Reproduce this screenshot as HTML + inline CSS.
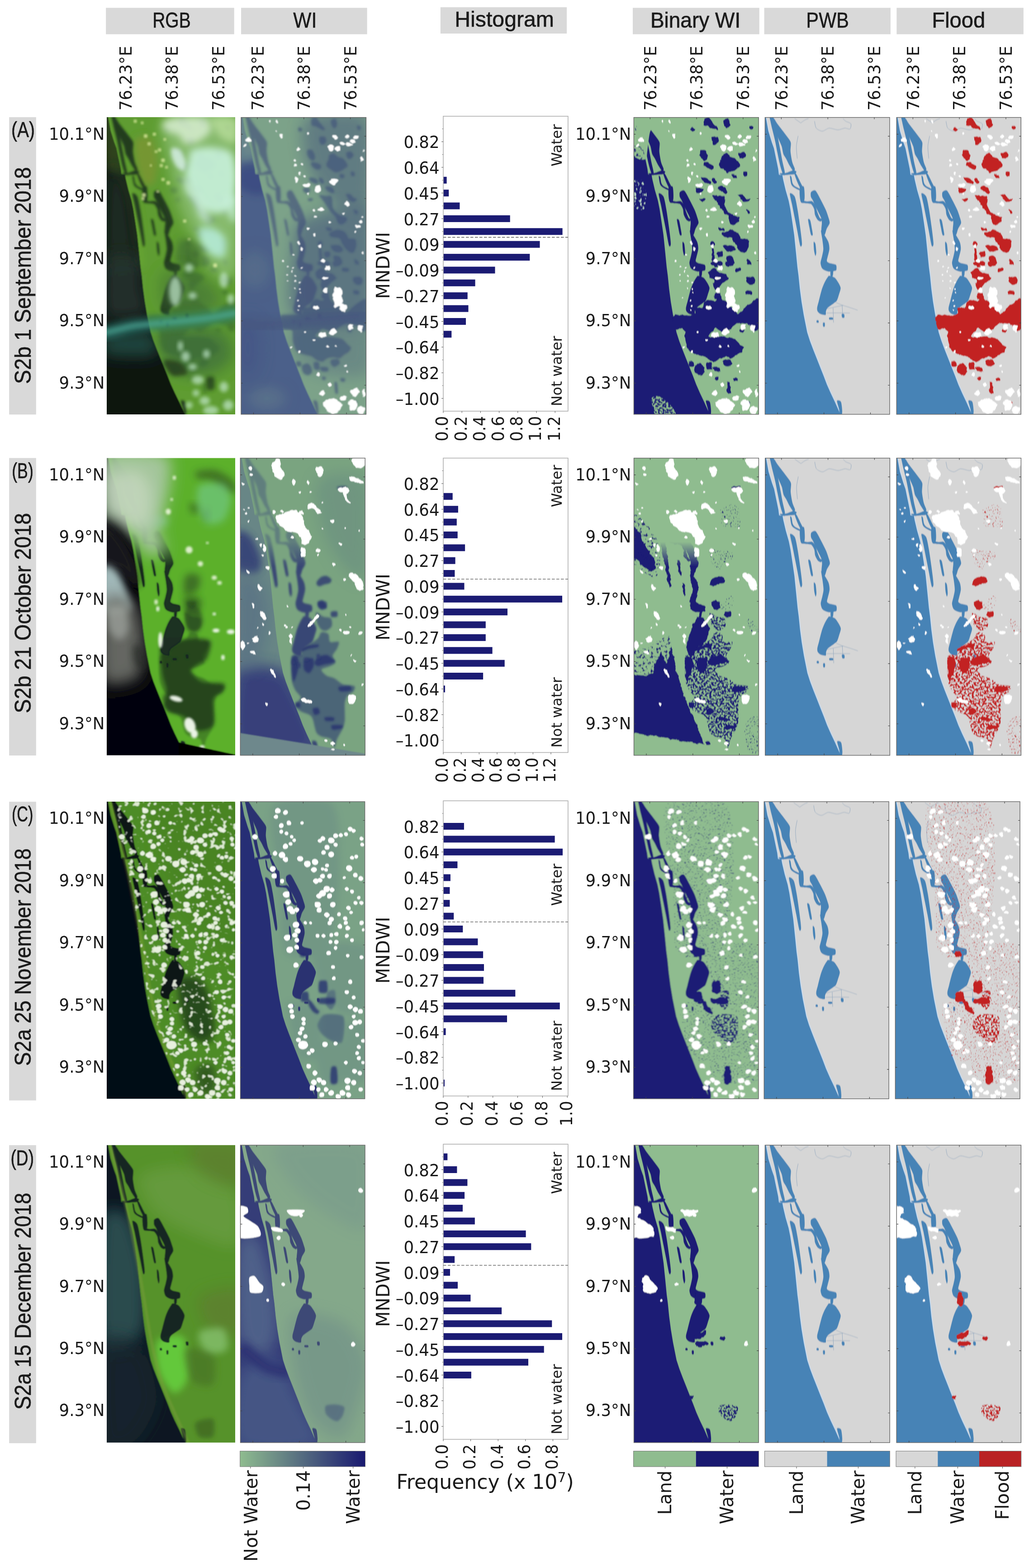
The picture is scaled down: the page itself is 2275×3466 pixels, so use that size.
<!DOCTYPE html>
<html lang="en"><head><meta charset="utf-8"><title>Flood mapping figure</title>
<style>
html,body{margin:0;padding:0;background:#ffffff;}
body{width:2275px;height:3466px;overflow:hidden;}
svg{display:block;}
text{white-space:pre;}
</style></head><body>
<svg width="2275" height="3466" viewBox="0 0 2275 3466">
<rect width="2275" height="3466" fill="#ffffff"/>
<defs>
<linearGradient id="wigrad" x1="0" y1="0" x2="1" y2="0"><stop offset="0" stop-color="#8fbc8f"/><stop offset="1" stop-color="#191970"/></linearGradient>
<path id="ocean" d="M-5 -5 2.8 -1.3 8.2 29.4 15.9 54.4 20.7 67.8 25.5 90.9 30.3 113.9 31.6 125.4 39.3 126.6 41.2 137 46.6 160 53.3 183 57.2 202.3 61.6 231.1 65.8 259.9 69.7 298.3 72.9 330.9 75.4 349.8 78.3 378.6 82.1 407.4 86.9 436.2 94.6 474.6 100.8 493.8 108.1 513 115.8 532.3 123.4 551.5 131.1 570.7 138.4 589.9 146.9 609.1 156.1 628.3 163.8 645.6 170.5 660 172.5 665 -5 665Z"/>
<g id="inwater"><path d="M10.5 -1.3C11.3 -2.6 16.5 -4.1 18.2 -1.3C19.9 1.5 22.2 13.7 23.6 19.8C25 26 27.2 37.9 28.6 44.8C29.9 51.7 32.6 64.5 33.9 71.7C35.3 78.8 37.6 91.9 38.9 98.5C40.3 105.2 43.9 118.3 43.9 121.6C44 124.9 40.7 125.6 39.3 123.5C37.9 121.5 35.1 112.4 33.6 106.2C32 100.1 29 85.1 27.4 77.4C25.8 69.7 23.2 55.5 21.6 48.6C20.1 41.7 17.2 30.9 15.9 25.6C14.6 20.2 12.8 11.9 12 8.3C11.3 4.7 9.7 0 10.5 -1.3Z"/><path d="M19.7 2.5C20.5 1.8 24.8 10.5 27.4 14C30 17.6 36 25.1 39.3 29.4C42.6 33.8 50 43.1 52.4 46.7C54.8 50.3 56.8 52.5 57.4 56.3C57.9 60.1 56.2 69.9 56.6 75.5C57 81.1 59.2 93.4 60.4 98.5C61.7 103.7 65.9 111.2 66.2 113.9C66.5 116.6 64.5 119.7 62.9 118.7C61.4 117.7 56.5 109.9 54.3 106.2C52.1 102.5 48.4 94.2 46.6 90.9C44.8 87.5 42.1 84.8 40.9 81.3C39.6 77.7 38.4 68.3 37 64C35.6 59.6 32 52.7 30.3 48.6C28.6 44.5 25.7 37.1 24.5 33.3C23.3 29.4 21.9 23.9 21.3 19.8C20.6 15.7 18.9 3.3 19.7 2.5Z"/><path d="M32.2 123.5C33.2 122.8 42.6 123.3 46.6 122.4C50.6 121.5 58.9 117.2 62 116.8C65.1 116.4 69.1 118.5 69.7 119.7C70.2 120.8 67.9 124.5 65.8 125.4C63.8 126.4 57.8 126.3 54.3 126.6C50.8 126.9 42.3 128.1 39.3 127.7C36.4 127.3 31.2 124.2 32.2 123.5Z"/><path d="M64.9 123.5C64.6 121.2 67.7 122.6 69.7 125.4C71.6 128.3 77 140 79.3 144.6C81.6 149.2 86.2 157.4 86.9 160C87.7 162.6 86 164.1 85 163.8C84 163.6 81.1 160.9 79.3 158.1C77.5 155.3 73.5 147.3 71.6 142.7C69.7 138.1 65.1 125.8 64.9 123.5Z"/><path d="M55.3 129.3C55.3 127 57.8 129.1 58.5 131.2C59.3 133.2 60 142 61 144.6C62 147.3 63.6 149.6 65.8 151.4C68 153.1 75.9 156.4 77.3 157.7C78.8 159 78 161.3 76.4 161C74.7 160.6 67.2 156.9 64.9 155.2C62.5 153.5 59.8 151.9 58.5 148.5C57.2 145 55.3 131.6 55.3 129.3Z"/><path d="M77.7 154.2C78.9 151.7 84.6 150.7 86 152.7C87.3 154.8 87.8 165.4 87.9 169.6C88 173.8 88.1 181.9 86.9 184C85.8 186.1 80.6 187 79.3 185.4C77.9 183.7 77.2 175.7 77 171.5C76.8 167.4 76.5 156.8 77.7 154.2Z"/><path d="M79.3 183C80.8 182.6 89.4 185.1 92.7 185.4C96 185.6 101.7 183.7 104.2 185C106.8 186.2 110.4 191.5 111.9 194.6C113.4 197.6 114.5 204.4 115.8 208C117 211.6 120 219.1 121.5 221.5C123.1 223.8 127 224.5 127.3 225.7C127.5 226.8 124.8 230 123.4 230.1C122 230.2 118.4 228.2 116.7 226.3C115.1 224.3 112.2 218.9 111.1 215.7C110.1 212.5 110.2 205.5 109 202.3C107.9 199.1 104.7 193.4 102.3 191.7C99.9 190 93.6 190.2 90.8 189.8C88 189.4 82.7 189.7 81.2 188.8C79.6 187.9 77.7 183.5 79.3 183Z"/><path d="M102.3 164.8C103.6 163 109.1 159.4 111.9 161.5C114.7 163.7 120.4 175.4 123.4 181.1C126.5 186.8 132.7 198.9 135 204.2C137.3 209.4 139.6 216.6 140.7 220.5C141.9 224.4 144.1 229.9 143.6 233.4C143.1 236.8 138.4 242.9 136.9 246.4C135.3 250 133.6 259.4 132.1 259.9C130.5 260.4 126.1 253.9 125.4 250.3C124.6 246.7 126.4 236.8 126.3 233C126.2 229.1 125.9 225.6 124.4 221.5C122.9 217.4 117.2 207.2 114.8 202.3C112.4 197.3 108.2 187.6 106.5 184C104.8 180.4 102.5 177.9 101.9 175.4C101.4 172.8 101 166.6 102.3 164.8Z"/><path d="M55.3 167.7C56 165.3 63.6 169.8 65.8 174.4C68 179 70.4 193.4 72 202.3C73.6 211.1 76.4 230.4 77.7 240.7C79.1 250.9 82.1 273.3 82.1 279.1C82.2 284.8 79.7 287.7 78.3 283.9C76.9 280 73.2 258.6 71.6 250.3C69.9 241.9 67.4 229.1 65.8 221.5C64.3 213.8 61.5 199.8 60.1 192.7C58.6 185.5 54.5 170.1 55.3 167.7Z"/><path d="M95.6 225.3C95.8 223 99.2 224.4 100.4 227.2C101.5 230 103.5 242.1 104.2 246.4C105 250.8 106.4 258.1 106.1 259.9C105.9 261.7 103.3 261.9 102.3 259.9C101.3 257.8 99.7 249.1 98.9 244.5C98 239.9 95.4 227.6 95.6 225.3Z"/><path d="M108.1 275.2C108.5 273.2 111.1 276 111.9 279.1C112.7 282.1 113.8 294.7 113.8 298.3C113.8 301.9 112.6 306.5 111.9 306C111.3 305.4 109.5 298.5 109 294.4C108.5 290.3 107.7 277.3 108.1 275.2Z"/><path d="M124.4 249.3C125 248 129.9 256.4 132.1 259.9C134.3 263.3 139.3 271.1 140.7 275.2C142.2 279.3 143.2 286.2 143 290.6C142.8 294.9 140 304.3 139.2 307.9C138.4 311.5 136.8 315.6 137.3 317.5C137.7 319.3 140 320.6 142.6 321.7C145.3 322.8 155.1 323.8 157.2 325.5C159.4 327.3 158.9 333 158.8 334.8C158.7 336.6 158.6 338.2 156.5 339C154.3 339.8 145.9 341.1 142.6 340.9C139.4 340.7 134.3 338.7 132.1 337.6C129.9 336.6 127.5 335 126.3 332.8C125.2 330.7 123.4 324.9 123.4 321.3C123.5 317.7 126.1 310.1 126.9 306C127.7 301.9 129.5 295.5 129.6 290.6C129.6 285.7 128 275 127.3 269.5C126.6 264 123.8 250.6 124.4 249.3Z"/><path d="M146.1 330.6C146.9 328.3 150.7 330 151.3 332.5C151.9 335.1 151.5 347.5 150.7 349.8C149.9 352.1 146.1 352.4 145.5 349.8C144.9 347.2 145.3 332.9 146.1 330.6Z"/><path d="M142.6 349.8C144.7 349.8 151.6 351.9 154.2 353.6C156.7 355.4 160 360.2 161.8 363.3C163.7 366.3 167.7 372.9 168 376.7C168.3 380.5 165.3 388.2 164.1 392.1C163 395.9 160.9 402.9 159.3 405.5C157.8 408.1 154.9 409.2 152.2 411.3C149.6 413.3 141.4 418.6 139.2 420.9C136.9 423.2 136 426.4 135.3 428.5C134.7 430.6 136 435.8 134.4 436.6C132.8 437.4 125.8 435.7 123.4 434.7C121.1 433.7 117.9 430.8 116.9 428.9C115.9 427.1 115.4 424 115.8 420.9C116.1 417.7 118.6 409.6 119.6 405.5C120.6 401.4 122.4 394 123.4 390.1C124.5 386.3 126 380.3 127.3 376.7C128.6 373.1 131.5 366.3 133 363.3C134.6 360.2 137.5 355.4 138.8 353.6C140.1 351.9 140.6 349.8 142.6 349.8Z"/><path d="M142.6 442.4C143.6 441.8 149.2 441.8 150.3 442.4C151.4 443 151.7 446.2 150.7 446.8C149.7 447.4 144.1 447.4 143 446.8C141.9 446.2 141.7 443 142.6 442.4Z"/><path d="M170.5 434.7C171 433.7 174.9 433.7 175.7 434.7C176.4 435.7 176.8 441.4 176.2 442.4C175.7 443.4 172.2 443.4 171.4 442.4C170.7 441.4 169.9 435.7 170.5 434.7Z"/><path d="M128.8 453.9C129.3 452.8 132.1 452.8 132.7 453.9C133.2 455 133.1 461.1 132.7 462.2C132.2 463.3 129.7 463.3 129.2 462.2C128.7 461.1 128.4 455 128.8 453.9Z"/><path d="M114.8 448.7C115.3 448.1 118 448.1 118.6 448.7C119.2 449.4 119.7 452.9 119.2 453.5C118.7 454.2 115.4 454.2 114.8 453.5C114.2 452.9 114.3 449.4 114.8 448.7Z"/><path d="M159.9 626.4C160.4 624.1 167 625.5 168.6 628.3C170.1 631.1 171.2 643.5 171.4 647.5C171.7 651.5 171.1 657 170.5 658.4C169.8 659.9 167.4 660.1 166.6 658.4C165.9 656.7 165.6 649.8 164.7 645.6C163.8 641.3 159.4 628.7 159.9 626.4Z"/></g>
<g id="canals" fill="none"><path d="M158 409.3C160.1 410.2 169 414 173.4 415.5C177.7 417 186.3 419.4 190.7 420.9C195 422.3 204 425.5 206 426.2"/><path d="M136.9 423.2C139.2 422.7 149.3 420.4 154.2 419.3C159 418.3 170.8 416 173.4 415.5"/><path d="M136.9 432.4C140.2 432.3 154.9 432 161.8 432C168.8 432 185.1 432.3 188.7 432.4"/><path d="M171.4 415.5 172.4 436.2"/><path d="M151.3 420.9 152.2 453.5"/><path d="M79.3 12.1C80.5 11.2 86.6 6.7 88.9 5.4C91.2 4.1 95.5 2.9 96.5 2.5"/><path d="M65.8 2.5 79.3 12.1"/><path d="M110 8.3C110.5 10.3 111.5 20.7 113.8 23.6C116.1 26.6 123.4 30.4 127.3 30.4C131.1 30.4 138 24 142.6 23.6C147.2 23.3 157.2 27.5 161.8 27.5C166.5 27.5 173.6 23.9 177.2 23.6C180.8 23.4 186.9 26.8 188.7 25.6C190.5 24.3 191.9 16.4 190.7 14C189.4 11.7 181.4 9.8 179.1 8.3C176.8 6.7 174.1 3.3 173.4 2.5"/><path d="M73.5 40.9C73 44 69.9 57.3 69.7 64C69.4 70.6 71.3 87.3 71.6 90.9"/></g>
<filter id="soft" filterUnits="userSpaceOnUse" x="-10" y="-10" width="310" height="690"><feGaussianBlur stdDeviation="0.8"/></filter>
<filter id="b2" x="-20%" y="-20%" width="140%" height="140%"><feGaussianBlur stdDeviation="2"/></filter>
<filter id="b4" x="-30%" y="-30%" width="160%" height="160%"><feGaussianBlur stdDeviation="4"/></filter>
<filter id="b8" x="-40%" y="-40%" width="180%" height="180%"><feGaussianBlur stdDeviation="8"/></filter>
<filter id="b16" x="-50%" y="-50%" width="200%" height="200%"><feGaussianBlur stdDeviation="16"/></filter>
<filter id="rough" x="-5%" y="-5%" width="110%" height="110%"><feTurbulence type="fractalNoise" baseFrequency="0.09" numOctaves="2" seed="7" result="n"/><feDisplacementMap in="SourceGraphic" in2="n" scale="7" xChannelSelector="R" yChannelSelector="G"/></filter>
<filter id="spk1" x="-2%" y="-2%" width="104%" height="104%"><feTurbulence type="fractalNoise" baseFrequency="0.22" numOctaves="2" seed="3" result="n"/><feColorMatrix in="n" type="matrix" values="0 0 0 0 0 0 0 0 0 0 0 0 0 0 0 0 0 0 8 -3.5" result="m"/><feComposite in="SourceGraphic" in2="m" operator="in"/></filter>
<filter id="spk2" x="-2%" y="-2%" width="104%" height="104%"><feTurbulence type="fractalNoise" baseFrequency="0.3" numOctaves="2" seed="5" result="n"/><feColorMatrix in="n" type="matrix" values="0 0 0 0 0 0 0 0 0 0 0 0 0 0 0 0 0 0 10 -6.3" result="m"/><feComposite in="SourceGraphic" in2="m" operator="in"/></filter>
<filter id="spk3" x="-2%" y="-2%" width="104%" height="104%"><feTurbulence type="fractalNoise" baseFrequency="0.16" numOctaves="2" seed="11" result="n"/><feColorMatrix in="n" type="matrix" values="0 0 0 0 0 0 0 0 0 0 0 0 0 0 0 0 0 0 6 -3.3" result="m"/><feComposite in="SourceGraphic" in2="m" operator="in"/></filter>
<filter id="spk4" x="-2%" y="-2%" width="104%" height="104%"><feTurbulence type="fractalNoise" baseFrequency="0.085" numOctaves="2" seed="21" result="n"/><feColorMatrix in="n" type="matrix" values="0 0 0 0 0 0 0 0 0 0 0 0 0 0 0 0 0 0 12 -7.3" result="m"/><feComposite in="SourceGraphic" in2="m" operator="in"/></filter>
<g id="flood0"><path d="M157 1.6C158.5 0.2 164.6 -0.7 166.6 0.2C168.7 1.1 170.6 5.9 172.4 8.3C174.2 10.6 178.3 15.6 180 17.9C181.8 20.2 185.6 24.2 185.8 25.6C186.1 27 183.8 28.7 182 28.4C180.2 28.2 174.7 24.8 172.4 23.6C170.1 22.5 166.7 20.6 164.7 19.8C162.6 19 158.3 19.2 157 17.9C155.7 16.6 155.1 12.4 155.1 10.2C155.1 8 155.5 2.9 157 1.6Z"/><path d="M199.3 6.4C200.4 4.6 207.1 1.8 208.9 2.5C210.6 3.3 212.4 9.6 212.7 12.1C213 14.7 211.8 20.2 210.8 21.7C209.8 23.3 206.4 24.4 205 23.6C203.6 22.9 201 18.3 200.2 16C199.4 13.7 198.1 8.2 199.3 6.4Z"/><path d="M128.2 21.7C129.2 21.3 133.1 22.6 134 23.6C134.9 24.7 135.6 28.4 134.9 29.4C134.3 30.4 130.3 31.7 129.2 31.3C128 30.9 126.4 27.8 126.3 26.5C126.1 25.2 127.2 22.1 128.2 21.7Z"/><path d="M256.9 17.9C257.6 16.9 263.5 18.7 264.6 19.8C265.6 21 265.3 25.5 264.6 26.5C263.8 27.6 259.8 28.6 258.8 27.5C257.8 26.3 256.1 18.9 256.9 17.9Z"/><path d="M174.3 42.9C176 41.6 183.9 41.8 185.8 42.9C187.7 43.9 188.7 48.5 188.7 50.5C188.7 52.6 187.2 56.9 185.8 58.2C184.4 59.5 179.8 60.9 178.1 60.1C176.5 59.4 173.8 54.8 173.3 52.5C172.8 50.2 172.6 44.1 174.3 42.9Z"/><path d="M147.4 71.7C148.8 70.4 155 70.4 157 71.7C159.1 72.9 161.9 78.7 162.8 81.3C163.7 83.8 164.2 88.9 163.7 90.9C163.2 92.8 160.6 95.7 158.9 95.7C157.3 95.7 152.9 92.8 151.2 90.9C149.6 88.9 147 83.8 146.4 81.3C145.9 78.7 146 72.9 147.4 71.7Z"/><path d="M157 98.5C158.8 98 165.8 99.4 168.5 100.5C171.2 101.5 176.3 104.4 177.2 106.2C178.1 108 176.7 112.8 175.2 113.9C173.8 115.1 168.8 115.4 166.6 114.9C164.4 114.4 160.5 111.5 158.9 110.1C157.4 108.7 155.3 105.8 155.1 104.3C154.8 102.8 155.2 99.1 157 98.5Z"/><path d="M195.4 83.2C196.9 81.4 202.5 78.8 205 79.3C207.6 79.9 211.8 85.5 214.6 87C217.4 88.6 223.6 89.1 226.1 90.9C228.7 92.7 232.5 98.2 233.8 100.5C235.1 102.8 236.5 106.4 235.7 108.1C235 109.9 230.4 112.4 228.1 113.9C225.8 115.4 221 118.6 218.5 119.7C215.9 120.7 211.4 122.1 208.9 121.6C206.3 121.1 201.8 117.6 199.3 115.8C196.7 114 190.9 110.2 189.7 108.1C188.4 106.1 189.1 102.5 189.7 100.5C190.2 98.4 192.7 95.1 193.5 92.8C194.3 90.5 193.9 85 195.4 83.2Z"/><path d="M233.8 77.4C235.2 76.4 241.4 74.7 243.4 75.5C245.5 76.3 249.2 81.1 249.2 83.2C249.2 85.2 245.1 89.8 243.4 90.9C241.8 91.9 238.1 91.9 236.7 90.9C235.3 89.8 233.2 85 232.9 83.2C232.5 81.4 232.4 78.4 233.8 77.4Z"/><path d="M243.4 119.7C244.3 118.6 250.1 120.3 251.1 121.6C252.1 122.9 252 128.3 251.1 129.3C250.2 130.3 245.4 130.6 244.4 129.3C243.4 128 242.5 120.7 243.4 119.7Z"/><path d="M218.5 125.4C219.5 124.4 226.8 125.4 228.1 126.4C229.3 127.4 229.1 132.1 228.1 133.1C227 134.1 221.7 135.1 220.4 134.1C219.1 133.1 217.4 126.5 218.5 125.4Z"/><path d="M151.2 133.1C152.7 132.3 160.2 133.1 162.8 134.1C165.3 135.1 169.7 139.1 170.4 140.8C171.2 142.5 170.1 146 168.5 146.6C167 147.1 161.1 145.5 158.9 144.6C156.7 143.7 153.2 141.4 152.2 139.8C151.2 138.3 149.8 133.9 151.2 133.1Z"/><path d="M173.3 133.1C174.2 132.3 178.6 133.5 180 135C181.5 136.6 184.1 143.1 183.9 144.6C183.6 146.2 179.5 147.1 178.1 146.6C176.7 146 174 142.6 173.3 140.8C172.7 139 172.4 133.9 173.3 133.1Z"/><path d="M137.8 156.2C139.5 155.1 149.3 155.1 151.2 156.2C153.2 157.2 153 162.3 152.2 163.8C151.4 165.4 147.3 167.7 145.5 167.7C143.7 167.7 139.8 165.4 138.8 163.8C137.7 162.3 136.1 157.2 137.8 156.2Z"/><path d="M187.7 152.3C189.5 151.8 198.6 152.7 201.2 154.2C203.7 155.8 206.7 162.1 206.9 163.8C207.2 165.6 204.9 167.7 203.1 167.7C201.3 167.7 195.5 165.1 193.5 163.8C191.4 162.6 188.5 159.6 187.7 158.1C187 156.5 185.9 152.8 187.7 152.3Z"/><path d="M173.3 171.5C174.6 170.8 184.3 173.2 187.7 173.4C191.2 173.7 197.3 172.2 199.3 173.4C201.2 174.7 201.6 179.7 202.1 183C202.6 186.4 202.2 195.1 203.1 198.4C204 201.7 206.8 205.7 208.9 208C210.9 210.3 215.1 213.9 218.5 215.7C221.8 217.5 232 219.4 233.8 221.5C235.6 223.5 233.4 229 231.9 231.1C230.4 233.1 224.6 236.6 222.3 236.8C220 237.1 216.4 235.3 214.6 233C212.8 230.7 210.9 222.6 208.9 219.5C206.8 216.5 201.6 212.8 199.3 209.9C196.9 207.1 193.6 201.5 191.6 198.4C189.5 195.3 185.7 189.5 183.9 186.9C182.1 184.3 179.5 181.3 178.1 179.2C176.7 177.2 172 172.3 173.3 171.5Z"/><path d="M231.9 169.6C232.8 168.8 239.2 168.6 241.5 169.6C243.8 170.6 247.1 175.8 249.2 177.3C251.2 178.8 256.9 179.8 256.9 181.1C256.9 182.4 251.5 186.6 249.2 186.9C246.9 187.1 241.5 184.6 239.6 183C237.7 181.5 235.8 177.2 234.8 175.4C233.8 173.6 231 170.4 231.9 169.6Z"/><path d="M147.4 180.2C148.2 179.3 155.5 177.9 157 178.2C158.5 178.6 159.7 182.2 158.9 183C158.2 183.9 152.8 185.4 151.2 185C149.7 184.6 146.6 181.1 147.4 180.2Z"/><path d="M249.2 204.2C249.7 203.3 255.6 205.1 256.9 206.1C258.1 207.1 259.3 211 258.8 211.9C258.3 212.8 254.3 213.8 253 212.8C251.7 211.8 248.7 205.1 249.2 204.2Z"/><path d="M195.4 256C197.2 254 208.3 248.9 212.7 248.3C217.1 247.8 225 250.4 228.1 252.2C231.1 254 234.5 259.7 235.7 261.8C237 263.8 235.4 266.5 237.7 267.6C240 268.6 250.7 267.2 253 269.5C255.3 271.8 255.5 281 254.9 284.8C254.4 288.7 251 296.5 249.2 298.3C247.4 300.1 243.8 299.3 241.5 298.3C239.2 297.3 234.2 293.2 231.9 290.6C229.6 288 226 282.1 224.2 279.1C222.4 276 220.5 269.3 218.5 267.6C216.4 265.8 211.4 266.1 208.9 265.6C206.3 265.1 201 265 199.3 263.7C197.5 262.4 193.6 258.1 195.4 256Z"/><path d="M199.3 282.9C201.6 281.9 214.9 281.6 218.5 282.9C222 284.2 226.1 290.5 226.1 292.5C226.1 294.6 221 297.8 218.5 298.3C215.9 298.8 209.2 297.4 206.9 296.4C204.6 295.3 202.2 292.4 201.2 290.6C200.2 288.8 196.9 283.9 199.3 282.9Z"/><path d="M187.7 242.6C188.8 241.8 197.5 243.5 199.3 244.5C201 245.5 202.2 249.5 201.2 250.3C200.2 251 193.4 251.3 191.6 250.3C189.8 249.2 186.7 243.4 187.7 242.6Z"/><path d="M170.4 275.2C171.2 273.7 176.8 272.3 178.1 273.3C179.4 274.3 180.8 281.4 180 282.9C179.3 284.5 173.6 285.9 172.4 284.8C171.1 283.8 169.7 276.8 170.4 275.2Z"/><path d="M172.4 290.6C172.8 287 176.1 287.5 177.2 290.6C178.2 293.7 178.9 308.5 180 313.6C181.2 318.8 185.8 326.7 185.8 329C185.8 331.3 181.6 332.5 180 330.9C178.5 329.4 175.3 322.9 174.3 317.5C173.3 312.1 172 294.2 172.4 290.6Z"/><path d="M183.9 298.3C184.9 296.5 193.6 295.3 195.4 296.4C197.2 297.4 198.4 304.2 197.3 306C196.3 307.8 189.5 310.8 187.7 309.8C185.9 308.8 182.9 300.1 183.9 298.3Z"/><path d="M205 306C206.6 304.7 215.9 305.8 218.5 307.9C221 309.9 224.7 318.5 224.2 321.3C223.7 324.1 216.9 329.5 214.6 329C212.3 328.5 208.2 320.6 206.9 317.5C205.7 314.4 203.5 307.2 205 306Z"/><path d="M251.1 313.6C251.9 312.9 257.5 315.9 258.8 317.5C260.1 319 261.5 324.4 260.7 325.2C259.9 325.9 254.3 324.8 253 323.2C251.7 321.7 250.3 314.4 251.1 313.6Z"/><path d="M187.7 317.5C189 316.5 196.3 319.5 197.3 321.3C198.4 323.1 196.7 329.9 195.4 330.9C194.1 332 188.8 330.8 187.7 329C186.7 327.2 186.5 318.5 187.7 317.5Z"/><path d="M87.9 438.1C91.1 435.1 106.4 436.7 112.8 436.2C119.2 435.7 132.8 436.4 135.9 434.3C139 432.3 133.8 422.8 135.9 420.9C137.9 418.9 148.7 421.2 151.2 419.9C153.8 418.6 153 413.7 155.1 411.3C157.1 408.8 163.3 402.4 166.6 401.7C169.9 400.9 176.7 406.5 180 405.5C183.4 404.5 189 394 191.6 394C194.1 394 196.9 402.9 199.3 405.5C201.6 408.1 206.3 411.1 208.9 413.2C211.4 415.2 215.6 418 218.5 420.9C221.3 423.7 226.7 434.1 230 434.3C233.3 434.6 239.8 425.9 243.4 422.8C247 419.7 252.3 414 256.9 411.3C261.5 408.6 275.2 396.7 278 402.6C280.8 408.5 279.8 448.4 278 455.4C276.2 462.5 267.4 454.9 264.6 455.4C261.7 455.9 259.7 459.3 256.9 459.3C254.1 459.3 247 455.9 243.4 455.4C239.8 454.9 233.3 454.4 230 455.4C226.7 456.5 221.3 461.1 218.5 463.1C215.6 465.2 211.4 469.3 208.9 470.8C206.3 472.3 201.6 474.6 199.3 474.6C196.9 474.6 194.1 471.8 191.6 470.8C189 469.8 182.6 466.4 180 467C177.5 467.5 174.4 472.6 172.4 474.6C170.3 476.7 164.7 480.8 164.7 482.3C164.7 483.9 169 485.9 172.4 486.2C175.7 486.4 184.8 484.2 189.7 484.2C194.5 484.2 204.2 485.4 208.9 486.2C213.5 486.9 220.6 488 224.2 490C227.8 492.1 233.2 499 235.7 501.5C238.3 504.1 243.2 506.9 243.4 509.2C243.7 511.5 239.7 516.8 237.7 518.8C235.6 520.9 230.6 522.8 228.1 524.6C225.5 526.4 221.5 531.5 218.5 532.3C215.4 533 208.6 530.3 205 530.3C201.4 530.3 194.9 531 191.6 532.3C188.2 533.5 183.4 539.4 180 539.9C176.7 540.4 169.7 537.6 166.6 536.1C163.5 534.6 160.3 529.9 157 528.4C153.7 526.9 145.2 525.6 141.6 524.6C138.1 523.5 132.9 522.3 130.1 520.7C127.3 519.2 122.6 516.6 120.5 513C118.5 509.5 115.8 499.5 114.8 493.8C113.7 488.2 115.4 474.4 112.8 470.8C110.3 467.2 98.7 468.5 95.5 467C92.3 465.4 89.9 463.1 88.8 459.3C87.8 455.4 84.7 441.2 87.9 438.1Z"/><path d="M170.4 336.4C172.5 334.8 177.5 331.8 180 332.5C182.6 333.3 186.6 340.3 189.7 342.1C192.7 343.9 200.3 344.2 203.1 346C205.9 347.8 211.3 353 210.8 355.6C210.3 358.1 202.1 362.6 199.3 365.2C196.4 367.7 192 372.5 189.7 374.8C187.3 377.1 183.8 383 182 382.5C180.2 381.9 176.7 374 176.2 370.9C175.7 367.9 179.2 361.5 178.1 359.4C177.1 357.4 170.3 357.6 168.5 355.6C166.7 353.5 164.4 346.6 164.7 344C164.9 341.5 168.4 337.9 170.4 336.4Z"/><path d="M249.2 353.6C251.2 352.2 261.9 351.9 264.6 352.7C267.2 353.5 269.1 357.2 269.4 359.4C269.6 361.6 268.1 367.6 266.5 369C264.8 370.4 259.2 370.7 256.9 370C254.6 369.2 250.2 365.4 249.2 363.3C248.2 361.1 247.1 355.1 249.2 353.6Z"/><path d="M249.2 382.5C250.6 381.6 259.2 382.3 260.7 383.4C262.2 384.6 262.1 390.2 260.7 391.1C259.3 392 251.7 391.3 250.1 390.1C248.6 389 247.8 383.4 249.2 382.5Z"/><path d="M224.2 332.5C225.9 331.6 235.9 332.5 237.7 333.5C239.5 334.5 239.3 339.3 237.7 340.2C236 341.1 227 341.2 225.2 340.2C223.4 339.2 222.6 333.4 224.2 332.5Z"/><path d="M170.4 319.1C172.8 318.1 187.3 318.1 189.7 319.1C192 320.1 190 325.7 187.7 326.8C185.4 327.8 174.7 327.8 172.4 326.8C170.1 325.7 168.1 320.1 170.4 319.1Z"/><path d="M203.1 319.1C204.4 317.8 213.3 317.8 214.6 319.1C215.9 320.4 214 327.4 212.7 328.7C211.4 330 206.3 330 205 328.7C203.7 327.4 201.8 320.4 203.1 319.1Z"/><path d="M180 388.2C181.8 386.7 189.5 385 191.6 386.3C193.6 387.6 196.2 395.8 195.4 397.8C194.6 399.9 188.1 401.7 185.8 401.7C183.5 401.7 178.9 399.6 178.1 397.8C177.4 396 178.3 389.8 180 388.2Z"/><path d="M122.4 539.9C123.6 538.7 130.6 538.7 132 539.9C133.4 541.2 134.1 548.3 133 549.5C131.8 550.8 124.8 550.8 123.4 549.5C122 548.3 121.3 541.2 122.4 539.9Z"/><path d="M135.9 547.6C137.5 545.8 144.8 543.3 147.4 543.8C150 544.3 153.8 548.9 155.1 551.5C156.4 554 157.8 560.5 157 563C156.2 565.4 151.6 569.2 149.3 569.7C147 570.2 141.6 568.5 139.7 566.8C137.8 565.2 135.4 559.8 134.9 557.2C134.4 554.7 134.2 549.4 135.9 547.6Z"/><path d="M176.2 551.5C178 550.3 189.4 551.1 191.6 552.4C193.7 553.7 194.3 559.9 192.5 561.1C190.7 562.2 180.3 562.3 178.1 561.1C176 559.8 174.4 552.6 176.2 551.5Z"/><path d="M160.8 541.9C162.1 539.9 170.7 539.8 172.4 541.9C174 543.9 174.6 555.3 173.3 557.2C172 559.1 164.4 558.3 162.8 556.3C161.1 554.2 159.6 543.8 160.8 541.9Z"/><path d="M199.3 536.1C201.3 534.6 212.1 533.2 214.6 534.2C217.2 535.2 219.5 541.5 218.5 543.8C217.4 546.1 209.5 551.2 206.9 551.5C204.4 551.7 200.3 547.7 199.3 545.7C198.2 543.6 197.2 537.6 199.3 536.1Z"/><path d="M220.4 576.4C221.5 575.7 228.8 576.4 230 577.4C231.1 578.4 230.2 583.3 229 584.1C227.9 584.9 222.5 584.2 221.3 583.1C220.2 582.1 219.2 577.2 220.4 576.4Z"/><path d="M206.9 586C207.4 583.1 211.7 583.9 212.7 587C213.7 590.1 215.1 606.1 214.6 609.1C214.1 612 209.9 612.1 208.9 609.1C207.8 606 206.4 589 206.9 586Z"/><path d="M260.7 455.4C262.8 453.9 274 451.5 276.1 453.5C278.1 455.6 277.4 468.2 276.1 470.8C274.8 473.4 268.5 473.5 266.5 472.7C264.4 472 261.5 467.3 260.7 465C259.9 462.7 258.7 457 260.7 455.4Z"/><path d="M235.7 467C236.9 466.3 244.3 467.9 245.3 468.9C246.4 469.9 244.6 474 243.4 474.6C242.3 475.3 237.7 474.7 236.7 473.7C235.7 472.7 234.6 467.6 235.7 467Z"/><path d="M180 572.6C181.1 571.9 187 573.5 187.7 574.5C188.5 575.5 186.8 579.6 185.8 580.3C184.8 580.9 180.8 580.3 180 579.3C179.3 578.3 179 573.2 180 572.6Z"/><path d="M251.1 626.4C251.9 625.8 256.2 627.3 256.9 628.3C257.5 629.3 256.7 633.5 255.9 634C255.1 634.6 251.7 633.1 251.1 632.1C250.5 631.1 250.3 626.9 251.1 626.4Z"/></g>
<g id="cloud0"><path d="M22.5 48.6C22.7 49.6 23 52 22.4 52.8C21.8 53.6 19.2 54.8 18 54.8C16.9 54.9 14.8 53.7 13.8 53.2C12.8 52.6 11.1 51.4 10.7 50.6C10.3 49.7 10.4 47.6 10.8 46.7C11.1 45.7 12.4 43.9 13.4 43.4C14.3 42.8 17 42.1 18.1 42.4C19.1 42.6 20.5 44.6 21.1 45.5C21.7 46.3 22.3 47.6 22.5 48.6Z"/><path d="M10.8 62.1C10.8 62.5 10.4 63.5 9.9 63.8C9.5 64 8.2 64 7.7 64C7.1 64 6.4 63.9 5.9 63.8C5.4 63.6 4.2 63.3 4 62.9C3.7 62.6 3.9 61.6 4.1 61.2C4.3 60.8 5.1 60.1 5.6 59.9C6.1 59.8 7.2 59.9 7.7 59.9C8.2 60 9.2 60.2 9.6 60.5C10.1 60.8 10.7 61.6 10.8 62.1Z"/><path d="M82.6 9.2C82.6 9.8 82.5 10.9 82.3 11.3C82 11.6 81.1 12 80.6 12.1C80.2 12.2 79.2 12.2 78.8 12C78.4 11.8 77.6 10.8 77.5 10.3C77.4 9.9 77.8 8.8 78.1 8.4C78.3 7.9 78.7 7.4 79.1 7C79.4 6.7 80.3 5.8 80.7 5.9C81.1 5.9 81.8 7 82.1 7.4C82.3 7.9 82.6 8.7 82.6 9.2Z"/><path d="M65.3 9.2C65.3 9.7 64.9 10.4 64.7 10.7C64.4 11.1 63.7 11.7 63.3 11.8C63 11.9 62.1 11.5 61.7 11.3C61.4 11 60.9 10.4 60.8 10C60.6 9.6 60.4 8.8 60.5 8.4C60.5 7.9 61 6.8 61.4 6.6C61.7 6.3 62.9 6.2 63.4 6.3C63.9 6.4 64.9 7 65.2 7.4C65.4 7.7 65.4 8.8 65.3 9.2Z"/><path d="M93 41.3C93 42.1 92.7 43.7 92.3 44.3C92 44.9 91 45.7 90.4 45.9C89.8 46.1 88.5 46 88 45.6C87.5 45.2 86.9 43.7 86.6 42.9C86.4 42.1 86.2 40.3 86.5 39.7C86.7 39 88 38.6 88.5 38.3C89 38 89.8 37.2 90.3 37.2C90.8 37.2 92.2 37.6 92.5 38.2C92.9 38.7 93 40.5 93 41.3Z"/><path d="M130.1 69.7C130.2 70.4 129.7 72 129.2 72.5C128.8 73 127.5 73.5 126.9 73.5C126.3 73.5 125.1 73.1 124.7 72.8C124.3 72.4 123.9 71.4 123.6 70.8C123.4 70.2 122.7 68.9 122.8 68.3C123 67.8 124 66.8 124.6 66.4C125.1 66.1 126.4 65.5 126.9 65.6C127.5 65.7 128.4 66.8 128.8 67.4C129.2 67.9 130 69.1 130.1 69.7Z"/><path d="M121.8 94.7C121.8 95.2 121.3 96.2 120.9 96.6C120.6 97.1 119.7 98.2 119.2 98.3C118.7 98.4 117.7 97.6 117.1 97.2C116.6 96.9 115.5 96.4 115.3 95.9C115.1 95.4 115.3 94.1 115.5 93.6C115.7 93.1 116.6 92.5 117.1 92.2C117.6 91.9 118.7 91.2 119.2 91.3C119.7 91.4 120.4 92.4 120.8 92.9C121.2 93.3 121.8 94.2 121.8 94.7Z"/><path d="M123.3 106.2C123.3 106.8 123.6 108.2 123.3 108.5C123 108.9 121.6 108.8 121 108.8C120.4 108.9 119.3 109.3 118.9 109.1C118.5 108.9 118.2 107.6 118.1 107.1C117.9 106.6 117.8 105.8 117.9 105.3C118 104.7 118.3 103.3 118.7 103.1C119.1 102.9 120.4 103.4 121 103.5C121.6 103.7 122.7 103.8 123 104.2C123.3 104.5 123.2 105.6 123.3 106.2Z"/><path d="M126.2 137.9C126.2 139.2 125.7 141.6 125.2 142.4C124.8 143.2 123.7 143.8 123 144.2C122.4 144.5 120.7 145.6 120.3 145.1C119.8 144.5 119.7 141.3 119.5 140C119.3 138.7 118.7 136.7 118.8 135.4C118.9 134.2 119.7 131.2 120.2 130.7C120.8 130.2 122.3 131.5 123 131.8C123.7 132.1 125 132.3 125.4 133.1C125.9 133.9 126.2 136.7 126.2 137.9Z"/><path d="M136.3 104.3C136.3 104.8 135.9 105.6 135.7 106C135.4 106.4 134.7 107 134.4 107C134 107.1 133.3 106.6 132.9 106.4C132.6 106.2 131.7 105.7 131.5 105.3C131.4 104.9 131.4 103.7 131.5 103.3C131.7 102.8 132.4 102 132.7 101.9C133.1 101.7 133.9 101.9 134.3 102C134.7 102.1 135.5 102.3 135.7 102.6C136 102.9 136.3 103.9 136.3 104.3Z"/><path d="M132 123.5C132 124.1 131.8 125.1 131.6 125.5C131.4 126 130.8 126.9 130.5 127C130.2 127.1 129.5 126.5 129.2 126.1C128.9 125.8 128.4 125.1 128.3 124.6C128.2 124.1 128.1 122.9 128.3 122.4C128.4 122 129 121.4 129.3 121.2C129.6 120.9 130.1 120.4 130.5 120.5C130.8 120.5 131.4 121 131.7 121.4C131.9 121.9 132 123 132 123.5Z"/><path d="M143.1 129.3C143.1 129.7 142.9 130.5 142.5 130.8C142.1 131.2 140.9 131.7 140.4 131.7C139.8 131.7 138.7 131.2 138.2 131C137.8 130.8 137.3 130.3 137 129.9C136.8 129.6 136.5 128.9 136.6 128.5C136.8 128.2 137.6 127.7 138.1 127.4C138.6 127.2 139.8 126.7 140.4 126.8C141 126.8 142.2 127.4 142.5 127.7C142.9 128 143.1 128.9 143.1 129.3Z"/><path d="M152.4 149.4C152.4 150.1 152.4 151.5 151.6 152.1C150.7 152.6 147.7 153.3 146.1 153.5C144.5 153.6 140.8 153.6 139.7 153.2C138.5 152.8 137.6 151.3 137.3 150.6C137 149.9 136.7 148.8 137.2 148.3C137.6 147.7 139.6 146.8 140.7 146.5C141.9 146.2 144.4 146 145.9 146C147.3 146.1 150.8 146.3 151.7 146.8C152.6 147.2 152.4 148.7 152.4 149.4Z"/><path d="M176.7 158.1C176.8 159.4 177.1 162.3 176.4 163.4C175.8 164.4 173.1 165.7 171.8 166.1C170.4 166.4 167.2 166.5 166.2 165.8C165.2 165 164.4 161.8 164.2 160.5C163.9 159.1 163.9 157 164.2 155.7C164.5 154.4 165.5 151.6 166.5 150.9C167.5 150.1 170.6 149.7 171.8 150.1C173 150.4 175 152.4 175.6 153.5C176.3 154.6 176.6 156.8 176.7 158.1Z"/><path d="M214.4 141.8C214.2 142.9 211.2 144.4 210.1 145.4C209.1 146.4 207.7 148.9 206.5 149.1C205.4 149.4 202.9 147.6 201.5 147C200.1 146.4 196.5 145.5 196.1 144.5C195.7 143.6 198.2 141.1 198.8 139.8C199.3 138.5 199.4 135.7 200.4 135C201.5 134.2 205 134.3 206.5 134.5C208 134.7 210.9 135.8 212 136.7C213 137.7 214.7 140.6 214.4 141.8Z"/><path d="M214.3 43.8C214.4 44.7 213.8 46.6 213.2 47.2C212.6 47.9 210.8 48.8 209.8 49C208.9 49.1 206.9 48.8 206 48.4C205.2 47.9 204 46.5 203.6 45.6C203.2 44.7 202.8 42.7 203.1 41.9C203.5 41.1 205.3 40 206.2 39.6C207.1 39.1 209.1 38.1 209.9 38.3C210.7 38.4 211.9 40.2 212.5 41C213.1 41.7 214.2 43 214.3 43.8Z"/><path d="M206.6 65.9C206.8 67.2 206.2 70.2 205.5 71.4C204.7 72.6 202 74.6 200.7 74.7C199.5 74.8 197.1 72.8 195.9 72C194.7 71.3 192.3 70 191.7 68.8C191.2 67.6 191.4 64.4 191.9 63.1C192.4 61.8 194.3 59.4 195.4 58.9C196.5 58.4 199.2 59 200.3 59.4C201.5 59.8 203.1 60.9 203.9 61.8C204.7 62.7 206.4 64.6 206.6 65.9Z"/><path d="M220.4 68.8C220.5 69.8 220.5 72 219.9 72.7C219.3 73.4 216.8 74 215.7 74.1C214.6 74.2 212.7 73.7 211.7 73.2C210.8 72.8 208.9 71.6 208.5 70.7C208.1 69.9 208.1 67.7 208.5 66.8C208.9 65.9 210.4 64.3 211.4 63.8C212.3 63.3 214.7 63 215.7 63.2C216.8 63.4 218.6 64.6 219.2 65.4C219.8 66.1 220.3 67.8 220.4 68.8Z"/><path d="M230.3 57.3C230.5 58 229.8 59.7 229.1 60.3C228.4 60.8 226.3 61.4 225.2 61.4C224.2 61.5 222.2 61.3 221.3 60.9C220.5 60.6 219.5 59.4 219 58.6C218.5 57.9 217.5 56.2 217.8 55.6C218.2 54.9 220.6 54.1 221.6 53.9C222.5 53.6 224.2 53.5 225.1 53.6C226 53.7 227.6 54.3 228.3 54.8C229 55.3 230.2 56.5 230.3 57.3Z"/><path d="M245.6 60.1C245.6 60.9 244.2 62.4 243.3 63C242.4 63.6 240.3 64.5 239 64.7C237.7 64.9 234.7 64.8 233.7 64.3C232.7 63.9 232.1 62.2 231.7 61.5C231.3 60.7 230.6 59.4 230.8 58.6C231.1 57.9 232.6 56.4 233.7 55.9C234.8 55.5 237.8 55.2 239 55.4C240.3 55.6 242.2 56.7 243.1 57.4C244 58 245.6 59.4 245.6 60.1Z"/><path d="M252.3 52.5C252.4 53.2 252.5 54.8 252 55.4C251.4 55.9 249.3 56.7 248.3 56.8C247.3 56.9 245.2 56.5 244.4 56.1C243.6 55.7 242.8 54.5 242.4 53.8C242 53.1 241.1 51.6 241.3 50.9C241.5 50.1 243.1 48.7 244.1 48.4C245 48 247.3 48.1 248.3 48.3C249.3 48.5 251.1 49.2 251.7 49.7C252.2 50.3 252.3 51.7 252.3 52.5Z"/><path d="M258.9 43.8C258.8 44.5 257.4 45.5 256.8 46C256.2 46.4 255.3 46.7 254.6 46.9C253.9 47.2 252 48 251.5 47.7C250.9 47.5 250.6 45.7 250.5 45C250.3 44.3 250.4 43.3 250.6 42.7C250.7 42.1 251.2 40.6 251.8 40.3C252.3 40 253.9 40.1 254.7 40.2C255.5 40.3 257.1 40.5 257.7 41C258.2 41.5 259 43.2 258.9 43.8Z"/><path d="M237.8 41.9C237.9 42.5 237.3 44 236.9 44.5C236.5 45 235.1 45.8 234.5 45.8C233.9 45.8 232.9 44.8 232.4 44.4C231.8 44.1 230.7 43.6 230.5 43.1C230.2 42.6 230.4 41.3 230.7 40.7C230.9 40.2 231.6 39.1 232.1 38.9C232.6 38.6 233.8 38.8 234.3 38.9C234.9 39.1 235.7 39.5 236.2 39.9C236.6 40.3 237.7 41.3 237.8 41.9Z"/><path d="M269.8 91.8C269.9 92.8 269.5 95.3 269.1 96C268.7 96.7 267.5 96.6 266.9 96.9C266.4 97.1 265.1 98.1 264.7 97.7C264.3 97.3 264.1 94.6 263.9 93.6C263.7 92.5 263.2 90.5 263.4 89.7C263.6 88.9 264.7 88.1 265.2 87.6C265.6 87 266.6 85.5 267.1 85.6C267.5 85.8 268.2 87.8 268.5 88.6C268.9 89.4 269.7 90.8 269.8 91.8Z"/><path d="M239 190.7C239.1 191.8 239.1 194.2 238.6 195C238 195.9 235.8 197.1 234.9 197.1C233.9 197.1 232.3 195.8 231.4 195.2C230.5 194.7 228.5 193.8 228.1 193C227.7 192.1 228.1 189.5 228.5 188.7C229 187.8 230.7 187.2 231.6 186.6C232.4 186 234.1 184 234.9 184.1C235.7 184.2 237 186.5 237.6 187.4C238.1 188.2 238.8 189.7 239 190.7Z"/><path d="M265.1 240.7C265 241.4 263.4 242.8 262.7 243.3C262 243.9 260.6 244.5 259.7 244.7C258.8 244.9 256.5 245.2 255.8 244.8C255.1 244.4 254.6 242.8 254.2 242C253.8 241.2 252.7 239.7 252.8 238.9C253 238.2 254.7 236.6 255.6 236.3C256.5 236 258.6 236.7 259.6 236.9C260.7 237 262.8 237 263.5 237.5C264.2 238 265.2 239.9 265.1 240.7Z"/><path d="M267.8 231.1C267.8 231.6 267.4 232.7 267.1 233.2C266.7 233.6 265.7 234.6 265.2 234.6C264.7 234.6 263.6 233.8 263.2 233.4C262.8 233.1 262.4 232.4 262.1 231.9C261.9 231.5 261.2 230.3 261.3 229.9C261.5 229.4 262.6 228.8 263.1 228.6C263.6 228.3 264.5 228.1 265.1 228.2C265.6 228.2 266.8 228.5 267.2 228.9C267.5 229.2 267.8 230.5 267.8 231.1Z"/><path d="M163.8 206.1C163.8 206.6 163.5 207.4 163.1 207.8C162.8 208.2 162 209.1 161.5 209.2C161 209.3 159.8 208.7 159.3 208.4C158.9 208.2 158.2 207.5 158 207C157.8 206.6 157.5 205.5 157.6 205.1C157.8 204.6 158.7 203.7 159.2 203.5C159.7 203.3 160.8 203.3 161.4 203.4C161.9 203.5 163.1 203.8 163.4 204.2C163.7 204.6 163.9 205.6 163.8 206.1Z"/><path d="M185.9 202.3C186 202.7 184.5 203.7 183.7 204.1C182.8 204.6 180.8 205.6 179.6 205.7C178.4 205.7 175.7 205 174.6 204.7C173.4 204.4 171.3 203.8 170.9 203.3C170.4 202.8 170.8 201.7 171.3 201.3C171.8 200.8 173.3 200 174.4 199.7C175.5 199.3 178.5 198.6 179.7 198.7C180.9 198.8 182.3 200.1 183.2 200.6C184 201 185.9 201.8 185.9 202.3Z"/><path d="M228.9 211.9C228.8 212.3 228.4 213.2 228 213.5C227.7 213.7 227 213.9 226.5 214.1C226.1 214.2 225.1 214.5 224.7 214.3C224.4 214.1 224 213.1 223.9 212.7C223.8 212.2 223.7 211.4 223.8 211C224 210.6 224.5 209.9 224.8 209.6C225.2 209.4 226.1 209 226.6 209.1C227.1 209.1 228.3 209.5 228.6 209.8C228.9 210.2 228.9 211.4 228.9 211.9Z"/><path d="M199.6 231.1C199.5 231.5 199.3 232.2 199.1 232.5C198.9 232.9 198.2 233.5 197.8 233.6C197.4 233.7 196.3 233.8 195.9 233.5C195.5 233.3 195.2 232.3 195.1 231.9C195 231.4 195 230.7 195.2 230.3C195.3 229.9 195.8 229.2 196.1 229C196.5 228.7 197.4 228.1 197.8 228.2C198.2 228.2 198.9 229.2 199.1 229.6C199.4 229.9 199.6 230.7 199.6 231.1Z"/><path d="M149.7 169.6C149.6 170 149.5 170.7 149.2 170.9C149 171.2 148.3 171.6 147.8 171.7C147.4 171.8 146.3 172.1 145.9 171.9C145.5 171.7 145 170.8 144.9 170.4C144.7 170 144.5 169.1 144.7 168.8C144.9 168.4 145.8 168.1 146.2 167.9C146.7 167.7 147.4 167.3 147.9 167.3C148.3 167.3 149.5 167.6 149.7 167.9C150 168.2 149.7 169.2 149.7 169.6Z"/><path d="M167 219.5C167 220 166.8 220.8 166.5 221.1C166.3 221.4 165.5 222 165.1 222.1C164.7 222.1 164 221.6 163.6 221.4C163.3 221.1 162.6 220.7 162.4 220.4C162.2 220 162.1 219.1 162.2 218.6C162.3 218.2 163 217.4 163.4 217.2C163.7 217.1 164.6 217.4 165 217.5C165.5 217.6 166.3 217.7 166.5 218C166.8 218.2 167 219.1 167 219.5Z"/><path d="M152 244.5C152.1 245 151.7 245.9 151.4 246.3C151.2 246.7 150.3 247.4 149.8 247.5C149.4 247.6 148.2 247.4 147.8 247.2C147.3 246.9 146.6 246 146.4 245.6C146.3 245.1 146.7 244.1 146.9 243.6C147.1 243.1 147.4 242 147.8 241.8C148.1 241.6 149.3 241.8 149.8 241.9C150.2 242.1 150.9 242.6 151.2 242.9C151.5 243.2 152 244.1 152 244.5Z"/><path d="M165.5 259.9C165.5 260.4 165.3 261.6 165 262C164.7 262.5 163.8 263.1 163.3 263.2C162.8 263.3 161.6 263.2 161.2 262.9C160.9 262.6 160.6 261.4 160.4 260.8C160.2 260.3 159.7 259.1 159.8 258.6C159.9 258.1 160.9 257.4 161.4 257.1C161.8 256.9 162.8 256.5 163.3 256.6C163.8 256.6 164.7 257.3 165 257.7C165.3 258.2 165.5 259.3 165.5 259.9Z"/><path d="M130.7 277.2C130.8 277.7 130.9 279 130.6 279.5C130.3 279.9 129.3 280.6 128.7 280.7C128.2 280.8 127.1 280.5 126.6 280.2C126.2 279.9 125.6 278.9 125.4 278.3C125.2 277.7 125.1 276.4 125.3 276C125.6 275.5 126.6 275.2 127.1 275C127.5 274.7 128.3 273.9 128.7 274C129.1 274 129.8 274.9 130.1 275.4C130.3 275.8 130.6 276.6 130.7 277.2Z"/><path d="M137.2 290.6C137.2 291.3 136.3 292.3 136 292.9C135.6 293.5 135 294.7 134.5 294.9C134 295.2 132.7 295.1 132.2 294.7C131.7 294.3 130.9 293 130.7 292.2C130.6 291.5 130.8 289.9 131.1 289.1C131.3 288.4 131.9 287.1 132.3 286.8C132.8 286.4 133.9 286.5 134.5 286.6C135 286.8 136 287.3 136.3 287.9C136.7 288.4 137.3 289.9 137.2 290.6Z"/><path d="M270.8 219.5C270.8 220 270.4 220.8 270.1 221.2C269.8 221.6 269.2 222.4 268.8 222.4C268.5 222.4 267.8 221.8 267.4 221.5C267.1 221.3 266.2 220.9 266.1 220.5C265.9 220.1 266.2 219.1 266.3 218.7C266.5 218.2 266.9 217.3 267.2 217.1C267.5 216.9 268.4 217.1 268.7 217.2C269.1 217.3 269.8 217.6 270.1 217.9C270.3 218.2 270.8 219.1 270.8 219.5Z"/><path d="M255.1 252.2C255.1 252.6 254.9 253.3 254.7 253.6C254.5 253.9 253.8 254.1 253.4 254.2C253 254.3 252.3 254.3 251.9 254.1C251.6 253.9 251 253.4 250.8 253C250.7 252.6 250.6 251.7 250.7 251.4C250.9 251 251.6 250.5 252 250.4C252.3 250.2 253.1 250 253.4 250C253.8 250.1 254.4 250.6 254.6 250.9C254.8 251.2 255.1 251.8 255.1 252.2Z"/><path d="M177.3 284.8C177.3 285.7 177.3 287.5 177 287.9C176.6 288.4 175.3 288.3 174.7 288.3C174.2 288.3 173.4 288.4 172.9 288.2C172.4 288 171.1 287.2 170.9 286.5C170.7 285.9 171 284 171.2 283.3C171.5 282.7 172.5 282 173 281.7C173.4 281.3 174.3 280.9 174.8 280.9C175.3 280.9 176.6 281.2 177 281.7C177.3 282.3 177.3 284 177.3 284.8Z"/><path d="M272.5 300.2C272.5 300.7 272.2 301.6 271.9 302C271.7 302.3 271.1 302.7 270.7 302.9C270.3 303 269.3 303.5 269 303.3C268.6 303 268.2 301.8 268.1 301.3C268 300.7 267.9 299.6 268 299.1C268.1 298.6 268.8 297.7 269.1 297.5C269.5 297.3 270.3 297.2 270.7 297.3C271.1 297.4 272 297.7 272.2 298.1C272.5 298.4 272.6 299.7 272.5 300.2Z"/><path d="M187.2 317.5C187.1 318.2 185.7 319.4 185.1 319.9C184.5 320.5 183.5 321.5 182.8 321.7C182 321.8 180.5 321.4 179.7 321.1C178.9 320.7 177.2 319.9 176.9 319.2C176.5 318.5 176.7 316.6 177 315.8C177.3 315 178.4 313.2 179.1 312.9C179.9 312.6 181.8 313.4 182.7 313.6C183.6 313.8 185.1 314.1 185.7 314.6C186.3 315.1 187.3 316.8 187.2 317.5Z"/><path d="M116.4 304C116.4 304.4 116.5 305.4 116.3 305.6C116.2 305.9 115.4 306 115 306C114.7 306.1 114.1 306.2 113.8 306C113.5 305.9 113 305.3 112.8 304.9C112.7 304.5 112.6 303.5 112.8 303.2C112.9 302.8 113.5 302.3 113.8 302.1C114.1 301.9 114.8 301.7 115.1 301.8C115.4 301.9 115.8 302.5 116 302.8C116.1 303.1 116.3 303.7 116.4 304Z"/><path d="M94.9 317.5C94.9 317.8 94.7 318.5 94.5 318.7C94.2 319 93.5 319.6 93.1 319.6C92.7 319.7 92 319.2 91.6 319C91.3 318.7 90.8 318.3 90.7 318.1C90.6 317.8 90.7 317.2 90.9 316.9C91 316.7 91.4 316.2 91.7 316C92 315.9 92.7 315.9 93 315.9C93.3 316 94 316.2 94.2 316.4C94.5 316.6 94.9 317.2 94.9 317.5Z"/><path d="M274 73.6C274 74 273.9 75 273.7 75.3C273.5 75.6 272.8 75.8 272.5 75.8C272.2 75.9 271.6 76 271.3 75.8C271.1 75.6 270.8 74.8 270.7 74.4C270.6 74 270.7 73.2 270.7 72.8C270.8 72.4 271.1 71.6 271.3 71.4C271.6 71.2 272.2 71.2 272.5 71.3C272.8 71.4 273.4 71.7 273.6 72C273.8 72.3 274 73.1 274 73.6Z"/><path d="M151 35.2C151 35.6 150.4 36.5 150.1 36.8C149.8 37.2 149.2 37.8 148.8 37.9C148.4 38 147.4 38.1 147.1 37.8C146.7 37.5 146.5 36.5 146.4 36C146.3 35.5 146.1 34.7 146.2 34.2C146.3 33.8 146.8 33.1 147.2 32.8C147.5 32.5 148.5 32 148.8 32.1C149.2 32.2 149.5 33.3 149.8 33.7C150.1 34.1 151 34.8 151 35.2Z"/><path d="M80.1 29.4C80.1 29.8 79.9 30.6 79.7 30.9C79.5 31.2 78.9 31.6 78.6 31.6C78.3 31.7 77.6 31.5 77.4 31.3C77.1 31.1 76.6 30.6 76.5 30.2C76.3 29.8 76.4 29 76.5 28.7C76.7 28.3 77.2 27.9 77.5 27.7C77.7 27.6 78.3 27.1 78.6 27.2C78.9 27.3 79.3 27.9 79.5 28.2C79.7 28.5 80.1 29.1 80.1 29.4Z"/><path d="M224.1 397.8C223.9 402.1 223.7 410 222.5 412.6C221.3 415.3 217.5 416.8 215.4 417.8C213.4 418.7 208.8 421.8 207.2 420.1C205.7 418.4 204.5 409 203.9 404.9C203.3 400.9 202.2 393.8 202.6 389.8C203 385.8 205.3 376.6 207 374.8C208.7 373 213.3 375.2 215.6 376C217.8 376.7 222.8 377.6 224 380.5C225.1 383.4 224.3 393.5 224.1 397.8Z"/><path d="M235.1 420.9C234.9 422.5 232.1 424.7 231.1 426C230.1 427.4 228.8 430.7 227.6 431.1C226.4 431.5 223.6 430 222.3 429.1C221 428.3 218.2 426.2 217.8 424.7C217.4 423.1 218.6 419.5 219.2 417.7C219.7 415.9 220.6 412 221.7 411.3C222.8 410.6 225.8 412.3 227.3 412.6C228.8 412.9 232 412.5 233.1 413.6C234.1 414.7 235.4 419.2 235.1 420.9Z"/><path d="M192 382.5C192 383.6 191.7 385.9 191.1 386.7C190.6 387.4 188.6 387.9 187.6 388C186.7 388.2 184.9 388.3 184.1 387.8C183.2 387.4 181.6 385.7 181.3 384.7C181.1 383.8 181.7 381.5 182 380.5C182.4 379.4 183.3 377.6 184.1 377C184.8 376.5 186.8 376.2 187.7 376.3C188.6 376.5 190.5 377.5 191.1 378.3C191.7 379.1 192 381.3 192 382.5Z"/><path d="M211.9 474.6C211.9 475.7 209.2 477.6 208.2 478.5C207.2 479.4 205.6 481.3 204.5 481.6C203.3 481.9 200.6 481.1 199.3 480.6C198 480 195.1 478.5 194.7 477.4C194.3 476.3 195.6 473.5 196.2 472.4C196.8 471.2 198.2 469.4 199.3 468.8C200.4 468.1 203.2 467.4 204.5 467.6C205.7 467.9 207.7 469.5 208.7 470.4C209.7 471.3 212 473.6 211.9 474.6Z"/><path d="M187.4 480.4C187.5 481.5 188.6 484 187.7 484.7C186.9 485.4 183 485.2 181.4 485.4C179.7 485.5 176.7 486.2 175.4 485.8C174 485.5 171.5 483.6 170.9 482.6C170.4 481.6 170.5 479.2 171.2 478.3C171.9 477.3 174.7 476.2 176 475.8C177.4 475.3 180 474.9 181.5 475C183 475.1 186.4 475.7 187.2 476.4C188 477.1 187.3 479.3 187.4 480.4Z"/><path d="M173.3 420.9C173.4 421.6 171.9 423.1 171.1 423.6C170.3 424.2 168.6 424.9 167.6 425C166.6 425.1 164.6 424.9 163.7 424.6C162.8 424.2 161.1 423.2 160.7 422.4C160.2 421.7 159.8 419.9 160.2 419.2C160.7 418.5 162.8 417.6 163.8 417.3C164.8 417 166.6 417 167.5 417.1C168.4 417.2 170 417.8 170.8 418.3C171.6 418.8 173.3 420.1 173.3 420.9Z"/><path d="M196.4 332.5C196.3 333.4 196.7 335.1 196.1 335.6C195.6 336.1 193.4 336.1 192.4 336.3C191.4 336.4 189.6 336.8 188.7 336.5C187.7 336.3 185.5 335.1 185.2 334.4C184.9 333.6 186.2 331.9 186.6 331.1C187 330.2 187.4 328.3 188.2 327.8C189 327.4 191.5 327.6 192.6 327.8C193.7 327.9 196.1 328.5 196.6 329.2C197.1 329.8 196.4 331.7 196.4 332.5Z"/><path d="M191.7 355.6C191.6 356 190.4 356.7 189.8 357.1C189.1 357.5 187.8 358.2 186.9 358.4C185.9 358.5 183.2 358.5 182.5 358.3C181.7 358 181.6 356.8 181.3 356.3C181 355.9 180.3 355.1 180.5 354.7C180.7 354.3 182.2 353.6 183.1 353.4C183.9 353.2 185.7 353.1 186.7 353.1C187.8 353.2 190.2 353.3 190.8 353.6C191.5 353.9 191.9 355.1 191.7 355.6Z"/><path d="M269 467C269.1 468.5 269.4 471.5 269 472.7C268.5 473.8 266.4 475.8 265.6 475.7C264.7 475.7 263.3 473.2 262.5 472.5C261.6 471.7 259.7 471 259.3 469.9C258.9 468.8 259.1 465.5 259.5 464.1C259.8 462.8 261.1 460.3 261.9 459.9C262.7 459.4 264.3 460.5 265.3 460.7C266.2 460.9 268.3 460.6 268.8 461.4C269.3 462.3 269 465.5 269 467Z"/><path d="M248.8 463.1C248.7 464 248.6 465.8 248 466.4C247.4 467 245.4 467.4 244.3 467.6C243.3 467.8 241.1 468.3 240.2 467.9C239.4 467.5 238.3 465.7 238.1 464.8C237.8 463.9 238.1 462.4 238.3 461.5C238.6 460.6 239.3 458.7 240.1 458.2C241 457.7 243.4 457.5 244.5 457.7C245.6 457.9 247.8 458.8 248.4 459.5C249 460.2 248.8 462.2 248.8 463.1Z"/><path d="M199.6 589.9C199.7 590.7 199.2 592.2 198.7 592.9C198.3 593.6 196.9 594.8 196.2 594.9C195.5 595 194 594.1 193.4 593.6C192.8 593.1 192 592.1 191.7 591.3C191.4 590.6 191 588.9 191.2 588.2C191.4 587.5 192.7 586.2 193.3 585.9C194 585.5 195.4 585.4 196.1 585.6C196.8 585.7 198.1 586.4 198.5 587C199 587.6 199.6 589.1 199.6 589.9Z"/><path d="M264.1 607.2C264.1 608.6 260.7 611.1 259.5 612.6C258.3 614.1 256.4 617.9 255 618.2C253.5 618.5 250.1 615.7 248.7 614.7C247.2 613.6 244.9 611.9 244.1 610.4C243.3 608.9 242.1 604.9 242.7 603.4C243.3 601.9 246.9 600 248.5 599.3C250.1 598.5 253.2 597.3 254.7 597.7C256.2 598 258.2 600.5 259.5 601.7C260.7 603 264.1 605.7 264.1 607.2Z"/><path d="M223.8 636C224 638.6 220.3 643.6 218.1 646.2C215.9 648.9 210.7 654.9 207.3 655.5C203.9 656.1 195.4 652.8 192.6 650.8C189.8 648.9 187.7 643.8 186.2 641C184.7 638.1 180.4 631.9 181.5 629.5C182.5 627.2 190.8 624.4 194.1 623.3C197.5 622.1 203.4 620.3 206.4 620.8C209.4 621.2 214.5 624.5 216.8 626.6C219.1 628.6 223.6 633.3 223.8 636Z"/><path d="M256.8 636C256.7 638.1 256 642.3 255 643.7C253.9 645.2 250.6 646.4 248.9 646.9C247.1 647.4 242.9 648.5 241.7 647.4C240.5 646.4 240.5 641.4 239.8 639.2C239.1 637.1 236.4 633.2 236.7 631.3C237 629.5 240.5 626.3 242.1 625.2C243.8 624.2 247.3 623 249.1 623.4C250.9 623.7 254.4 626.1 255.4 627.7C256.4 629.4 256.8 633.8 256.8 636Z"/><path d="M273.9 647.5C273.7 649.2 272.7 651.8 271.9 653.2C271.1 654.6 269.2 657.8 268 658.1C266.7 658.4 263.9 656.6 262.7 655.6C261.5 654.7 259.7 652.3 259.2 650.8C258.7 649.3 258.6 645.6 259.1 644.1C259.6 642.7 261.7 640.5 262.9 639.6C264 638.8 266.5 637.4 267.9 637.6C269.3 637.7 272.4 639.1 273.2 640.4C274 641.7 274.1 645.8 273.9 647.5Z"/><path d="M232.6 620.6C232.5 621.6 232.6 623.5 231.9 624.2C231.2 624.9 228.6 625.6 227.4 625.8C226.1 625.9 223.4 625.9 222.4 625.5C221.3 625 220.1 623.3 219.6 622.4C219 621.4 217.6 619.3 218 618.4C218.3 617.5 220.9 616 222.2 615.5C223.5 615 226.2 614.3 227.6 614.4C229 614.5 232.3 615.5 232.9 616.3C233.6 617.1 232.8 619.5 232.6 620.6Z"/><path d="M184.9 609.1C185 610.1 185.4 612.2 184.9 613.1C184.4 614 182.2 615.6 181.2 615.7C180.2 615.8 178.2 614.5 177.3 613.9C176.3 613.3 174.1 612.3 173.8 611.4C173.4 610.5 174.3 608.2 174.8 607.2C175.2 606.2 176.2 604.5 177 603.9C177.9 603.3 180.3 602.3 181.2 602.5C182.1 602.8 183.5 604.9 184 605.8C184.5 606.6 184.8 608.1 184.9 609.1Z"/><path d="M131.1 518.8C131.1 519.3 130.9 520.4 130.6 520.8C130.3 521.2 129.2 521.6 128.7 521.7C128.2 521.8 127 521.8 126.7 521.5C126.3 521.2 126.2 520.1 126 519.6C125.9 519.1 125.5 518.3 125.6 517.9C125.7 517.5 126.5 516.7 126.9 516.5C127.3 516.3 128.1 516.3 128.6 516.4C129.1 516.4 130.2 516.5 130.5 516.9C130.9 517.2 131.1 518.3 131.1 518.8Z"/><path d="M114.6 508.2C114.6 508.6 113.6 509.2 113.2 509.5C112.8 509.8 112 510.1 111.4 510.2C110.9 510.4 109.6 510.5 109.1 510.3C108.6 510.2 108.1 509.4 107.9 509C107.6 508.6 107 507.7 107.2 507.3C107.3 506.9 108.4 506.3 109 506C109.6 505.8 111 505.6 111.6 505.7C112.2 505.8 113.1 506.5 113.5 506.8C113.9 507.2 114.6 507.9 114.6 508.2Z"/><path d="M174.4 568.7C174.4 569.3 173.3 570.4 172.9 570.8C172.4 571.2 171.6 572 171 572.1C170.5 572.2 169.5 571.6 168.9 571.3C168.4 571.1 166.8 570.6 166.6 570.1C166.4 569.7 167.3 568.3 167.6 567.7C167.9 567.1 168.1 565.9 168.6 565.6C169.1 565.2 170.4 565.1 171.1 565.2C171.7 565.3 172.9 565.9 173.3 566.3C173.7 566.8 174.5 568.1 174.4 568.7Z"/><path d="M234.4 547.6C234.5 548.1 234.3 549.1 234.1 549.4C233.8 549.7 232.8 549.7 232.3 549.8C231.8 549.9 230.8 550.5 230.3 550.4C229.9 550.2 229.3 549.2 229.1 548.6C228.9 548.1 228.7 547 228.9 546.5C229.1 546.1 230.2 545.7 230.7 545.5C231.1 545.3 231.9 545.2 232.3 545.3C232.7 545.3 233.4 545.9 233.6 546.2C233.9 546.5 234.4 547.2 234.4 547.6Z"/><path d="M237.7 561.1C237.7 561.5 237.8 562.2 237.6 562.6C237.4 562.9 236.6 563.7 236.2 563.7C235.8 563.8 235 563.2 234.7 562.9C234.3 562.7 233.7 562.2 233.5 561.9C233.4 561.5 233.5 560.7 233.7 560.3C233.8 559.9 234.2 559.1 234.5 558.9C234.8 558.7 235.8 558.6 236.2 558.6C236.6 558.7 237.4 559.2 237.6 559.5C237.8 559.9 237.7 560.7 237.7 561.1Z"/><path d="M194 505.4C194.1 505.7 193.9 506.5 193.6 506.8C193.4 507.2 192.5 507.6 192 507.7C191.6 507.8 190.7 507.5 190.2 507.3C189.8 507.1 189.1 506.5 189 506.2C188.8 505.8 188.9 505 189.1 504.6C189.2 504.2 189.8 503.5 190.2 503.4C190.6 503.2 191.6 503.2 192 503.3C192.4 503.4 193.1 503.8 193.3 504.1C193.6 504.4 194 505 194 505.4Z"/><path d="M165.8 491.9C165.8 492.3 165.2 493.2 164.8 493.4C164.5 493.7 163.6 493.8 163.2 493.9C162.7 493.9 162 493.8 161.6 493.6C161.2 493.5 160.6 493 160.4 492.7C160.2 492.3 159.8 491.4 159.9 491C160 490.6 160.8 489.8 161.2 489.6C161.7 489.4 162.7 489.7 163.2 489.8C163.7 489.9 164.4 490.2 164.8 490.5C165.1 490.8 165.8 491.5 165.8 491.9Z"/><path d="M143.9 474.6C143.9 475 143.6 475.6 143.4 475.8C143.1 476.1 142.4 476.1 142 476.2C141.6 476.3 140.7 476.6 140.4 476.5C140 476.3 139.5 475.7 139.3 475.3C139.2 475 139.2 474.3 139.3 473.9C139.5 473.6 140.1 473.2 140.5 473C140.9 472.8 141.6 472.6 142.1 472.6C142.5 472.7 143.4 473 143.6 473.2C143.9 473.5 143.9 474.3 143.9 474.6Z"/><path d="M211.1 505.4C211.1 505.8 211.2 506.8 210.9 507.1C210.7 507.4 209.6 507.4 209.2 507.4C208.8 507.4 208.1 507.4 207.8 507.2C207.5 507 206.9 506.5 206.8 506.1C206.6 505.8 206.8 505 206.9 504.7C207 504.3 207.5 503.8 207.8 503.5C208.1 503.3 208.9 502.8 209.3 502.8C209.7 502.9 210.4 503.6 210.6 503.9C210.8 504.2 211 504.9 211.1 505.4Z"/><path d="M276.5 609.1C276.5 610.3 275.5 612.8 275 613.7C274.5 614.6 273.5 615.6 272.8 615.9C272.2 616.3 270.6 617.1 270.1 616.5C269.6 615.9 269.3 612.7 269.1 611.3C268.9 610 268.5 607.7 268.7 606.5C268.8 605.3 269.7 603 270.3 602.3C270.8 601.6 272.3 600.9 272.9 601.2C273.5 601.5 274.3 603.7 274.8 604.8C275.3 605.8 276.5 607.9 276.5 609.1Z"/><path d="M104.8 329.6C104.8 330 104.7 330.5 104.6 330.8C104.4 331 103.9 331.4 103.6 331.5C103.2 331.6 102.5 331.6 102.2 331.4C102 331.2 101.8 330.5 101.7 330.2C101.6 329.9 101.5 329.3 101.6 329C101.7 328.8 102.1 328.4 102.4 328.2C102.7 328.1 103.2 327.9 103.5 327.9C103.8 327.9 104.5 328.2 104.7 328.4C104.9 328.6 104.8 329.3 104.8 329.6Z"/><path d="M115.5 340.2C115.5 340.5 115.3 341.1 115.1 341.3C114.9 341.5 114.4 341.9 114.1 341.9C113.8 342 113.2 341.8 113 341.6C112.7 341.5 112.1 341.1 112 340.9C111.9 340.6 112.2 340 112.4 339.7C112.5 339.4 112.7 338.9 112.9 338.7C113.2 338.6 113.8 338.3 114.1 338.3C114.4 338.4 115 338.8 115.2 339.1C115.4 339.3 115.5 339.9 115.5 340.2Z"/><path d="M102.8 348.8C102.8 349.2 102.8 349.7 102.6 350C102.5 350.2 101.9 350.5 101.6 350.6C101.3 350.6 100.6 350.7 100.3 350.6C100 350.5 99.6 349.8 99.5 349.5C99.4 349.2 99.4 348.5 99.5 348.2C99.6 347.9 100.1 347.4 100.4 347.3C100.7 347.1 101.2 347.3 101.6 347.4C101.9 347.4 102.7 347.4 102.8 347.6C103 347.8 102.8 348.5 102.8 348.8Z"/><path d="M123.2 349.8C123.2 350.1 123.2 350.9 123 351.1C122.8 351.3 122 351.2 121.7 351.3C121.4 351.3 120.9 351.4 120.6 351.2C120.4 351.1 120.2 350.6 120.1 350.3C120 350 119.7 349.4 119.8 349.2C119.8 348.9 120.4 348.6 120.7 348.5C121 348.3 121.5 348.2 121.8 348.2C122.1 348.2 122.8 348.4 123 348.6C123.1 348.8 123.2 349.5 123.2 349.8Z"/><path d="M105.1 359.4C105.1 359.7 105 360.5 104.8 360.7C104.5 360.9 103.8 360.8 103.5 360.8C103.2 360.8 102.8 360.7 102.5 360.6C102.2 360.5 101.4 360.3 101.3 360.1C101.2 359.9 101.6 359.1 101.7 358.9C101.9 358.6 102.2 358.2 102.5 358.1C102.7 357.9 103.2 357.7 103.5 357.7C103.8 357.7 104.4 358.1 104.6 358.3C104.8 358.5 105.1 359.1 105.1 359.4Z"/><path d="M122.1 362.3C122.1 362.6 122.1 363.3 121.9 363.4C121.7 363.6 121.1 363.7 120.8 363.8C120.5 363.8 119.8 364.1 119.5 364C119.3 363.9 119.2 363.1 119.1 362.8C119 362.5 118.8 362 118.9 361.7C119 361.4 119.3 360.8 119.6 360.6C119.8 360.5 120.5 360.3 120.9 360.3C121.2 360.4 121.7 360.9 121.9 361.1C122 361.4 122.1 362 122.1 362.3Z"/><path d="M132 366.1C132 366.4 131.4 366.8 131.2 367.1C131 367.3 130.7 368 130.5 368C130.2 368.1 129.5 367.7 129.3 367.5C129.1 367.3 128.9 366.9 128.8 366.6C128.7 366.4 128.7 365.9 128.7 365.6C128.8 365.4 129 364.8 129.3 364.6C129.5 364.5 130.1 364.3 130.4 364.3C130.7 364.4 131.4 364.7 131.6 364.9C131.8 365.1 132.1 365.8 132 366.1Z"/><path d="M120.1 378.6C120.1 378.9 119.9 379.3 119.8 379.6C119.6 379.9 119.2 380.5 118.9 380.5C118.7 380.6 118 380.3 117.7 380.1C117.5 380 117.2 379.4 117.1 379.2C117 378.9 117 378.3 117.1 378.1C117.1 377.8 117.5 377.2 117.7 377.1C118 377 118.6 377 118.9 377C119.2 377.1 119.9 377.2 120 377.4C120.2 377.6 120.1 378.3 120.1 378.6Z"/><path d="M130.8 378.6C130.8 378.9 130.5 379.3 130.3 379.6C130.2 379.9 129.8 380.5 129.5 380.6C129.2 380.6 128.5 380.4 128.3 380.2C128 380 127.6 379.5 127.5 379.2C127.4 378.9 127.3 378.3 127.4 378C127.5 377.7 127.9 377.1 128.2 376.9C128.5 376.8 129.2 376.7 129.5 376.8C129.8 376.9 130.1 377.4 130.3 377.6C130.5 377.9 130.8 378.4 130.8 378.6Z"/><path d="M132.5 387.3C132.6 387.5 132.6 388.1 132.5 388.4C132.3 388.7 131.7 389.2 131.4 389.3C131.1 389.3 130.6 388.7 130.3 388.6C130 388.4 129.3 388.2 129.2 387.9C129.2 387.7 129.5 387 129.7 386.7C129.8 386.5 130 386 130.2 385.8C130.5 385.6 131.1 385.3 131.4 385.3C131.7 385.4 132.2 386 132.3 386.2C132.5 386.5 132.5 387 132.5 387.3Z"/><path d="M108.6 399.7C108.6 400 108.4 400.4 108.2 400.7C108 400.9 107.7 401.5 107.4 401.5C107.1 401.6 106.4 401.4 106.2 401.3C105.9 401.1 105.5 400.6 105.4 400.4C105.3 400.1 105.4 399.5 105.5 399.2C105.6 398.9 106 398.5 106.2 398.3C106.5 398.1 107.1 397.8 107.4 397.8C107.7 397.8 108.4 398.2 108.5 398.5C108.7 398.8 108.7 399.4 108.6 399.7Z"/><path d="M127.7 403.6C127.7 403.9 127.6 404.3 127.4 404.6C127.3 404.8 126.9 405.4 126.6 405.4C126.3 405.4 125.8 405 125.5 404.9C125.2 404.7 124.5 404.5 124.4 404.3C124.2 404 124.3 403.2 124.4 402.9C124.6 402.6 125.1 402.1 125.3 402C125.6 401.8 126.2 401.8 126.6 401.9C126.9 402 127.6 402.1 127.8 402.3C127.9 402.6 127.8 403.3 127.7 403.6Z"/><path d="M130.8 417C130.8 417.3 130.7 417.9 130.5 418.2C130.3 418.4 129.8 418.7 129.5 418.8C129.2 418.8 128.5 418.7 128.3 418.6C128 418.4 127.5 418 127.4 417.7C127.2 417.4 127.1 416.6 127.3 416.3C127.4 416 127.9 415.6 128.2 415.4C128.5 415.3 129.2 415.1 129.5 415.1C129.8 415.2 130.3 415.6 130.5 415.9C130.7 416.1 130.8 416.7 130.8 417Z"/><path d="M128.3 425.7C128.3 425.9 127.8 426.5 127.6 426.8C127.4 427 126.9 427.4 126.6 427.4C126.3 427.5 125.7 427.2 125.5 427.1C125.2 426.9 125 426.4 124.9 426.2C124.8 425.9 124.7 425.4 124.7 425.1C124.8 424.9 125.3 424.5 125.5 424.3C125.8 424.2 126.3 424.2 126.5 424.2C126.8 424.2 127.2 424.5 127.4 424.7C127.7 424.9 128.2 425.4 128.3 425.7Z"/><path d="M116.5 332.5C116.5 332.8 116.1 333.3 115.9 333.5C115.7 333.7 115.3 334 115 334.1C114.8 334.2 114.1 334.1 113.9 334C113.7 333.8 113.5 333.3 113.4 333C113.3 332.7 113.1 332.2 113.1 331.9C113.2 331.6 113.5 330.9 113.7 330.8C114 330.6 114.7 330.8 115 330.9C115.4 330.9 116 331.1 116.2 331.3C116.4 331.5 116.6 332.2 116.5 332.5Z"/><path d="M135.8 332.5C135.9 332.8 135.5 333.4 135.3 333.6C135.1 333.9 134.6 334.5 134.3 334.5C134 334.6 133.4 334.2 133.1 334C132.8 333.9 132.1 333.5 132.1 333.2C132 332.9 132.4 332.3 132.6 332C132.7 331.7 132.9 331.2 133.1 331C133.3 330.9 134 331 134.2 331C134.5 331.1 134.8 331.4 135 331.6C135.3 331.8 135.8 332.3 135.8 332.5Z"/></g>
<g id="speck0"></g>
<g id="ocloud0"></g>
<clipPath id="oceanclip"><path d="M-5 -5 2.8 -1.3 8.2 29.4 15.9 54.4 20.7 67.8 25.5 90.9 30.3 113.9 31.6 125.4 39.3 126.6 41.2 137 46.6 160 53.3 183 57.2 202.3 61.6 231.1 65.8 259.9 69.7 298.3 72.9 330.9 75.4 349.8 78.3 378.6 82.1 407.4 86.9 436.2 94.6 474.6 100.8 493.8 108.1 513 115.8 532.3 123.4 551.5 131.1 570.7 138.4 589.9 146.9 609.1 156.1 628.3 163.8 645.6 170.5 660 172.5 665 -5 665Z"/></clipPath><clipPath id="oceanclipR"><path d="M-5 -5 2.8 -1.3 8.2 29.4 15.9 54.4 20.7 67.8 25.5 90.9 30.3 113.9 31.6 125.4 39.3 126.6 41.2 137 46.6 160 53.3 183 57.2 202.3 61.6 231.1 65.8 259.9 69.7 298.3 72.9 330.9 75.4 349.8 78.3 378.6 82.1 407.4 86.9 436.2 94.6 474.6 100.8 493.8 108.1 513 115.8 532.3 123.4 551.5 131.1 570.7 138.4 589.9 146.9 609.1 156.1 628.3 163.8 645.6 170.5 660 172.5 665 -5 665Z" transform="scale(1.025 1)"/></clipPath>
<g id="flood1"><path d="M170.4 272C171.9 269.7 177.2 263.9 180 262.4C182.9 260.9 188.6 259.7 191.6 260.5C194.5 261.2 201.1 266.1 202.1 268.2C203.2 270.2 201.4 274.3 199.3 275.8C197.1 277.4 188.9 278.6 185.8 279.7C182.7 280.7 178.4 283.5 176.2 283.5C174 283.5 170.3 281.2 169.5 279.7C168.7 278.1 169 274.3 170.4 272Z"/><path d="M172.4 318.1C173.6 316.3 179.7 313.7 182 314.2C184.3 314.8 188.4 319.6 189.7 321.9C190.9 324.2 192.9 329.7 191.6 331.5C190.3 333.3 182.6 335.9 180 335.4C177.5 334.9 173.4 330 172.4 327.7C171.3 325.4 171.1 319.9 172.4 318.1Z"/><path d="M215.6 63.6C217.6 62.9 231.1 61.9 233.8 62.3C236.5 62.7 237.8 65.7 235.7 66.5C233.7 67.3 221.1 68.4 218.5 68C215.8 67.7 213.5 64.4 215.6 63.6Z"/><path d="M201.6 339.8C203.2 338.3 212.8 337.5 214.6 338.9C216.4 340.3 216.7 348.8 215 350.4C213.3 352 203.9 352.2 202.1 350.8C200.3 349.4 199.9 341.4 201.6 339.8Z"/><path d="M168.5 444.5C170.6 442.2 177 438.1 180 436.8C183.1 435.5 188.8 434.4 191.6 434.9C194.4 435.4 198.6 438.7 201.2 440.7C203.7 442.6 211 447.5 210.8 449.3C210.5 451.1 202.3 453.2 199.3 454.1C196.2 455 191.3 455.3 187.7 456C184.1 456.8 175.4 460.1 172.4 459.9C169.3 459.6 165.2 456.2 164.7 454.1C164.2 452.1 166.5 446.8 168.5 444.5Z"/><path d="M135.9 421.5C138.1 419.7 148.3 415.1 153.2 413.8C158 412.5 169.8 411.4 172.4 411.9C174.9 412.4 174.9 416.3 172.4 417.6C169.8 418.9 157.9 420.2 153.2 421.5C148.4 422.7 139.1 426.8 136.8 426.8C134.5 426.8 133.7 423.2 135.9 421.5Z"/><path d="M122.4 540.5C123.6 539.3 130.6 539.3 132 540.5C133.4 541.8 134.1 548.9 133 550.1C131.8 551.4 124.8 551.4 123.4 550.1C122 548.9 121.3 541.8 122.4 540.5Z"/><path d="M187.7 573.2C190 572.2 204.4 572.2 206.9 573.2C209.5 574.2 209.2 579.8 206.9 580.9C204.6 581.9 192.2 581.9 189.7 580.9C187.1 579.8 185.4 574.2 187.7 573.2Z"/><path d="M218.5 506C221.3 504.4 239.8 503 243.4 504C247 505.1 248.2 512.1 245.3 513.6C242.5 515.2 225.9 516.6 222.3 515.6C218.7 514.5 215.6 507.5 218.5 506Z"/><path d="M160.8 554C161.9 551.9 170.3 550.8 172.4 552.1C174.4 553.3 177.2 561.5 176.2 563.6C175.2 565.6 166.7 568.7 164.7 567.4C162.6 566.1 159.8 556 160.8 554Z"/><path d="M114.8 440.7C116.3 435.8 124.2 436.7 126.3 438.7C128.3 440.8 130.1 451.2 130.1 456C130.1 460.9 127.8 470.1 126.3 475.2C124.7 480.4 120.1 494.4 118.6 494.4C117.1 494.4 115.3 482.4 114.8 475.2C114.2 468.1 113.2 445.5 114.8 440.7Z"/><path d="M141.6 446.4C144.2 443.1 158 440.8 160.8 442.6C163.7 444.4 163.8 455.5 162.8 459.9C161.7 464.2 156 474.2 153.2 475.2C150.3 476.3 143.2 471.4 141.6 467.6C140.1 463.7 139.1 449.8 141.6 446.4Z"/><path d="M203.1 590.5C205.9 589.2 223.3 589.4 226.1 590.5C229 591.5 227 596.9 224.2 598.2C221.4 599.4 207.8 601.1 205 600.1C202.2 599 200.3 591.7 203.1 590.5Z"/></g>
<g id="cloud1"><path d="M78.3 129.9C79.3 126.3 90.2 124.2 95.5 122.2C100.9 120.1 113.2 114 118.6 114.5C124 115 132.8 121.9 135.9 126C139 130.1 139.3 140.1 141.6 145.2C143.9 150.4 150.9 160.6 153.2 164.4C155.5 168.3 159.2 171.2 158.9 174C158.7 176.9 153.8 183.3 151.2 185.6C148.7 187.9 142 192.6 139.7 191.3C137.4 190.1 136.3 179.6 134 176C131.7 172.4 126.5 166.5 122.4 164.4C118.3 162.4 107.8 162.7 103.2 160.6C98.6 158.6 91.2 153.2 87.9 149.1C84.5 145 77.2 133.5 78.3 129.9Z"/><path d="M70.6 10.8C71.9 8.5 77.9 7.9 80.2 8.9C82.5 9.9 85.6 14.9 87.9 18.5C90.2 22.1 97 31.9 97.5 35.8C98 39.6 94.3 46.5 91.7 47.3C89.1 48.1 81.1 44.3 78.3 41.5C75.4 38.7 71.6 30.3 70.6 26.2C69.6 22.1 69.3 13.1 70.6 10.8Z"/><path d="M168.5 18.5C170.1 17.2 178 18.1 180 20.4C182.1 22.7 184.7 33 183.9 35.8C183.1 38.6 176.3 42.3 174.3 41.5C172.2 40.8 169.3 33.1 168.5 30C167.8 26.9 167 19.8 168.5 18.5Z"/><path d="M249.2 -0.7C252.3 -3.3 274.2 -2.8 278 -0.7C281.8 1.3 279.3 11.6 278 14.6C276.7 17.7 271.5 21.8 268.4 22.3C265.3 22.8 257.5 21.6 254.9 18.5C252.4 15.4 246.1 1.8 249.2 -0.7Z"/><path d="M241.5 41.5C243.3 40.8 253 42.4 256.9 43.5C260.7 44.5 268.3 47.4 270.3 49.2C272.4 51 274 56.4 272.2 56.9C270.4 57.4 260.7 54.1 256.9 53.1C253 52 245.5 50.8 243.4 49.2C241.4 47.7 239.7 42.3 241.5 41.5Z"/><path d="M216.5 66.5C218.6 65.5 230.2 63.8 233.8 64.6C237.4 65.3 243.2 70.5 243.4 72.3C243.7 74.1 236.3 75.5 235.7 78C235.2 80.6 238.3 88.6 239.6 91.5C240.9 94.3 245.6 98.1 245.3 99.1C245.1 100.2 239.7 101.2 237.7 99.1C235.6 97.1 231.3 86.9 230 83.8C228.7 80.7 229.6 77.6 228.1 76.1C226.5 74.6 220 73.5 218.5 72.3C216.9 71 214.5 67.5 216.5 66.5Z"/><path d="M149.3 103C150.6 101.5 157.8 98.1 160.8 99.1C163.9 100.2 169.8 107.9 172.4 110.7C174.9 113.5 180 118.7 180 120.3C180 121.8 174.9 123.2 172.4 122.2C169.8 121.2 163.7 114.1 160.8 112.6C158 111.1 152.8 112 151.2 110.7C149.7 109.4 148 104.5 149.3 103Z"/><path d="M134 200.9C135 198.5 142 197.9 143.6 200C145.1 202 146.5 213.9 145.5 216.3C144.5 218.7 137.4 220.3 135.9 218.2C134.3 216.2 132.9 203.4 134 200.9Z"/><path d="M241.5 254.7C243.3 253.7 253 254.3 256.9 256.6C260.7 258.9 268.3 267.6 270.3 272C272.4 276.3 273.5 286.7 272.2 289.3C271 291.8 263.3 293 260.7 291.2C258.1 289.4 255.3 279.4 253 275.8C250.7 272.2 245 267.1 243.4 264.3C241.9 261.5 239.7 255.7 241.5 254.7Z"/><path d="M168.5 345C170.3 343.7 174.5 344.8 174.3 346.9C174 348.9 169.4 356.7 166.6 360.3C163.8 363.9 155.5 372.5 153.2 373.8C150.9 375.1 148.3 372.2 149.3 369.9C150.3 367.6 158.3 359.8 160.8 356.5C163.4 353.2 166.7 346.3 168.5 345Z"/><path d="M122.2 53.1C122.3 54 122.1 55.9 121.8 56.7C121.4 57.5 120.1 59.1 119.4 59.3C118.7 59.6 117 59 116.3 58.5C115.6 57.9 114.5 56.2 114.3 55.2C114 54.2 114.5 52.2 114.7 51.1C115 50.1 115.6 48 116.2 47.5C116.8 47 118.7 47 119.3 47.3C120 47.6 120.9 49.2 121.3 50C121.7 50.7 122.2 52.2 122.2 53.1Z"/><path d="M154 53.1C154 53.9 153.3 55.4 153 56.3C152.8 57.2 152.2 59.4 151.8 59.8C151.3 60.1 150.1 59.5 149.7 58.9C149.3 58.3 148.9 56.1 148.7 55C148.6 53.9 148.4 51.8 148.6 51C148.7 50.1 149.6 49 150.1 48.6C150.5 48.2 151.2 47.9 151.7 48C152.1 48.2 152.8 49 153.1 49.7C153.4 50.3 154 52.2 154 53.1Z"/><path d="M134.3 76.1C134.4 76.5 134.4 77.6 134.2 77.9C133.9 78.2 132.9 78.3 132.4 78.4C132 78.5 131 78.8 130.6 78.6C130.2 78.4 129.5 77.5 129.4 77.1C129.3 76.6 129.5 75.7 129.6 75.2C129.8 74.8 130.2 73.9 130.6 73.7C131 73.4 132.1 73.2 132.5 73.4C132.9 73.5 133.5 74.3 133.7 74.7C134 75.1 134.3 75.7 134.3 76.1Z"/><path d="M157.8 74.2C157.8 74.6 157.1 75.3 156.8 75.6C156.5 76 155.9 76.6 155.5 76.6C155.1 76.7 154.1 76.6 153.8 76.4C153.5 76.1 153.2 75.3 153.2 74.9C153.1 74.5 153.2 73.9 153.3 73.5C153.4 73.2 153.6 72.3 153.9 72.1C154.2 71.9 155 72.2 155.4 72.3C155.8 72.3 156.4 72.5 156.8 72.8C157.1 73 157.8 73.8 157.8 74.2Z"/><path d="M95.8 118.4C95.9 118.8 95.2 120 94.7 120.3C94.3 120.7 93 121.2 92.4 121.2C91.8 121.3 90.7 120.7 90.2 120.4C89.7 120.2 88.9 119.6 88.7 119.2C88.4 118.8 88 117.8 88.2 117.4C88.3 116.9 89.2 115.9 89.8 115.7C90.3 115.6 91.6 116.1 92.2 116.2C92.8 116.4 93.5 116.6 94 116.9C94.5 117.1 95.7 117.9 95.8 118.4Z"/><path d="M78.8 118.4C78.8 119.2 77.7 120.6 77.2 121.4C76.7 122.1 75.8 123.6 75.2 123.8C74.5 124.1 72.7 124 72.2 123.5C71.6 122.9 71.3 120.9 71.1 119.9C70.9 119 70.2 117.2 70.4 116.5C70.6 115.7 72 114.6 72.6 114.3C73.2 114 74.4 114 75 114.1C75.6 114.2 76.7 114.8 77.2 115.3C77.7 115.9 78.8 117.5 78.8 118.4Z"/><path d="M142.1 120.3C142.3 120.9 141.7 122.5 141 122.9C140.3 123.2 137.8 122.9 136.7 123C135.6 123.1 133.4 124 132.5 123.8C131.6 123.6 129.9 122.2 129.8 121.6C129.6 121 131 119.9 131.4 119.3C131.8 118.7 131.9 117.3 132.6 116.9C133.4 116.5 136.1 116.3 137 116.5C137.9 116.6 139.1 117.8 139.7 118.3C140.4 118.8 142 119.7 142.1 120.3Z"/><path d="M206.9 138.5C206.9 139.1 206.8 140.1 206.4 140.6C206 141 204.7 142 204 142.1C203.2 142.2 201.5 141.7 200.8 141.3C200.2 141 199.3 140.1 199.2 139.6C199 139.1 199.1 138 199.4 137.5C199.7 137.1 200.7 136.6 201.3 136.2C201.9 135.9 203.3 134.9 204 134.9C204.7 134.9 206.3 135.9 206.7 136.3C207 136.8 206.9 138 206.9 138.5Z"/><path d="M183.9 99.1C184 99.5 184.2 100.5 184 100.8C183.8 101.2 182.8 101.7 182.4 101.8C182 101.8 181.2 101.3 180.9 101.1C180.5 100.8 180.1 100.2 180 99.9C179.9 99.5 179.9 98.8 180.1 98.5C180.2 98.1 180.7 97.7 181 97.5C181.3 97.3 182 97.1 182.3 97.1C182.7 97.2 183.3 97.6 183.5 97.8C183.7 98.1 183.9 98.8 183.9 99.1Z"/><path d="M225.1 190.4C225.1 190.9 224.9 191.9 224.6 192.3C224.3 192.7 223.3 193.4 222.8 193.5C222.4 193.5 221.5 192.9 221 192.6C220.6 192.3 219.7 191.9 219.4 191.4C219.1 191 218.7 189.6 218.9 189.1C219.1 188.6 220.2 187.9 220.7 187.6C221.3 187.4 222.3 187.3 222.8 187.3C223.4 187.4 224.6 187.8 224.9 188.2C225.2 188.6 225.1 189.8 225.1 190.4Z"/><path d="M177.3 202.9C177.3 203.4 176 204.5 175.5 205C174.9 205.5 173.9 206.6 173.2 206.7C172.5 206.8 171.1 205.9 170.5 205.5C169.8 205.2 168.7 204.5 168.4 204C168.2 203.5 168.5 202.3 168.8 201.8C169 201.2 169.7 200 170.2 199.8C170.8 199.6 172.3 199.9 173 200C173.7 200.1 174.9 200.3 175.5 200.7C176.1 201.1 177.3 202.3 177.3 202.9Z"/><path d="M211.7 235.5C211.7 236.1 210.3 237.1 209.8 237.7C209.3 238.3 208.5 239.8 207.8 240C207.1 240.1 205.5 239.2 204.8 238.8C204.2 238.4 203.4 237.4 203.1 236.8C202.9 236.1 202.5 234.7 202.8 234.1C203 233.6 204.5 232.9 205.1 232.6C205.7 232.4 206.9 232.1 207.6 232.2C208.2 232.2 209.5 232.7 210.1 233.1C210.6 233.6 211.8 234.9 211.7 235.5Z"/><path d="M234.6 268.2C234.6 268.6 234.4 269.6 234.1 270C233.8 270.4 232.9 270.8 232.4 270.9C231.9 271 230.9 270.9 230.5 270.7C230 270.4 229.1 269.7 229 269.2C228.8 268.7 228.9 267.5 229.1 267.1C229.4 266.7 230.3 266.3 230.7 266.1C231.2 266 231.9 265.8 232.3 265.8C232.7 265.8 233.6 266.1 233.9 266.5C234.2 266.8 234.5 267.7 234.6 268.2Z"/><path d="M118.8 174C118.9 174.5 119.6 175.6 119.1 176C118.7 176.4 116.6 176.9 115.7 176.9C114.8 176.9 113.5 176.2 112.7 175.9C112 175.7 110.3 175.3 110 175C109.7 174.6 110.3 173.7 110.6 173.2C110.8 172.7 111.2 171.7 111.9 171.4C112.6 171.1 114.9 170.9 115.7 171C116.6 171.2 117.9 172.1 118.3 172.5C118.7 172.9 118.7 173.6 118.8 174Z"/><path d="M26.4 22.3C26.3 22.8 25.7 23.7 25.3 24.2C24.9 24.7 24 25.8 23.4 26C22.7 26.1 21.3 25.3 20.7 25C20 24.7 18.6 24.1 18.4 23.6C18.2 23.1 18.9 22 19.1 21.3C19.4 20.7 19.5 19.1 20.1 18.8C20.6 18.4 22.6 18.5 23.4 18.7C24.1 18.9 25.1 19.8 25.5 20.3C25.9 20.8 26.4 21.8 26.4 22.3Z"/><path d="M27.5 37.7C27.5 38.3 26.3 39.3 25.9 39.6C25.4 40 24.5 40.5 24 40.6C23.5 40.6 22.6 40.4 22.1 40.2C21.5 40 20.3 39.5 20 39C19.6 38.5 19.6 37 19.8 36.3C20 35.7 20.9 34.4 21.5 34.1C22 33.8 23.5 33.9 24.2 34C24.8 34.2 25.9 34.9 26.3 35.3C26.8 35.8 27.6 37.1 27.5 37.7Z"/><path d="M184.6 154.8C184.6 155.2 184.1 156.1 183.8 156.4C183.5 156.7 182.8 157.3 182.4 157.3C182 157.3 181.4 156.7 181 156.4C180.7 156.2 179.9 156 179.7 155.7C179.5 155.3 179.4 154.4 179.6 154C179.8 153.6 180.5 153 180.8 152.9C181.2 152.7 182 152.5 182.4 152.6C182.7 152.7 183.3 153.2 183.6 153.5C183.8 153.8 184.5 154.5 184.6 154.8Z"/><path d="M234.6 154.8C234.6 155.1 234.3 155.7 234.1 155.9C233.9 156.2 233.5 156.6 233.2 156.7C232.9 156.7 232.3 156.4 232 156.3C231.8 156.1 231.2 155.7 231.1 155.5C231 155.2 231.2 154.6 231.3 154.3C231.4 154 231.6 153.3 231.9 153.2C232.1 153 232.9 152.8 233.2 152.9C233.5 153 234.1 153.4 234.2 153.7C234.4 153.9 234.6 154.5 234.6 154.8Z"/><path d="M106.6 373.8C106.5 374.2 105.7 375 105.3 375.3C104.9 375.6 104.1 375.9 103.7 376C103.2 376.1 102.3 376.1 101.8 376C101.3 375.8 100.2 375.2 100 374.8C99.9 374.4 100.4 373.4 100.6 372.9C100.8 372.4 101 371.3 101.5 371.1C101.9 370.8 103.2 370.9 103.8 371C104.3 371.1 105.2 371.7 105.6 372C106 372.4 106.6 373.3 106.6 373.8Z"/><path d="M102.1 369.9C102.1 370.3 101.2 370.9 100.9 371.2C100.6 371.6 100.2 372.4 99.8 372.5C99.5 372.6 98.6 372.2 98.2 372C97.8 371.8 96.9 371.3 96.8 370.9C96.7 370.5 97 369.5 97.2 369.1C97.4 368.7 97.9 368.1 98.3 368C98.6 367.9 99.3 368 99.7 368C100.1 368.1 100.8 368.2 101.1 368.5C101.4 368.7 102.1 369.6 102.1 369.9Z"/><path d="M245.4 373.8C245.4 374.1 244.9 374.6 244.7 374.9C244.5 375.2 244.1 375.9 243.8 376C243.5 376.1 242.7 375.7 242.4 375.5C242.1 375.3 241.7 374.8 241.6 374.5C241.4 374.1 241.2 373.3 241.3 373C241.4 372.7 242.3 372.6 242.6 372.4C243 372.2 243.5 371.6 243.8 371.7C244.1 371.7 244.5 372.4 244.7 372.7C244.9 373 245.4 373.5 245.4 373.8Z"/><path d="M88.8 12.7C88.8 14.9 89.1 18.9 88.6 20.4C88.1 21.8 86 23.1 85 23.6C83.9 24.1 81.5 25.3 80.7 24.4C79.8 23.5 78.6 18.9 78.4 16.8C78.1 14.8 78.3 10.9 78.6 8.7C78.9 6.6 79.8 1.9 80.6 1C81.5 0.1 83.8 1.9 84.9 2.4C86.1 2.8 88.5 2.9 89.1 4.3C89.6 5.7 88.9 10.6 88.8 12.7Z"/><path d="M97.5 37.7C97.5 39.1 96.9 41.9 96.3 42.8C95.6 43.8 93.7 44.3 92.6 44.7C91.6 45 89.2 46 88.3 45.5C87.4 44.9 86.1 42 85.8 40.6C85.4 39.1 85.3 36 85.7 34.8C86.1 33.5 87.9 31.9 88.9 31.2C89.8 30.4 91.8 29 92.8 29.1C93.9 29.3 95.9 31.1 96.5 32.3C97.2 33.4 97.5 36.3 97.5 37.7Z"/><path d="M266.1 160.6C266.1 161 265.9 161.5 265.8 161.8C265.6 162.1 265.1 162.7 264.9 162.8C264.6 162.8 264.1 162.5 263.7 162.3C263.4 162.1 262.5 161.8 262.5 161.5C262.4 161.2 262.9 160.4 263.1 160C263.2 159.6 263.3 158.8 263.6 158.6C263.8 158.4 264.5 158.4 264.9 158.5C265.2 158.5 266.1 158.6 266.2 158.9C266.4 159.2 266.2 160.2 266.1 160.6Z"/><path d="M175.6 214.4C175.5 214.9 174.8 215.8 174.5 216.1C174.1 216.4 173.3 216.5 172.8 216.7C172.3 216.8 171.2 217.3 170.8 217.1C170.4 217 170.1 215.8 169.9 215.3C169.8 214.8 169.4 213.7 169.6 213.4C169.7 213 170.8 212.7 171.3 212.5C171.7 212.3 172.3 212.1 172.8 212.1C173.2 212.1 174.4 212 174.8 212.3C175.2 212.6 175.6 213.9 175.6 214.4Z"/><path d="M157.7 540.5C157.4 541.1 155.6 541.6 154.3 541.8C153 542 149.8 542.4 148 541.9C146.1 541.4 142.1 539.2 140.4 538.1C138.7 537.1 135.5 534.8 135.2 534C134.8 533.1 136.6 532.1 137.5 531.6C138.5 531.1 140.5 530.1 142.3 530.3C144.1 530.5 149.3 532.1 151.2 533C153.2 534 156.2 536.3 157.1 537.3C157.9 538.3 158.1 539.8 157.7 540.5Z"/><path d="M256.9 532.9C256.7 534.6 255.4 537.4 254.4 538.8C253.4 540.3 250.8 543.1 249.1 543.5C247.5 544 243.5 543.1 241.9 542.2C240.3 541.2 237.6 538.2 237.2 536.5C236.7 534.9 238 531.5 238.6 529.7C239.2 527.9 240.2 523.7 241.6 523C242.9 522.3 246.9 524.2 248.7 524.6C250.6 525 254.4 524.9 255.5 526C256.6 527.1 257 531.1 256.9 532.9Z"/><path d="M116.1 393.6C116 394.5 114.5 395.6 113.9 396.3C113.3 397 112.4 398.6 111.8 398.8C111.1 399 109.4 398.2 108.7 397.8C108 397.3 106.8 396.1 106.5 395.4C106.2 394.6 106.4 392.8 106.7 392C107 391.2 108 389.9 108.7 389.5C109.4 389 110.9 388.3 111.8 388.3C112.6 388.4 114.3 389.3 114.9 390C115.5 390.7 116.3 392.8 116.1 393.6Z"/><path d="M241.6 385.9C241.5 386.6 241 387.5 240.4 388C239.8 388.5 238.1 389.5 237 389.7C235.9 389.9 233.1 389.7 232 389.4C230.8 389.1 228.8 388 228.4 387.4C228 386.7 228.5 385.2 229 384.6C229.6 384.1 231.4 383.3 232.5 383C233.6 382.6 235.9 381.8 237.1 381.9C238.3 381.9 240.9 382.8 241.5 383.4C242.1 383.9 241.8 385.3 241.6 385.9Z"/><path d="M271.3 386.9C271.2 387.7 271.3 389.1 270.7 389.5C270.2 390 268.2 390.2 267.3 390.2C266.4 390.3 264.9 390.2 264.1 390C263.2 389.7 261.2 389 260.8 388.4C260.5 387.8 261 386.2 261.4 385.5C261.8 384.9 262.9 383.7 263.7 383.4C264.5 383.1 266.3 383.4 267.3 383.4C268.4 383.5 271 383.3 271.6 383.8C272.1 384.2 271.4 386.1 271.3 386.9Z"/><path d="M225.5 379.2C225.5 379.6 225.9 380.6 225.7 381C225.5 381.3 224.3 381.6 223.8 381.7C223.2 381.8 222.2 381.7 221.7 381.5C221.3 381.3 220.5 380.5 220.4 380.1C220.2 379.7 220.4 378.8 220.6 378.4C220.8 378 221.4 377.2 221.8 377.1C222.2 376.9 223.2 377.2 223.7 377.3C224.1 377.4 225 377.5 225.2 377.8C225.5 378 225.4 378.8 225.5 379.2Z"/><path d="M235.7 346.6C235.7 346.9 235.5 347.7 235.2 348C235 348.3 234.5 348.7 234.1 348.7C233.8 348.8 233.2 348.6 232.9 348.4C232.7 348.2 232.4 347.6 232.3 347.2C232.2 346.9 232.3 346.2 232.4 345.9C232.4 345.6 232.8 345.1 233 344.9C233.3 344.6 233.9 343.9 234.2 343.9C234.5 344 235 344.8 235.2 345.2C235.4 345.5 235.7 346.2 235.7 346.6Z"/><path d="M210.3 630.8C210.3 631.5 208.8 632.8 208.2 633.5C207.7 634.2 206.8 636.1 206 636.3C205.2 636.6 203.2 635.7 202.5 635.2C201.8 634.7 200.9 633.3 200.6 632.4C200.2 631.6 199.6 629.8 199.9 628.9C200.1 628.1 201.5 626.6 202.3 626.2C203.1 625.8 205.1 625.6 205.9 625.9C206.7 626.1 207.6 627.5 208.2 628.1C208.8 628.8 210.3 630.1 210.3 630.8Z"/><path d="M209.7 644.2C209.7 644.7 208.7 645.5 208.2 645.9C207.7 646.3 206.6 647.3 205.9 647.4C205.2 647.4 203.8 646.6 203.1 646.3C202.5 646 201.2 645.6 200.9 645.2C200.7 644.8 200.9 643.8 201.1 643.3C201.4 642.9 202.5 642.3 203.1 642.1C203.7 642 204.9 642 205.6 642C206.4 642.1 208 642 208.6 642.3C209.1 642.6 209.8 643.8 209.7 644.2Z"/><path d="M192.7 625C192.7 625.5 192.1 626.5 191.8 626.8C191.4 627.1 190.5 627.2 190.1 627.3C189.6 627.4 188.5 627.9 188.1 627.7C187.7 627.6 187.1 626.5 187 626C186.9 625.5 187 624.6 187.2 624.1C187.3 623.6 187.7 622.6 188.1 622.3C188.5 622 189.7 621.9 190.2 622.1C190.6 622.2 191.1 623.1 191.5 623.5C191.8 623.9 192.7 624.6 192.7 625Z"/><path d="M232 634.6C232 635 232.3 636.1 232.1 636.4C231.8 636.6 230.7 636.5 230.3 636.5C229.9 636.5 229.3 636.6 228.9 636.5C228.5 636.4 227.6 635.9 227.4 635.6C227.2 635.2 227.5 634.2 227.7 633.8C227.9 633.4 228.5 632.8 228.8 632.7C229.2 632.5 230 632.6 230.3 632.6C230.7 632.7 231.3 633.1 231.5 633.4C231.7 633.6 231.9 634.2 232 634.6Z"/><path d="M115.2 404.2C115.1 405.6 115 407.7 114.7 408.8C114.5 409.8 113.7 411.9 113.3 412.1C112.9 412.2 112.1 410.8 111.6 410.1C111.2 409.5 110.1 408.4 109.9 407.2C109.7 406.1 110.2 402.8 110.4 401.7C110.6 400.5 111.3 398.8 111.6 398.3C112 397.8 112.7 398.1 113.2 398.1C113.7 398.1 115 397.6 115.2 398.4C115.5 399.2 115.3 402.8 115.2 404.2Z"/><path d="M116.5 373.5C116.6 373.8 116.5 374.6 116.3 374.8C116.1 375 115.4 374.9 115 375C114.7 375.1 113.8 375.6 113.6 375.4C113.4 375.3 113.3 374.4 113.2 374C113.2 373.7 113.1 373.1 113.2 372.9C113.3 372.6 113.7 372.2 113.9 372C114.2 371.8 114.8 371.5 115.1 371.6C115.4 371.6 115.8 372.2 116 372.4C116.2 372.7 116.5 373.1 116.5 373.5Z"/><path d="M255.6 448.4C255.6 448.8 255.2 449.6 254.9 449.9C254.6 450.2 253.8 450.6 253.4 450.6C253 450.6 252.4 450.2 252.1 450C251.7 449.8 250.8 449.5 250.7 449.2C250.5 448.9 250.9 448 251 447.6C251.2 447.2 251.5 446.4 251.8 446.2C252.1 446.1 252.9 446.3 253.4 446.4C253.8 446.5 254.7 446.4 255 446.7C255.3 447 255.6 447.9 255.6 448.4Z"/><path d="M249.1 436.8C249.1 437.2 248.8 437.7 248.6 438C248.5 438.3 248 439 247.7 439.1C247.3 439.1 246.5 438.9 246.2 438.7C245.9 438.4 245.7 437.7 245.7 437.4C245.6 437.1 245.5 436.5 245.6 436.2C245.7 436 246.2 435.6 246.5 435.5C246.7 435.3 247.3 435.1 247.6 435.1C247.9 435.1 248.6 435.3 248.8 435.6C249 435.8 249.1 436.5 249.1 436.8Z"/><path d="M272.4 500.2C272.4 500.7 271.9 501.4 271.6 501.8C271.4 502.1 270.9 502.5 270.6 502.6C270.3 502.7 269.7 502.5 269.5 502.3C269.2 502.1 268.6 501.6 268.5 501.1C268.3 500.7 268.2 499.6 268.3 499.2C268.5 498.8 269.2 498.5 269.5 498.3C269.8 498.1 270.3 497.5 270.7 497.5C271 497.5 271.8 497.8 272.1 498.2C272.3 498.5 272.5 499.7 272.4 500.2Z"/><path d="M107.2 327.4C107.2 327.7 106.8 328.2 106.6 328.6C106.3 328.9 105.9 329.6 105.6 329.7C105.2 329.8 104.3 329.7 103.9 329.5C103.6 329.3 102.9 328.6 102.8 328.2C102.7 327.8 103 327 103.2 326.6C103.3 326.3 103.8 325.7 104.1 325.5C104.4 325.3 105.2 324.8 105.6 324.9C106 324.9 106.7 325.6 106.9 325.9C107.1 326.2 107.3 327 107.2 327.4Z"/></g>
<g id="speck1"><path d="M114.8 436.8C117.8 432.7 133.1 437 135.9 434.9C138.7 432.9 133.6 424.5 135.9 421.5C138.2 418.4 148.3 414.9 153.2 411.9C158 408.8 168.8 402 172.4 398.4C176 394.8 177 386.3 180 385C183.1 383.7 192.9 386 195.4 388.8C198 391.6 196.2 403.8 199.3 406.1C202.3 408.4 216.4 404.1 218.5 406.1C220.5 408.2 216.4 417.4 214.6 421.5C212.8 425.6 205.5 432.7 205 436.8C204.5 440.9 211.5 449.1 210.8 452.2C210 455.3 203.4 457.8 199.3 459.9C195.2 461.9 181.1 464.7 180 467.6C179 470.4 187.7 478.4 191.6 481C195.4 483.6 204 484.2 208.9 486.8C213.7 489.3 222.2 497.9 228.1 500.2C234 502.5 250 502 253 504C256.1 506.1 253.2 512.8 251.1 515.6C249.1 518.4 240.2 521.6 237.7 525.2C235.1 528.8 232.7 535 231.9 542.5C231.1 549.9 232.7 573.2 231.9 580.9C231.1 588.5 228.4 594.7 226.1 600.1C223.8 605.4 216.9 615.8 214.6 621.2C212.3 626.6 210.6 640.4 208.9 640.4C207.1 640.4 205 624.5 201.2 621.2C197.3 617.9 184.4 617.5 180 615.4C175.7 613.4 171.1 611 168.5 605.8C166 600.7 162.9 582.1 160.8 577C158.8 571.9 156.7 569.7 153.2 567.4C149.6 565.1 138.1 562.6 134 559.7C129.9 556.9 122.4 550.4 122.4 546.3C122.4 542.2 134 533.4 134 529C134 524.7 125 518.3 122.4 513.6C119.9 509 116 500.8 114.8 494.4C113.5 488 112.8 473.3 112.8 465.6C112.8 458 111.7 440.9 114.8 436.8Z"/><path d="M168.5 340.8C170.3 339 179.5 348.6 183.9 350.4C188.2 352.2 198.6 351.4 201.2 354.2C203.7 357.1 204.4 367.9 203.1 371.5C201.8 375.1 194.6 380.1 191.6 381.1C188.5 382.2 182.9 381.5 180 379.2C177.2 376.9 172 369 170.4 363.9C168.9 358.7 166.7 342.6 168.5 340.8Z"/><path d="M172.4 317.8C174.4 316 189.3 316 191.6 317.8C193.9 319.6 191.7 329.4 189.7 331.2C187.6 333 178.5 333 176.2 331.2C173.9 329.4 170.3 319.6 172.4 317.8Z"/></g>
<g id="ocloud1"><path d="M8.8 114.5C8.8 114.8 8.7 115.3 8.5 115.6C8.3 115.9 7.8 116.5 7.6 116.6C7.3 116.6 6.7 116.1 6.4 115.9C6.1 115.8 5.2 115.5 5.1 115.3C5 115 5.4 114.2 5.6 113.9C5.7 113.6 6.2 113.3 6.4 113.2C6.7 113 7.3 112.6 7.5 112.7C7.8 112.7 8.3 113.2 8.5 113.4C8.6 113.7 8.8 114.2 8.8 114.5Z"/><path d="M20.6 110.7C20.6 111 20.6 111.6 20.4 111.8C20.2 112 19.4 112.1 19 112.2C18.7 112.2 18 112.3 17.7 112.2C17.3 112.1 16.5 111.7 16.3 111.4C16.2 111.1 16.2 110.3 16.4 110C16.6 109.6 17.2 109.2 17.6 109C18 108.8 18.8 108.5 19.2 108.6C19.6 108.6 20.3 109.2 20.5 109.5C20.7 109.7 20.6 110.4 20.6 110.7Z"/><path d="M15.9 122.2C16 122.4 15.5 123 15.1 123.2C14.8 123.4 13.9 123.6 13.4 123.7C13 123.7 12.2 123.5 11.8 123.4C11.4 123.2 10.5 123 10.3 122.8C10 122.5 9.8 121.8 10 121.6C10.2 121.3 11.2 121 11.7 120.9C12.1 120.8 13.1 120.4 13.5 120.5C13.9 120.5 14.3 121.2 14.6 121.4C15 121.6 15.9 121.9 15.9 122.2Z"/><path d="M38.3 178.8C38.3 179.3 38.6 180.2 38.4 180.5C38.1 180.8 37 181.2 36.5 181.2C36 181.2 35.3 180.8 34.8 180.6C34.4 180.4 33.4 180.1 33.2 179.7C33 179.4 33.2 178.4 33.4 178C33.6 177.6 34.1 176.8 34.5 176.6C34.9 176.4 36 176.4 36.5 176.5C37 176.6 38 176.9 38.3 177.2C38.5 177.6 38.2 178.4 38.3 178.8Z"/><path d="M48.2 193.3C48.1 193.9 47.6 194.8 47.3 195.3C47.1 195.8 46.5 197.1 46.1 197.2C45.7 197.3 44.9 196.4 44.5 196.1C44.1 195.7 43.3 195.1 43.1 194.6C42.9 194 43.1 192.7 43.3 192C43.4 191.4 43.8 189.9 44.2 189.7C44.5 189.4 45.5 189.9 46 190C46.5 190.1 47.8 189.9 48.1 190.3C48.3 190.8 48.3 192.6 48.2 193.3Z"/><path d="M57.6 199C57.7 200.1 57.5 202.7 57.1 203.6C56.8 204.5 55.5 205.4 54.9 205.5C54.3 205.7 53.1 205.2 52.5 204.7C52 204.1 50.7 202.6 50.6 201.5C50.4 200.5 51.2 198.3 51.4 197C51.6 195.8 51.7 192.9 52.2 192.3C52.7 191.7 54.3 192.1 54.9 192.5C55.4 193 56.1 194.6 56.5 195.5C56.8 196.4 57.5 197.9 57.6 199Z"/><path d="M63.8 243.2C63.7 243.7 63.7 244.6 63.4 245C63.1 245.4 62.2 246.3 61.6 246.5C61 246.7 59.6 246.5 59 246.2C58.4 245.9 57.5 245 57.2 244.4C57 243.8 56.8 242.4 57.1 241.9C57.4 241.5 58.9 241.1 59.5 240.9C60.1 240.7 61 240.4 61.5 240.4C62.1 240.5 63.4 240.8 63.7 241.2C64 241.6 63.8 242.7 63.8 243.2Z"/><path d="M20.6 254.1C20.4 254.3 19.7 254.6 19.1 254.5C18.5 254.4 16.8 253.7 16.2 253.2C15.5 252.6 14.5 251.2 14.2 250.6C13.8 250 13.4 249.2 13.3 248.7C13.2 248.2 13.1 247.2 13.4 247.1C13.8 247 15.3 247.8 16 248.2C16.7 248.5 18.2 249.3 18.8 249.9C19.5 250.5 20.8 252 21.1 252.6C21.3 253.1 20.9 253.8 20.6 254.1Z"/><path d="M45.3 284.3C45.9 285.5 47.3 288.2 47.3 289.1C47.4 289.9 46 290.1 45.6 290.6C45.2 291.1 44.7 292.8 44.2 292.6C43.6 292.3 42 289.7 41.3 288.6C40.6 287.5 39.4 285.6 39 284.4C38.5 283.2 37.9 280.4 38.1 279.7C38.3 279 39.8 279.3 40.4 279.4C41.1 279.4 42.2 279.2 42.9 279.8C43.5 280.5 44.7 283 45.3 284.3Z"/><path d="M30.5 325.9C30.7 326.6 30.4 327.6 30.4 328.3C30.4 329 30.7 330.9 30.5 331.2C30.2 331.5 29 330.5 28.5 330.2C28 329.9 27 329.5 26.7 328.9C26.4 328.4 26.2 326.9 26.1 326.2C26 325.5 26 324.4 26.1 323.8C26.3 323.3 26.8 322.4 27.2 322.3C27.6 322.2 28.7 322.6 29.2 323C29.6 323.5 30.4 325.2 30.5 325.9Z"/><path d="M20.6 139.5C20.6 139.8 20.5 140.5 20.3 140.8C20.1 141.1 19.4 141.5 19.1 141.5C18.8 141.6 18.1 141.3 17.8 141.1C17.5 140.9 17.2 140.3 17.2 140C17.1 139.8 17.2 139.2 17.3 138.9C17.4 138.7 17.6 138.1 17.8 138C18.1 137.8 18.7 137.9 19 137.9C19.3 138 19.8 138.2 20 138.4C20.2 138.6 20.5 139.2 20.6 139.5Z"/><path d="M51.4 214.4C51.4 214.8 51.3 215.8 51.1 216C50.8 216.2 50.1 216.1 49.7 216.2C49.4 216.3 48.6 216.8 48.3 216.7C48.1 216.5 47.7 215.6 47.6 215.2C47.4 214.8 47.4 214 47.5 213.5C47.6 213.1 48.1 212.3 48.4 212.1C48.7 211.9 49.4 212.2 49.8 212.3C50.1 212.3 50.9 212.4 51.1 212.7C51.3 213 51.4 213.9 51.4 214.4Z"/><path d="M7.2 55.8C7.6 56.4 8.4 57.6 8.4 58.1C8.5 58.7 7.9 59.7 7.5 59.9C7.1 60.1 6.2 59.6 5.7 59.5C5.2 59.4 4.3 59.4 4 59.1C3.6 58.7 3.3 57.5 3.2 56.9C3.1 56.4 3.2 55.7 3.2 55.2C3.3 54.8 3.4 53.6 3.8 53.3C4.1 53.1 5.3 53.2 5.8 53.5C6.2 53.9 6.8 55.2 7.2 55.8Z"/><path d="M55.3 345.7C56.5 347.4 58.2 351.4 58.5 352.8C58.8 354.3 58 355.6 57.6 356.3C57.2 357 56.5 358.3 55.5 358.2C54.5 358 51.5 356.7 50.2 355.3C48.8 353.9 46.5 349.4 45.5 347.5C44.6 345.5 42.9 341.7 42.9 340.6C43 339.5 44.9 339.3 45.8 339.2C46.6 339.2 48.4 339.2 49.6 340C50.9 340.9 54.1 344 55.3 345.7Z"/><path d="M41.2 400.3C41.4 401.3 41.3 403.7 40.4 404.5C39.5 405.2 36.1 405.9 34.6 406C33.1 406.1 30.1 405.8 29 405.2C27.8 404.7 26.6 403 26 402.1C25.5 401.2 24.2 399.1 24.7 398.2C25.1 397.4 28 396.5 29.3 395.8C30.7 395.2 33.6 393.4 34.9 393.6C36.2 393.8 38.1 396.1 38.9 397C39.8 397.9 41 399.3 41.2 400.3Z"/><path d="M10.2 413.8C10.2 415.5 8.9 418.8 8.2 420.1C7.5 421.3 6.1 423.2 5.2 423.4C4.4 423.7 2.5 422.9 1.9 422C1.2 421.1 0.4 418.1 0.2 416.7C0 415.2 0.3 412.6 0.5 411.1C0.7 409.7 1.3 406.7 1.9 405.8C2.6 404.9 4.3 404.2 5.2 404.3C6.1 404.5 7.9 405.7 8.6 406.9C9.2 408.2 10.3 412 10.2 413.8Z"/><path d="M34.2 432.2C34.1 432.9 34.8 434.8 34 435C33.2 435.1 29.9 433.7 28.4 433.3C26.9 432.9 23.9 432.5 22.8 431.9C21.6 431.3 19.9 429.2 19.9 428.5C19.8 427.8 21.8 427.2 22.6 426.9C23.3 426.5 24.7 425.9 25.7 426C26.8 426 29.5 426.9 30.6 427.5C31.8 428 33.9 429.4 34.4 430C34.9 430.7 34.2 431.6 34.2 432.2Z"/><path d="M75.1 473.8C75.9 475.2 77.5 478.2 78.1 479.8C78.6 481.3 79.5 484.8 79.1 485.4C78.8 485.9 76.6 484.8 75.6 484C74.6 483.2 72.7 480.9 71.6 479.5C70.6 478.1 68.2 475 67.5 473.6C66.9 472.1 66.8 469.7 66.8 468.6C66.8 467.5 66.9 465.4 67.6 465.4C68.2 465.5 70.5 467.6 71.5 468.7C72.5 469.8 74.2 472.3 75.1 473.8Z"/><path d="M60.4 543C60.6 543.8 60.8 545.4 60.7 546C60.6 546.7 59.8 547.9 59.4 548C59 548.2 58 547.6 57.5 547.2C57.1 546.8 56.5 545.8 56.2 545.1C55.8 544.5 55.1 542.9 55 542.2C55 541.4 55.6 539.9 56 539.5C56.4 539.2 57.3 539.4 57.8 539.4C58.3 539.5 59.3 539.6 59.7 540.1C60 540.5 60.3 542.2 60.4 543Z"/><path d="M30.4 326.6C30.7 327.5 31.2 329.2 31.1 329.8C31.1 330.4 30.4 331 30.1 331.3C29.8 331.6 29.2 332.5 28.8 332.3C28.4 332 27.5 330.2 27 329.4C26.6 328.7 25.6 327.2 25.5 326.4C25.3 325.7 25.7 324.4 25.9 323.9C26.1 323.3 26.5 322.3 26.9 322.3C27.3 322.2 28.5 322.8 29 323.3C29.4 323.9 30.1 325.7 30.4 326.6Z"/><path d="M51.9 367.7C51.9 368 51.3 368.7 51.1 369.1C50.8 369.4 50.3 370 49.9 370.1C49.5 370.2 48.6 369.9 48.3 369.7C48 369.5 47.4 368.8 47.4 368.5C47.3 368.1 47.6 367.4 47.7 367.1C47.8 366.7 48.1 366 48.4 365.8C48.6 365.6 49.5 365.2 49.9 365.3C50.2 365.4 50.7 366.1 51 366.4C51.3 366.7 51.9 367.3 51.9 367.7Z"/><path d="M66.5 386.9C66.5 387.4 66.7 388.6 66.6 388.9C66.4 389.3 65.5 389.3 65.1 389.4C64.8 389.5 64 389.7 63.7 389.5C63.5 389.3 63.3 388.2 63.2 387.7C63.1 387.3 63 386.5 63.1 386C63.1 385.5 63.4 384.5 63.7 384.2C64 383.9 64.8 383.7 65.2 383.8C65.6 383.9 66.3 384.5 66.5 384.9C66.7 385.3 66.5 386.4 66.5 386.9Z"/><path d="M39.5 375.4C39.5 375.6 39.3 376.1 39.1 376.4C38.9 376.6 38.5 376.9 38.2 377C37.9 377.2 37.1 377.4 36.8 377.3C36.6 377.2 36.5 376.3 36.3 376C36.2 375.6 35.9 375 36 374.7C36 374.3 36.6 373.7 36.9 373.5C37.2 373.4 38 373.4 38.3 373.5C38.6 373.6 39 374 39.2 374.3C39.4 374.5 39.5 375.1 39.5 375.4Z"/><path d="M18.8 409.9C18.8 410.2 18.3 410.8 18.1 411C17.9 411.3 17.4 411.6 17.1 411.7C16.8 411.7 16.2 411.6 15.9 411.5C15.6 411.3 15.1 410.9 14.9 410.6C14.8 410.3 14.6 409.5 14.7 409.2C14.9 408.9 15.5 408.4 15.8 408.3C16.2 408.1 16.9 407.8 17.2 407.8C17.5 407.9 18 408.5 18.2 408.8C18.4 409.1 18.8 409.6 18.8 409.9Z"/></g>
<g id="speck1_2"><path d="M168.5 202.9C171.3 200 184.9 199.9 191.6 200.9C198.2 202 215.4 207.2 218.5 210.5C221.5 213.9 217.2 222.8 214.6 225.9C212.1 229 202.3 230.8 199.3 233.6C196.2 236.4 194.1 246 191.6 247C189 248 182.9 244.6 180 241.3C177.2 237.9 172 227.2 170.4 222.1C168.9 216.9 165.7 205.7 168.5 202.9Z"/><path d="M195.4 110.7C200 106.8 222.7 102.9 228.1 104.9C233.4 107 235 119.4 235.7 126C236.5 132.7 236.1 151.5 233.8 154.8C231.5 158.2 223.1 151.5 218.5 151C213.8 150.5 202.6 153.3 199.3 151C195.9 148.7 194 139.1 193.5 133.7C193 128.3 190.8 114.5 195.4 110.7Z"/><path d="M206.9 306.6C209.5 304.8 216.4 303.1 218.5 304.6C220.5 306.2 222.8 314.2 222.3 318.1C221.8 321.9 217.2 331.1 214.6 333.4C212.1 335.8 206.2 335.9 203.1 335.4C200 334.9 192.1 331.9 191.6 329.6C191.1 327.3 197.2 321.2 199.3 318.1C201.3 315 204.4 308.4 206.9 306.6Z"/><path d="M249.2 356.2C250.5 354.1 257.1 351.7 260.7 354.2C264.3 356.8 274 371 276.1 375.4C278.1 379.7 278.1 385.9 276.1 386.9C274 387.9 264 385.4 260.7 383.1C257.4 380.8 252.6 373.2 251.1 369.6C249.6 366 247.9 358.2 249.2 356.2Z"/><path d="M247.3 586.6C250.9 580 272.2 562.6 276.1 571.3C279.9 580 279.1 641.7 276.1 651.9C273 662.2 256.6 652.2 253 648.1C249.4 644 250 629.4 249.2 621.2C248.4 613 243.7 593.3 247.3 586.6Z"/></g><path id="bocB" d="M-3.3 478.1 27.4 481 42.8 475.2 46.6 456 52.4 444.5 62 427.2 65.8 440.7 71.6 456 77.3 440.7 81.2 413.8 87.3 436.8 92.7 456 96.5 475.2 104.2 504 113.8 532.9 127.3 561.7 138.8 590.5 150.3 615.4 156.5 633.1 -3.3 607.4Z"/><path id="bocB2" d="M-3.3 154.8C-1.3 148.2 8.7 160.1 12 164.4C15.4 168.8 18.8 181.9 21.6 187.5C24.5 193.1 30.1 202.1 33.2 206.7C36.2 211.3 42.6 217.4 44.7 222.1C46.7 226.7 49.3 237.4 48.5 241.3C47.8 245.1 42.3 250.9 38.9 250.9C35.6 250.9 27.7 244.6 23.6 241.3C19.5 237.9 11.8 229.5 8.2 225.9C4.6 222.3 -1.8 223.9 -3.3 214.4C-4.9 204.9 -5.4 161.5 -3.3 154.8Z"/><path id="nodataB" d="M-3.3 607.4 156.5 633.1 280.9 653.8 280.9 667.3 -3.3 667.3Z"/><clipPath id="oceanclipB"><path d="M-5 -5 2.8 -1.3 8.2 29.4 15.9 54.4 20.7 67.8 25.5 90.9 30.3 113.9 31.6 125.4 39.3 126.6 41.2 137 46.6 160 53.3 183 57.2 202.3 61.6 231.1 65.8 259.9 69.7 298.3 72.9 330.9 75.4 349.8 78.3 378.6 82.1 407.4 86.9 436.2 94.6 474.6 100.8 493.8 108.1 513 115.8 532.3 123.4 551.5 131.1 570.7 138.4 589.9 146.9 609.1 156.1 628.3 163.8 645.6 170.5 660 172.5 665 -5 665Z"/></clipPath><clipPath id="oceanclipBR"><path d="M-5 -5 2.8 -1.3 8.2 29.4 15.9 54.4 20.7 67.8 25.5 90.9 30.3 113.9 31.6 125.4 39.3 126.6 41.2 137 46.6 160 53.3 183 57.2 202.3 61.6 231.1 65.8 259.9 69.7 298.3 72.9 330.9 75.4 349.8 78.3 378.6 82.1 407.4 86.9 436.2 94.6 474.6 100.8 493.8 108.1 513 115.8 532.3 123.4 551.5 131.1 570.7 138.4 589.9 146.9 609.1 156.1 628.3 163.8 645.6 170.5 660 172.5 665 -5 665Z" transform="scale(1.025 1)"/></clipPath><clipPath id="southB"><rect x="-5" y="222" width="300" height="460"/></clipPath><linearGradient id="southBg" x1="0" y1="0" x2="0" y2="1"><stop offset="0.28" stop-color="#000"/><stop offset="0.36" stop-color="#fff"/></linearGradient><mask id="southBm" maskUnits="userSpaceOnUse" x="-5" y="-5" width="300" height="680"><rect x="-5" y="-5" width="300" height="680" fill="url(#southBg)"/></mask>
<g id="flood2"><path d="M175.4 398.2C176.6 394.8 182.7 395.3 185 395.3C187.3 395.3 191.6 394.8 192.7 398.2C193.7 401.7 195.3 418.2 193 421.3C190.7 424.3 177.7 424.3 175.4 421.3C173 418.2 174.1 401.7 175.4 398.2Z"/><path d="M135 422.2C137 419.6 148.3 418.8 150.4 421.3C152.5 423.7 152.8 437.9 150.8 440.5C148.8 443.1 137.5 443.3 135.4 440.9C133.3 438.4 133 424.8 135 422.2Z"/><path d="M175.4 434.7C179.7 433.1 203.4 433 208 434.3C212.6 435.6 210.7 442.6 209.9 444.3C209.2 446 206.8 446.9 202.3 447.2C197.7 447.4 179.3 447.9 175.8 446.2C172.2 444.6 171.1 436.3 175.4 434.7Z"/><path d="M151.4 436.6C152.6 436.6 157.6 441.5 160 444.3C162.4 447.1 167.5 455.2 169.6 457.8C171.7 460.3 175.5 462 175.8 463.5C176 465.1 173.4 469.1 171.5 469.3C169.7 469.4 164.2 466.5 161.9 464.5C159.6 462.4 155.8 456.6 154.2 453.9C152.7 451.2 150.8 446.6 150.4 444.3C150 442 150.1 436.6 151.4 436.6Z"/><path d="M202.3 588.3C203.9 583.7 212 583 213.8 587.4C215.6 591.7 217.4 616.4 215.7 621C214 625.6 203.1 626.3 201.3 622C199.5 617.6 200.6 593 202.3 588.3Z"/><path d="M133.1 332.9C134.5 331.5 143 330.7 144.6 332C146.3 333.2 147 341.1 145.6 342.5C144.2 343.9 135.7 343.8 134.1 342.5C132.4 341.2 131.7 334.3 133.1 332.9Z"/></g>
<g id="cloud2"><path d="M38.7 77.8C38.8 78.9 37.8 81.4 37 82.2C36.1 82.9 33.4 83.5 32.3 83.5C31.1 83.4 29.2 82.3 28.3 81.5C27.5 80.8 25.9 78.8 25.9 77.8C25.9 76.8 27.3 74.8 28.2 74C29 73.2 31.2 71.9 32.3 71.9C33.4 71.9 35.5 73.3 36.4 74.1C37.2 74.9 38.6 76.7 38.7 77.8Z"/><path d="M89.9 20.2C89.9 21.3 88.8 23.8 87.9 24.6C87 25.3 84.5 25.8 83.2 25.8C81.9 25.9 79.1 25.5 78.3 24.8C77.4 24 76.9 21.4 76.9 20.2C77 19.1 77.9 16.9 78.7 16.1C79.6 15.3 82 13.9 83.2 13.9C84.4 13.9 86.7 15.3 87.6 16.1C88.5 17 89.9 19.1 89.9 20.2Z"/><path d="M106 24C105.9 25 104.8 26.7 104 27.3C103.3 28 101.5 28.9 100.5 28.9C99.4 29 97.1 28.5 96.3 27.9C95.5 27.2 94.6 25 94.7 24C94.8 23.1 96.1 21.5 96.9 20.7C97.7 20 99.4 18.6 100.5 18.5C101.5 18.4 104 19.4 104.7 20.2C105.4 20.9 106.1 23.1 106 24Z"/><path d="M83.9 33.7C83.9 34.5 83.4 36.2 82.7 36.8C82.1 37.4 80.2 37.9 79.3 37.9C78.4 37.9 76.7 37.3 76 36.8C75.2 36.2 73.8 34.5 73.9 33.7C73.9 32.9 75.5 31.4 76.2 30.8C76.9 30.1 78.4 28.8 79.3 28.7C80.3 28.7 82.4 29.6 83 30.2C83.7 30.9 84 32.8 83.9 33.7Z"/><path d="M96.3 52.9C96.3 53.8 95.5 55.8 94.8 56.5C94.1 57.2 91.9 58.3 90.9 58.3C89.8 58.3 87.4 57.4 86.7 56.7C86.1 55.9 85.7 53.8 85.8 52.9C85.9 51.9 86.6 50.3 87.3 49.6C88 48.9 89.8 47.5 90.9 47.5C91.9 47.4 94.2 48.4 94.9 49.1C95.7 49.8 96.3 51.9 96.3 52.9Z"/><path d="M113.2 47.1C113.3 48 113 50.3 112.4 51C111.7 51.6 109.3 51.9 108.1 51.9C107 51.9 104.8 51.5 104.1 50.9C103.4 50.2 102.9 48.1 102.9 47.1C102.9 46.1 103.3 44 104 43.3C104.7 42.6 107.1 41.8 108.1 41.8C109.2 41.9 111 43.2 111.6 43.9C112.3 44.6 113.1 46.1 113.2 47.1Z"/><path d="M141.2 47.1C141.2 47.8 140.3 49.2 139.8 49.7C139.2 50.2 137.7 50.7 137 50.7C136.2 50.7 134.7 50.1 134.2 49.6C133.7 49.2 133.2 47.8 133.2 47.1C133.2 46.4 133.8 45.1 134.3 44.7C134.8 44.2 136.2 43.4 137 43.4C137.7 43.3 139.4 43.9 139.9 44.4C140.5 44.9 141.2 46.4 141.2 47.1Z"/><path d="M95.3 66.3C95.3 67.1 94.7 68.7 94.1 69.3C93.5 69.9 91.7 70.9 90.9 70.9C90 70.9 88.3 69.8 87.7 69.2C87.1 68.6 86.6 67.1 86.6 66.3C86.7 65.5 87.2 64.1 87.8 63.5C88.4 62.9 90 61.7 90.9 61.7C91.7 61.7 93.6 62.6 94.2 63.3C94.8 63.9 95.3 65.5 95.3 66.3Z"/><path d="M106.9 70.1C107 70.9 106.3 72.6 105.7 73.2C105.1 73.7 103.2 74.3 102.4 74.3C101.6 74.2 100.1 73.3 99.5 72.8C98.9 72.2 98 70.8 98 70.1C98 69.4 99 68.1 99.5 67.5C100.1 66.9 101.6 65.9 102.4 65.9C103.2 65.8 104.9 66.7 105.5 67.3C106.1 67.9 106.9 69.4 106.9 70.1Z"/><path d="M118.1 77.8C118.1 78.6 117.6 80.2 117 80.7C116.5 81.1 114.7 81.3 113.9 81.3C113.2 81.2 111.8 80.7 111.3 80.2C110.8 79.8 110.3 78.5 110.3 77.8C110.2 77.1 110.5 75.7 111 75.2C111.5 74.7 113.1 74.1 113.9 74.1C114.7 74.1 116.3 74.6 116.9 75.1C117.4 75.6 118.1 77.1 118.1 77.8Z"/><path d="M123.8 85.5C123.8 86.2 123.1 87.6 122.5 88.1C122 88.7 120.4 89.4 119.7 89.4C118.9 89.4 117.5 88.6 116.9 88.1C116.3 87.5 115.4 86.2 115.4 85.5C115.4 84.8 116.5 83.6 117.1 83.1C117.7 82.6 118.9 81.6 119.7 81.5C120.4 81.4 122.2 82.1 122.8 82.6C123.3 83.2 123.9 84.8 123.8 85.5Z"/><path d="M106.3 98.9C106.3 100 105.4 102.1 104.6 102.8C103.9 103.5 101.7 104.5 100.5 104.6C99.3 104.7 96.4 104.2 95.6 103.4C94.8 102.7 94.4 100.1 94.4 98.9C94.5 97.8 95.3 95.8 96.1 94.9C96.9 94.1 99.3 92.4 100.5 92.5C101.6 92.5 103.9 94.2 104.7 95.1C105.4 96 106.4 97.9 106.3 98.9Z"/><path d="M116 93.2C116 93.9 115.7 95.5 115.1 96.1C114.6 96.6 112.8 97.2 112 97.2C111.2 97.2 109.5 96.6 108.9 96.1C108.2 95.5 107 94 107 93.2C107 92.4 108.2 90.8 108.9 90.3C109.5 89.8 111.2 89.4 112 89.4C112.8 89.4 114.4 89.9 115 90.4C115.5 90.9 115.9 92.4 116 93.2Z"/><path d="M82.3 114.3C82.3 115.2 81.6 116.9 81 117.6C80.3 118.3 78.4 119.5 77.4 119.5C76.4 119.6 74.1 118.7 73.4 118C72.6 117.3 71.8 115.3 71.8 114.3C71.9 113.4 73 111.7 73.7 110.9C74.5 110.2 76.5 108.7 77.4 108.7C78.4 108.7 80.2 110.4 80.8 111.2C81.5 111.9 82.3 113.5 82.3 114.3Z"/><path d="M100 118.2C100.1 119.4 99.2 122.3 98.3 123.2C97.3 124.1 94.2 124.6 92.8 124.6C91.4 124.5 88.6 123.8 87.6 122.9C86.6 122.1 85 119.4 85 118.2C85 116.9 86.5 114.3 87.6 113.3C88.6 112.4 91.4 111.1 92.8 111.1C94.2 111.1 96.9 112.5 97.8 113.5C98.8 114.4 100 116.9 100 118.2Z"/><path d="M106 127.8C106 128.9 105.9 131.3 105.2 132.1C104.4 132.9 101.6 133.9 100.5 133.8C99.3 133.7 97.5 132.1 96.6 131.3C95.8 130.5 93.9 128.7 93.9 127.8C93.8 126.8 95.4 124.6 96.3 123.9C97.1 123.2 99.3 122.6 100.5 122.5C101.6 122.5 104.3 122.9 105 123.6C105.7 124.3 106 126.6 106 127.8Z"/><path d="M140.1 125.8C140.2 127 139 129.6 138.1 130.4C137.2 131.2 134.4 131.9 133.1 131.9C131.8 131.9 129.2 131.2 128.2 130.3C127.3 129.5 126 127 126 125.8C126 124.6 127.4 122.2 128.4 121.5C129.3 120.8 131.9 120.5 133.1 120.5C134.3 120.6 136.6 121 137.6 121.7C138.5 122.4 140 124.7 140.1 125.8Z"/><path d="M156.5 137.4C156.6 138.8 155.4 141.8 154.4 142.8C153.3 143.8 150 145.2 148.5 145.1C147 145 144.2 143.2 143.3 142.1C142.4 141.1 141.5 138.6 141.5 137.4C141.5 136.1 142.3 133.4 143.3 132.5C144.2 131.7 147 131.1 148.5 131C149.9 130.9 153.1 131.2 154.2 132.1C155.3 132.9 156.5 135.9 156.5 137.4Z"/><path d="M173.5 133.5C173.5 134.8 172.1 137.6 171.1 138.4C170.1 139.3 167.1 140.1 165.8 140C164.4 139.9 162 138.7 161.1 137.8C160.2 136.9 159.3 134.7 159.2 133.5C159.1 132.3 159.6 129.6 160.5 128.6C161.4 127.7 164.4 126.4 165.8 126.5C167.2 126.5 169.9 127.8 171 128.7C172 129.6 173.5 132.2 173.5 133.5Z"/><path d="M170.5 150.8C170.4 151.9 168.8 153.8 167.9 154.6C167 155.3 164.9 156.5 163.8 156.5C162.7 156.6 160.6 155.4 159.7 154.7C158.7 153.9 156.7 151.9 156.6 150.8C156.6 149.7 158.2 147.3 159.2 146.5C160.2 145.7 162.6 144.7 163.8 144.7C165.1 144.7 167.7 145.6 168.6 146.5C169.4 147.3 170.6 149.7 170.5 150.8Z"/><path d="M78.9 148.9C78.8 150 76.7 151.8 75.8 152.7C74.8 153.5 72.8 155.3 71.7 155.4C70.5 155.4 68 153.9 67.2 153C66.4 152.1 65.7 150 65.7 148.9C65.7 147.8 66.4 145.6 67.1 144.7C67.9 143.9 70.4 142.6 71.7 142.5C72.9 142.5 75.7 143.4 76.7 144.3C77.6 145.1 79 147.8 78.9 148.9Z"/><path d="M80.9 164.2C80.9 165.4 80.8 167.8 80.1 168.5C79.4 169.2 76.7 169.5 75.5 169.4C74.3 169.4 71.8 169.1 71 168.4C70.1 167.7 69.1 165.4 69.1 164.2C69.1 163.1 69.9 160.7 70.8 159.9C71.6 159.1 74.3 158.3 75.5 158.3C76.7 158.3 79.4 159.2 80.1 160C80.8 160.8 80.9 163.1 80.9 164.2Z"/><path d="M97.3 175.8C97.2 176.7 96.8 178.3 96.2 178.9C95.6 179.6 93.7 180.7 92.8 180.8C91.8 180.8 89.8 179.8 89.2 179.1C88.6 178.4 88.4 176.7 88.4 175.8C88.4 174.9 88.5 172.9 89.1 172.3C89.6 171.7 91.8 171.1 92.8 171.1C93.8 171.1 96 171.6 96.6 172.2C97.2 172.8 97.3 174.9 97.3 175.8Z"/><path d="M189.2 81.7C189.2 82.6 187.9 84.8 187.1 85.4C186.3 86 184.1 86.5 183 86.5C182 86.5 179.8 85.9 179.1 85.3C178.5 84.6 178 82.6 178 81.7C178.1 80.7 178.8 79.1 179.5 78.4C180.1 77.6 182 76.2 183 76.2C184.1 76.2 186.2 77.3 187 78C187.8 78.7 189.2 80.7 189.2 81.7Z"/><path d="M182 86.5C181.9 87.2 181 88.8 180.4 89.3C179.8 89.9 178.2 90.8 177.3 90.8C176.4 90.9 174.6 90.2 173.9 89.6C173.2 89 171.7 87.3 171.7 86.5C171.7 85.6 173.2 83.9 173.9 83.4C174.7 82.8 176.4 82.2 177.3 82.2C178.2 82.3 179.8 83 180.5 83.5C181.1 84.1 182 85.7 182 86.5Z"/><path d="M209.8 85.5C209.9 86.8 208.8 89.7 207.8 90.6C206.8 91.4 203.7 91.9 202.3 91.9C200.8 91.9 197.9 91.3 196.9 90.4C196 89.5 194.9 86.8 195 85.5C195 84.2 196.2 81.6 197.2 80.8C198.2 80 201 79.6 202.3 79.6C203.6 79.6 205.9 80.4 206.9 81.2C207.9 82 209.7 84.3 209.8 85.5Z"/><path d="M218 75.9C217.9 76.9 216.3 78.6 215.5 79.2C214.7 79.8 212.8 80.4 211.9 80.4C210.9 80.5 208.8 80 208.1 79.4C207.4 78.8 206.6 76.9 206.5 75.9C206.4 74.9 206.9 72.7 207.6 72C208.3 71.3 210.7 70.3 211.9 70.3C213 70.3 215.2 71.3 216 72.1C216.8 72.8 218.1 74.9 218 75.9Z"/><path d="M228.4 74C228.5 74.8 227.6 76.6 226.9 77.2C226.2 77.8 224.3 78.4 223.4 78.4C222.5 78.4 220.7 77.6 220.1 77C219.4 76.4 218.6 74.7 218.7 74C218.8 73.2 219.8 71.9 220.5 71.3C221.1 70.7 222.6 69.6 223.4 69.6C224.2 69.5 225.7 70.6 226.4 71.2C227.1 71.8 228.3 73.2 228.4 74Z"/><path d="M239.7 72.1C239.7 72.9 239 74.7 238.3 75.2C237.7 75.8 235.7 76.3 234.9 76.3C234.1 76.2 232.6 75.3 232 74.7C231.4 74.1 230.5 72.8 230.4 72.1C230.4 71.3 231 69.5 231.6 69C232.2 68.4 234 67.8 234.9 67.8C235.8 67.8 237.6 68.4 238.2 69C238.9 69.6 239.7 71.2 239.7 72.1Z"/><path d="M250.2 60.5C250.2 61.4 248.8 63.1 248.1 63.8C247.3 64.5 245.5 65.9 244.5 65.9C243.5 66 241.6 64.6 240.9 63.9C240.1 63.2 238.7 61.5 238.7 60.5C238.7 59.6 239.9 57.6 240.7 57C241.4 56.4 243.5 55.8 244.5 55.8C245.5 55.9 247.4 56.6 248.1 57.2C248.9 57.8 250.2 59.7 250.2 60.5Z"/><path d="M257.1 64.4C257.1 65.1 255.7 66.4 255.1 67C254.4 67.6 253 68.8 252.2 68.8C251.3 68.9 249.4 68.1 248.8 67.5C248.1 67 247.3 65.2 247.4 64.4C247.4 63.6 248.4 62 249 61.5C249.7 60.9 251.4 60.2 252.2 60.2C253 60.2 254.6 61 255.3 61.5C255.9 62.1 257.1 63.6 257.1 64.4Z"/><path d="M274.4 81.7C274.5 82.4 273.4 84.1 272.8 84.7C272.1 85.3 270.3 86.3 269.5 86.3C268.6 86.3 266.9 85.2 266.3 84.6C265.8 83.9 265.1 82.4 265.1 81.7C265.1 80.9 265.7 79.3 266.3 78.7C266.8 78.1 268.7 77.3 269.5 77.3C270.3 77.4 271.6 78.5 272.3 79C273 79.6 274.3 80.9 274.4 81.7Z"/><path d="M275.6 95.1C275.6 95.9 275.2 97.6 274.7 98.1C274.1 98.6 272.2 98.9 271.4 98.9C270.5 98.8 268.9 98.5 268.2 98C267.6 97.5 266.7 95.9 266.7 95.1C266.6 94.3 267.3 92.5 267.9 91.9C268.5 91.3 270.5 90.7 271.4 90.8C272.2 90.9 273.7 91.9 274.3 92.4C274.9 93 275.5 94.3 275.6 95.1Z"/><path d="M198.5 100.9C198.5 101.9 197.9 104.3 197.1 105C196.3 105.7 193.8 106.1 192.7 106.1C191.5 106 189.2 105.4 188.5 104.7C187.8 104 187.3 101.9 187.3 100.9C187.3 99.9 187.8 97.8 188.6 97.1C189.3 96.4 191.6 95.8 192.7 95.8C193.7 95.7 196 96.4 196.8 97.1C197.5 97.8 198.4 99.8 198.5 100.9Z"/><path d="M216.8 95.1C216.8 95.9 216.1 97.8 215.4 98.4C214.8 99 212.8 99.7 211.9 99.7C210.9 99.6 209.3 98.7 208.6 98.1C208 97.5 207.1 95.9 207 95.1C207 94.3 207.7 92.5 208.4 91.9C209 91.3 211 90.9 211.9 90.9C212.8 90.9 214.5 91.5 215.1 92.1C215.8 92.7 216.7 94.3 216.8 95.1Z"/><path d="M208.6 116.2C208.7 117.4 208 119.8 207.1 120.7C206.2 121.6 203.6 123 202.3 123C200.9 123 198.1 121.8 197.2 120.9C196.3 120 195.4 117.4 195.4 116.2C195.5 115.1 196.8 112.9 197.8 112.1C198.7 111.3 201.1 110.2 202.3 110.2C203.5 110.2 205.9 111.3 206.7 112.1C207.6 112.9 208.6 115.1 208.6 116.2Z"/><path d="M190.3 112.4C190.2 113.3 189.3 115.1 188.6 115.8C187.9 116.4 186 117 185 117.1C184 117.1 181.9 116.5 181.2 115.9C180.5 115.3 179.9 113.3 179.9 112.4C180 111.5 180.9 109.9 181.5 109.2C182.2 108.6 184 107.7 185 107.6C185.9 107.6 188 108.3 188.7 109C189.4 109.6 190.3 111.5 190.3 112.4Z"/><path d="M253.1 123.9C253.2 124.7 252.5 126.7 251.9 127.2C251.3 127.7 249.2 127.8 248.3 127.8C247.5 127.7 245.8 127.3 245.2 126.8C244.6 126.3 243.6 124.7 243.6 123.9C243.6 123.2 244.8 121.8 245.4 121.2C246.1 120.7 247.6 119.7 248.3 119.7C249.1 119.7 250.8 120.6 251.4 121.1C252 121.7 253 123.1 253.1 123.9Z"/><path d="M262.2 122C262.1 122.8 261.3 124.1 260.8 124.6C260.2 125.1 258.7 126 257.9 126C257.2 126.1 255.6 125.2 255 124.7C254.5 124.2 253.7 122.8 253.6 122C253.6 121.2 253.9 119.4 254.5 118.8C255 118.2 257 117.5 257.9 117.5C258.9 117.5 260.8 118.2 261.4 118.8C261.9 119.4 262.3 121.2 262.2 122Z"/><path d="M249.2 147C249.3 148.1 248.7 150.8 247.8 151.8C246.9 152.8 244 154.2 242.6 154.2C241.2 154.2 238.4 152.7 237.4 151.8C236.4 150.8 235 148.3 235 147C235 145.7 236.2 142.9 237.2 142C238.3 141.2 241.3 140.6 242.6 140.7C243.9 140.8 246.1 142 247 142.9C247.9 143.7 249.1 145.8 249.2 147Z"/><path d="M197.3 141.2C197.2 142 196.6 143.8 196 144.3C195.3 144.7 193.5 144.9 192.7 144.9C191.8 144.8 190.2 144.5 189.6 144C189 143.5 188.2 142 188.2 141.2C188.2 140.4 189 138.9 189.6 138.3C190.1 137.8 191.8 137.3 192.7 137.3C193.5 137.2 195.5 137.5 196.1 138C196.8 138.5 197.3 140.4 197.3 141.2Z"/><path d="M195.1 150.8C195.1 151.5 194.5 153.2 193.9 153.7C193.3 154.2 191.5 154.6 190.7 154.6C189.9 154.6 188.4 154 187.8 153.5C187.2 153 186.4 151.5 186.4 150.8C186.4 150.1 187 148.4 187.6 147.9C188.2 147.4 189.9 147 190.7 147.1C191.5 147.1 193 147.7 193.6 148.2C194.1 148.7 195 150.1 195.1 150.8Z"/><path d="M187 148.9C187 149.5 186.2 150.8 185.6 151.3C185.1 151.7 183.8 152.3 183 152.3C182.3 152.3 180.8 151.9 180.3 151.5C179.7 151 179.2 149.6 179.2 148.9C179.1 148.2 179.4 146.5 180 146C180.5 145.6 182.3 145.4 183 145.5C183.8 145.5 185 146.1 185.5 146.6C186.1 147 187 148.3 187 148.9Z"/><path d="M174.2 175.8C174.2 176.9 173.3 179.3 172.4 180.1C171.5 180.9 168.8 182 167.7 181.9C166.5 181.8 164.7 180.1 163.9 179.3C163 178.5 161.4 176.8 161.3 175.8C161.2 174.8 162.5 172.6 163.4 171.8C164.2 171 166.5 169.9 167.7 169.8C168.9 169.8 171.5 170.7 172.4 171.5C173.2 172.3 174.2 174.6 174.2 175.8Z"/><path d="M183 173.8C183 174.7 181.7 176.6 181 177.2C180.2 177.9 178.3 178.7 177.3 178.7C176.3 178.7 174.2 178.1 173.3 177.5C172.5 176.8 171.2 174.8 171.2 173.8C171.2 172.9 172.4 170.8 173.2 170.1C174 169.4 176.3 168.3 177.3 168.4C178.3 168.5 180 170 180.7 170.7C181.5 171.4 183 173 183 173.8Z"/><path d="M188.2 164.2C188.2 165.2 188 167.4 187.3 168.2C186.6 168.9 184.2 169.8 183 169.8C181.9 169.8 179.9 168.7 179 168C178.2 167.2 176.8 165.2 176.9 164.2C177 163.3 178.6 161.5 179.4 160.9C180.2 160.3 182.1 159.7 183 159.7C184 159.7 186.1 160.2 186.8 160.8C187.5 161.4 188.1 163.3 188.2 164.2Z"/><path d="M203.3 164.2C203.2 165.2 202.8 167 202.2 167.7C201.6 168.5 199.5 169.8 198.4 169.8C197.4 169.8 195 168.8 194.3 168C193.6 167.3 193 165.2 193.1 164.2C193.1 163.3 194.1 161.6 194.9 161C195.6 160.3 197.4 159.7 198.4 159.6C199.5 159.5 202.1 159.6 202.7 160.3C203.4 160.9 203.3 163.2 203.3 164.2Z"/><path d="M260.9 162.3C261 163.3 260.8 165.4 260.1 166.1C259.4 166.7 257.1 167.2 256 167.2C255 167.1 252.9 166.5 252.2 165.9C251.4 165.3 250.6 163.3 250.6 162.3C250.6 161.4 251.4 159.4 252.1 158.7C252.8 158 255 157.3 256 157.3C257 157.3 259.1 158.2 259.7 158.9C260.4 159.6 260.9 161.4 260.9 162.3Z"/><path d="M273.6 170C273.7 171 272.5 173.2 271.7 173.8C270.9 174.5 268.6 175.2 267.6 175.1C266.5 175 264.7 174 264 173.3C263.3 172.6 262.6 170.9 262.6 170C262.6 169.1 263.1 167.3 263.8 166.5C264.4 165.8 266.5 164.4 267.6 164.4C268.6 164.3 270.7 165.6 271.6 166.3C272.4 167.1 273.6 169 273.6 170Z"/><path d="M234.9 168.1C234.9 168.7 233.9 169.8 233.4 170.2C232.8 170.6 231.7 171 231.1 171.1C230.4 171.1 228.9 170.9 228.5 170.5C228 170.1 227.5 168.7 227.6 168.1C227.6 167.5 228.3 166.3 228.7 165.9C229.2 165.5 230.4 165 231.1 164.9C231.7 164.9 233.2 165.2 233.7 165.6C234.3 166 235 167.5 234.9 168.1Z"/><path d="M241.7 193.1C241.7 193.8 240.6 195.4 240 196C239.3 196.5 237.6 197.4 236.8 197.4C236 197.4 234.6 196.2 234 195.7C233.3 195.1 232 193.8 232 193.1C231.9 192.3 233.1 190.7 233.7 190.2C234.3 189.6 236 188.8 236.8 188.8C237.6 188.8 239.1 189.8 239.7 190.4C240.4 191 241.6 192.3 241.7 193.1Z"/><path d="M252.9 198.8C252.8 199.6 252.3 201.3 251.7 201.9C251.1 202.5 249.2 203.3 248.3 203.3C247.5 203.2 246.1 202 245.5 201.4C245 200.8 244.2 199.6 244.1 198.8C244 198 244.2 196.1 244.8 195.5C245.4 195 247.4 194.7 248.3 194.8C249.3 194.8 251.1 195.2 251.7 195.7C252.3 196.2 252.9 198 252.9 198.8Z"/><path d="M199.3 193.1C199.2 194.3 198.3 196.5 197.4 197.4C196.5 198.4 194 199.9 192.7 200C191.3 200.1 188.1 199.2 187 198.2C186 197.3 184.8 194.4 184.8 193.1C184.8 191.7 186.1 188.8 187.1 187.9C188.1 187.1 191.2 186.5 192.7 186.6C194.1 186.6 196.9 187.4 197.8 188.3C198.7 189.2 199.3 191.8 199.3 193.1Z"/><path d="M190.5 202.7C190.4 204 189.3 206.6 188.3 207.5C187.3 208.4 184.4 209.5 183 209.5C181.7 209.5 179 208.3 177.9 207.4C176.8 206.5 174.8 203.9 174.8 202.7C174.8 201.4 176.6 198.7 177.7 197.7C178.8 196.8 181.6 195.5 183 195.5C184.5 195.4 187.6 196.5 188.6 197.5C189.6 198.5 190.5 201.3 190.5 202.7Z"/><path d="M181.9 208.4C181.9 209.5 180.5 211.5 179.6 212.3C178.7 213.1 176.5 214.2 175.4 214.2C174.2 214.2 172 213.1 171.1 212.4C170.2 211.6 168.3 209.5 168.3 208.4C168.3 207.4 170.2 205.3 171.2 204.5C172.1 203.8 174.2 202.8 175.4 202.8C176.5 202.7 178.9 203.6 179.7 204.4C180.6 205.2 181.9 207.4 181.9 208.4Z"/><path d="M204 208.4C203.9 209.4 203 211.3 202.3 212C201.6 212.8 199.6 213.9 198.4 214C197.3 214.1 194.5 213.5 193.7 212.7C193 212 192.9 209.5 192.9 208.4C193 207.3 193.5 205.3 194.3 204.6C195 203.8 197.3 202.9 198.4 202.8C199.6 202.8 202.2 203.5 202.9 204.3C203.6 205 204 207.4 204 208.4Z"/><path d="M209.9 195C209.9 195.8 208.5 197.6 207.8 198.3C207 199 205.2 200.1 204.2 200.2C203.2 200.3 200.8 199.4 200.1 198.7C199.4 198 198.7 196 198.7 195C198.8 194 199.5 192.1 200.3 191.4C201 190.7 203.2 189.6 204.2 189.6C205.2 189.7 206.9 191.1 207.6 191.8C208.4 192.5 209.9 194.1 209.9 195Z"/><path d="M211.8 227.6C211.8 228.7 211 230.6 210.2 231.5C209.5 232.3 207.3 233.6 206.1 233.7C204.9 233.8 202.1 232.9 201.2 232.1C200.3 231.3 199.4 228.8 199.4 227.6C199.5 226.4 200.6 224.1 201.5 223.4C202.4 222.6 204.9 222 206.1 222C207.3 222 209.9 222.6 210.7 223.4C211.5 224.1 211.9 226.5 211.8 227.6Z"/><path d="M179.3 227.6C179.4 228.9 177.9 231.7 176.9 232.6C175.8 233.4 172.9 234.2 171.5 234.1C170.1 234.1 167.4 233.1 166.6 232.2C165.7 231.3 165.4 228.9 165.3 227.6C165.3 226.3 165.2 223.4 166.1 222.6C166.9 221.8 170.1 221.6 171.5 221.7C173 221.7 175.7 222 176.8 222.8C177.8 223.6 179.3 226.3 179.3 227.6Z"/><path d="M180.7 239.1C180.7 240.2 180.7 242.6 180 243.4C179.3 244.2 176.6 245.1 175.4 245.1C174.1 245.1 171.4 244.3 170.6 243.5C169.9 242.7 169.5 240.2 169.6 239.1C169.7 238.1 170.7 236.3 171.5 235.6C172.3 234.8 174.3 233.6 175.4 233.6C176.4 233.5 178.9 234.5 179.6 235.3C180.3 236 180.6 238.1 180.7 239.1Z"/><path d="M199 250.7C199 251.6 197.3 253.4 196.4 254.1C195.6 254.9 193.7 256.5 192.7 256.5C191.7 256.5 189.8 254.9 188.9 254.1C188 253.3 186.2 251.7 186 250.7C185.9 249.6 187.2 247.2 188 246.4C188.9 245.6 191.5 244.7 192.7 244.8C193.8 244.8 195.8 246.2 196.6 247C197.5 247.8 199 249.7 199 250.7Z"/><path d="M208.4 260.3C208.3 261.3 207 263.1 206.2 263.9C205.4 264.6 203.3 265.9 202.3 265.9C201.2 265.9 199.1 264.6 198.3 263.9C197.6 263.1 196.7 261.3 196.7 260.3C196.6 259.3 197.4 257.2 198.2 256.5C198.9 255.8 201.1 254.7 202.3 254.7C203.4 254.6 205.9 255.4 206.7 256.2C207.5 256.9 208.4 259.2 208.4 260.3Z"/><path d="M203.7 268C203.7 268.9 202.8 270.7 202.1 271.4C201.4 272 199.4 272.9 198.4 272.9C197.4 272.9 195.2 272.1 194.6 271.5C194 270.8 193.9 268.8 194 268C194 267.1 194.6 265.6 195.2 265C195.8 264.4 197.5 263.5 198.4 263.5C199.3 263.4 201.4 263.9 202.1 264.5C202.8 265.1 203.7 267 203.7 268Z"/><path d="M245.7 235.3C245.7 236.2 245.2 238.3 244.5 238.9C243.8 239.4 241.6 239.8 240.7 239.7C239.7 239.6 238.3 238.8 237.6 238.2C236.8 237.6 235.2 236.2 235.1 235.3C235 234.4 236 232.4 236.8 231.7C237.5 231 239.7 230.2 240.7 230.2C241.6 230.3 243.4 231.5 244.1 232.1C244.8 232.8 245.6 234.4 245.7 235.3Z"/><path d="M250.8 244.9C250.8 245.5 249.6 246.9 249 247.3C248.5 247.8 247.1 248.4 246.4 248.4C245.7 248.5 244.3 247.9 243.7 247.4C243.2 246.9 242.2 245.6 242.2 244.9C242.2 244.2 243.2 242.9 243.8 242.4C244.3 242 245.7 241.5 246.4 241.5C247.1 241.5 248.4 242.1 249 242.6C249.6 243 250.8 244.3 250.8 244.9Z"/><path d="M261 223.8C261 224.6 260.1 226.4 259.4 226.9C258.8 227.5 256.9 227.9 256 227.9C255.2 227.9 253.6 227.1 253 226.6C252.4 226 251.7 224.6 251.7 223.8C251.6 223 252.1 221.3 252.7 220.7C253.3 220.2 255.2 219.7 256 219.7C256.9 219.7 258.4 220.4 259.1 221C259.7 221.5 260.9 223 261 223.8Z"/><path d="M274.3 223.8C274.3 224.6 273.3 226.1 272.6 226.7C272 227.3 270.3 228.4 269.5 228.3C268.6 228.3 267.1 227.2 266.4 226.6C265.8 226 264.5 224.6 264.5 223.8C264.4 223 265.3 221.1 266 220.6C266.6 220 268.6 219.7 269.5 219.7C270.3 219.7 271.9 220.4 272.6 220.9C273.2 221.5 274.3 223 274.3 223.8Z"/><path d="M267.4 212.3C267.3 213 267 214.3 266.5 214.8C266 215.4 264.5 216.2 263.7 216.3C262.9 216.3 261.2 215.6 260.7 215.1C260.1 214.5 259.4 213 259.5 212.3C259.5 211.6 260.5 210.3 261 209.8C261.6 209.3 262.9 208.7 263.7 208.7C264.5 208.6 266.3 209 266.7 209.5C267.2 209.9 267.4 211.5 267.4 212.3Z"/><path d="M223.6 248.7C223.6 249.5 223.3 251.1 222.7 251.7C222.2 252.3 220.4 253.2 219.5 253.2C218.6 253.3 216.6 252.6 216 252C215.4 251.4 215.2 249.5 215.3 248.7C215.4 247.9 216 246.6 216.6 246C217.2 245.4 218.7 244.4 219.5 244.4C220.3 244.3 222.1 245.3 222.7 245.9C223.2 246.4 223.6 248 223.6 248.7Z"/><path d="M238.1 258.3C238.1 259.3 237.6 261.4 236.9 261.9C236.2 262.5 233.9 262.6 233 262.5C232 262.4 230.5 261.8 229.8 261.3C229.2 260.7 228.3 259.2 228.3 258.3C228.2 257.5 228.7 255.6 229.3 255C229.9 254.3 232 253.7 233 253.7C234 253.7 236 254.3 236.7 255C237.3 255.6 238.1 257.4 238.1 258.3Z"/><path d="M239.4 268C239.3 268.8 238.6 270.3 238 270.8C237.4 271.4 235.8 272 234.9 272.1C234 272.2 231.6 272.1 231 271.6C230.3 271 230.1 268.9 230.2 268C230.2 267 230.7 265.2 231.3 264.7C232 264.1 234 263.6 234.9 263.6C235.8 263.7 237.7 264.2 238.3 264.8C238.9 265.4 239.4 267.1 239.4 268Z"/><path d="M226.5 275.6C226.6 276.6 226.4 278.8 225.7 279.5C225 280.2 222.5 280.9 221.5 280.8C220.4 280.8 218.4 279.8 217.6 279.1C216.9 278.5 215.7 276.5 215.8 275.6C215.8 274.7 217.2 273.2 218 272.4C218.7 271.7 220.5 270.1 221.5 270.1C222.4 270.1 224.4 271.6 225 272.3C225.7 273.1 226.4 274.7 226.5 275.6Z"/><path d="M244.8 279.5C244.9 280.4 243.3 282.3 242.5 283C241.7 283.6 239.8 284.2 238.7 284.2C237.7 284.3 235.4 283.8 234.8 283.2C234.1 282.5 233.6 280.4 233.6 279.5C233.6 278.5 234.2 276.6 234.9 275.9C235.6 275.2 237.8 274.1 238.7 274.1C239.7 274.1 241.5 275.5 242.3 276.2C243.1 276.9 244.8 278.6 244.8 279.5Z"/><path d="M274.7 268C274.7 268.9 273.8 270.7 273.1 271.3C272.4 272 270.5 272.9 269.5 272.9C268.5 273 266.2 272.2 265.6 271.6C265 270.9 265 268.9 265 268C265 267 265.3 265.3 265.9 264.7C266.5 264 268.5 263.4 269.5 263.3C270.5 263.3 272.7 263.7 273.4 264.3C274.1 265 274.7 267 274.7 268Z"/><path d="M218.5 292.9C218.5 293.8 218 295.7 217.3 296.2C216.7 296.8 214.7 297.1 213.8 297.1C212.9 297.1 211.2 296.5 210.5 296C209.7 295.4 208.3 293.7 208.2 292.9C208.2 292.1 209.6 290.4 210.3 289.8C211.1 289.2 212.8 288.4 213.8 288.4C214.7 288.4 217 288.8 217.6 289.4C218.2 290 218.6 292 218.5 292.9Z"/><path d="M206.5 294.8C206.5 295.7 206.3 297.5 205.7 298.1C205.2 298.7 203.2 299.3 202.3 299.3C201.3 299.3 199.3 298.7 198.8 298.1C198.2 297.5 198.1 295.7 198.2 294.8C198.2 294 198.5 292.5 199.1 291.9C199.6 291.3 201.4 290.6 202.3 290.5C203.1 290.5 205.1 291.1 205.7 291.7C206.3 292.2 206.5 294 206.5 294.8Z"/><path d="M189.7 296.8C189.8 297.5 188.9 299.2 188.2 299.8C187.6 300.3 185.8 301 185 300.9C184.2 300.8 182.8 299.9 182.2 299.3C181.5 298.8 180.1 297.5 180 296.8C180 296 181.2 294.5 181.9 293.9C182.5 293.3 184.2 292.2 185 292.2C185.8 292.2 187.3 293.4 187.9 294C188.6 294.6 189.7 296 189.7 296.8Z"/><path d="M175.9 296.8C175.9 297.6 175.4 299.3 174.9 299.8C174.3 300.4 172.4 300.8 171.5 300.7C170.7 300.7 169 300.2 168.4 299.6C167.9 299.1 167.5 297.6 167.5 296.8C167.4 295.9 167.5 294.1 168.1 293.6C168.6 293 170.6 292.6 171.5 292.6C172.5 292.6 174.4 293 175 293.5C175.6 294.1 175.9 295.9 175.9 296.8Z"/><path d="M241.6 296.8C241.5 297.6 240.4 298.9 239.7 299.5C239.1 300 237.7 300.9 236.8 301C236 301 234 300.4 233.4 299.9C232.9 299.3 232.4 297.6 232.5 296.8C232.5 296 233.2 294.5 233.7 293.9C234.3 293.3 235.9 292.3 236.8 292.2C237.7 292.2 239.7 292.9 240.4 293.5C241 294.1 241.7 296 241.6 296.8Z"/><path d="M252.6 306.4C252.6 307.2 252 308.7 251.4 309.2C250.9 309.8 249.1 310.5 248.3 310.5C247.5 310.5 246 309.6 245.4 309C244.9 308.5 244.1 307.1 244 306.4C244 305.6 244.7 304 245.3 303.5C245.9 303 247.5 302.7 248.3 302.6C249.2 302.6 251.2 302.7 251.7 303.2C252.3 303.7 252.7 305.6 252.6 306.4Z"/><path d="M218.8 310.2C218.8 311 217.8 312.6 217.1 313.3C216.5 314 214.7 315.1 213.8 315.2C212.8 315.2 210.5 314.5 209.8 313.8C209.2 313.2 208.6 311.1 208.6 310.2C208.6 309.3 209.4 307.4 210.1 306.8C210.8 306.2 212.8 305.6 213.8 305.7C214.7 305.7 216.5 306.5 217.1 307.1C217.8 307.7 218.8 309.4 218.8 310.2Z"/><path d="M205.1 310.2C205 311 203.9 312.4 203.3 312.9C202.6 313.4 201.1 314.1 200.3 314.2C199.5 314.2 197.8 313.6 197.2 313.1C196.7 312.5 196.4 311 196.4 310.2C196.4 309.4 196.7 307.9 197.2 307.3C197.7 306.8 199.5 306.1 200.3 306.1C201.2 306.1 202.9 306.7 203.5 307.2C204.2 307.8 205.1 309.4 205.1 310.2Z"/><path d="M109.3 204.6C109.4 206 109.2 209 108.3 210C107.4 211 103.9 212.1 102.4 212.1C100.8 212 97.8 210.8 96.7 209.9C95.6 208.9 94 205.9 94.1 204.6C94.2 203.3 96.4 200.9 97.5 200.1C98.6 199.2 101 198.5 102.4 198.4C103.8 198.3 107.1 198.5 108.1 199.3C109 200.2 109.3 203.1 109.3 204.6Z"/><path d="M112.8 221.9C112.7 223 111.3 224.9 110.4 225.7C109.5 226.5 107.4 228.1 106.2 228.1C105.1 228.2 102.5 227 101.6 226.2C100.7 225.3 99.5 223 99.6 221.9C99.6 220.8 101.1 218.8 102 217.9C102.9 217.1 105 215.7 106.2 215.7C107.4 215.6 110.2 216.6 111.1 217.4C111.9 218.2 112.9 220.8 112.8 221.9Z"/><path d="M117.7 237.2C117.7 238.5 116.1 241 115.1 241.8C114 242.6 111.4 243.4 110.1 243.4C108.7 243.4 105.9 242.7 105 241.9C104.1 241 103.2 238.4 103.3 237.2C103.3 236 104.4 233.7 105.3 232.8C106.2 231.9 108.7 230.8 110.1 230.7C111.4 230.6 114.5 231.3 115.5 232.2C116.5 233.1 117.8 235.9 117.7 237.2Z"/><path d="M121.6 243C121.6 244.2 121.4 246.7 120.7 247.4C119.9 248.2 117.1 248.5 115.8 248.5C114.6 248.5 111.9 248.1 111.1 247.3C110.3 246.6 109.6 244.2 109.5 243C109.5 241.8 110.1 239.3 111 238.5C111.8 237.7 114.5 237.1 115.8 237.1C117.1 237.1 120 237.6 120.8 238.4C121.6 239.2 121.7 241.8 121.6 243Z"/><path d="M131.2 239.1C131.2 240 129.7 241.6 129 242.4C128.2 243.2 126.4 244.8 125.4 244.8C124.5 244.8 122.4 243.4 121.7 242.6C120.9 241.9 119.7 240.1 119.7 239.1C119.7 238.2 120.8 236.3 121.6 235.6C122.3 234.9 124.4 233.9 125.4 233.9C126.5 233.9 128.4 235 129.2 235.6C130 236.3 131.3 238.2 131.2 239.1Z"/><path d="M131.2 271.8C131.2 273.1 129.8 275.8 128.8 276.7C127.8 277.6 125 278.6 123.5 278.6C122.1 278.6 119 277.8 118 276.9C117.1 276 116.2 273.1 116.3 271.8C116.3 270.5 117.6 268.1 118.6 267.2C119.5 266.4 122.2 265.5 123.5 265.4C124.9 265.4 127.6 266.2 128.7 267C129.7 267.9 131.1 270.5 131.2 271.8Z"/><path d="M134.2 285.2C134.3 286.4 133.3 289.1 132.4 289.9C131.5 290.7 128.6 291.2 127.4 291.1C126.1 291 124 290 123.1 289.2C122.1 288.4 120.2 286.3 120.2 285.2C120.2 284.2 122 281.9 123 281.2C123.9 280.5 126.2 279.8 127.4 279.8C128.5 279.8 130.9 280.4 131.8 281.2C132.7 281.9 134.1 284.1 134.2 285.2Z"/><path d="M127 294.8C127.1 295.8 126.7 298.2 126 298.9C125.3 299.6 122.8 300.1 121.6 300.1C120.4 300.1 118 299.7 117.1 299C116.2 298.3 114.9 295.9 115 294.8C115 293.8 116.7 291.9 117.6 291.2C118.5 290.4 120.6 289.3 121.6 289.3C122.6 289.3 124.7 290.6 125.4 291.3C126.1 292 127 293.8 127 294.8Z"/><path d="M110.9 300.6C110.8 301.9 109.9 304 109 305C108.1 305.9 105.6 307.4 104.3 307.5C103 307.6 100.2 306.3 99.1 305.4C98.1 304.5 96.4 301.9 96.4 300.6C96.4 299.3 98.2 296.7 99.2 295.9C100.3 295 102.9 294.4 104.3 294.3C105.8 294.2 109.2 294.4 110.1 295.2C111 296.1 111.1 299.3 110.9 300.6Z"/><path d="M131 306.4C131 307.3 130.1 309.3 129.3 310C128.6 310.6 126.4 311.4 125.4 311.4C124.4 311.3 122.6 310.3 121.9 309.6C121.2 309 120.4 307.2 120.4 306.4C120.4 305.5 121.2 303.8 121.8 303C122.5 302.3 124.4 300.9 125.4 300.8C126.4 300.8 128.7 302 129.4 302.7C130.1 303.4 131 305.4 131 306.4Z"/><path d="M130.4 321.7C130.5 322.7 130.4 325.1 129.7 325.7C129.1 326.3 126.5 326.5 125.4 326.4C124.4 326.3 122.6 325.6 121.9 325C121.1 324.4 119.7 322.7 119.7 321.7C119.6 320.8 120.6 318.7 121.4 318C122.2 317.3 124.4 316.3 125.4 316.3C126.4 316.4 128.2 317.8 128.9 318.6C129.5 319.3 130.2 320.8 130.4 321.7Z"/><path d="M117.8 327.5C117.8 328.7 115.9 331 114.9 331.9C113.8 332.8 111.3 334.2 110.1 334.2C108.8 334.1 106.7 332.5 105.6 331.6C104.6 330.7 102.4 328.7 102.3 327.5C102.2 326.3 103.7 323.5 104.8 322.6C105.8 321.7 108.7 320.7 110.1 320.7C111.4 320.8 113.9 322.1 114.9 323C115.9 323.9 117.8 326.3 117.8 327.5Z"/><path d="M148.3 268C148.3 268.6 148.1 270.2 147.6 270.7C147.1 271.1 145.4 271.4 144.6 271.4C143.9 271.3 142.7 270.7 142.1 270.3C141.6 269.8 140.5 268.6 140.4 268C140.4 267.3 141.2 265.8 141.7 265.3C142.3 264.8 143.9 264.1 144.6 264.1C145.4 264.2 146.6 265.1 147.1 265.7C147.6 266.2 148.2 267.3 148.3 268Z"/><path d="M277.2 283.3C277.2 283.9 276.2 285.1 275.7 285.5C275.2 286 274 286.6 273.3 286.7C272.6 286.7 271.1 286.2 270.7 285.7C270.3 285.3 270.2 283.9 270.2 283.3C270.3 282.7 270.6 281.6 271 281.2C271.4 280.8 272.7 280.1 273.3 280.1C273.9 280.1 275.2 280.7 275.7 281.1C276.3 281.5 277.2 282.7 277.2 283.3Z"/><path d="M159.6 268C159.6 268.6 159.3 270 158.9 270.5C158.4 270.9 156.8 271.4 156.2 271.4C155.5 271.3 154.3 270.5 153.9 270.1C153.5 269.6 152.9 268.5 152.9 268C152.9 267.4 153.4 266.2 153.8 265.8C154.3 265.4 155.6 264.9 156.2 264.9C156.8 264.9 157.9 265.5 158.4 265.9C158.8 266.3 159.5 267.3 159.6 268Z"/><path d="M117 327.2C116.9 328.5 115.9 330.7 115 331.7C114.1 332.7 111.5 334.3 110.1 334.4C108.7 334.5 105.4 333.4 104.3 332.4C103.3 331.5 102.3 328.5 102.4 327.2C102.5 325.8 104 323.3 105 322.5C106 321.7 108.6 321.1 110.1 321.1C111.5 321 114.9 321.1 115.8 321.9C116.7 322.7 117.1 325.9 117 327.2Z"/><path d="M129.9 361.7C129.9 362.8 128.6 365 127.8 365.6C126.9 366.3 124.7 366.7 123.5 366.7C122.4 366.8 120 366.4 119.2 365.7C118.5 365 117.9 362.8 117.9 361.7C117.9 360.7 118.5 358.6 119.2 357.8C120 357 122.4 355.5 123.5 355.5C124.7 355.5 126.9 357 127.8 357.8C128.6 358.6 129.9 360.7 129.9 361.7Z"/><path d="M201.8 334.8C201.8 335.8 201 337.8 200.3 338.3C199.6 338.9 197.5 339 196.5 339.1C195.5 339.1 193.3 339 192.6 338.4C191.9 337.8 191.1 335.8 191.1 334.8C191.1 333.9 192 332 192.7 331.3C193.4 330.7 195.5 330 196.5 330C197.5 330 199.7 330.6 200.4 331.2C201.1 331.9 201.8 333.9 201.8 334.8Z"/><path d="M215.9 323.3C215.8 324.1 215.3 325.4 214.8 326C214.2 326.6 212.6 327.9 211.9 327.9C211.1 327.9 209.4 326.7 208.9 326.1C208.3 325.5 207.8 324 207.8 323.3C207.8 322.6 208.4 321.2 209 320.7C209.5 320.1 211.1 319.2 211.9 319.1C212.7 319.1 214.4 319.9 215 320.5C215.5 321 215.9 322.6 215.9 323.3Z"/><path d="M243.1 340.6C243 341.3 242.1 342.6 241.5 343.1C240.9 343.7 239.5 344.5 238.7 344.5C238 344.5 236.6 343.6 236.1 343.1C235.5 342.6 234.9 341.3 234.9 340.6C234.8 339.9 235.1 338.2 235.7 337.8C236.2 337.3 237.9 337.1 238.7 337.1C239.6 337.1 241.3 337.3 241.8 337.7C242.4 338.2 243.1 339.9 243.1 340.6Z"/><path d="M274.3 344.4C274.2 345.2 272.9 346.5 272.3 347C271.6 347.6 270.3 348.4 269.5 348.4C268.7 348.4 266.9 347.9 266.3 347.3C265.8 346.8 265.2 345.3 265.2 344.4C265.1 343.6 265.4 341.8 265.9 341.2C266.5 340.6 268.5 340.1 269.5 340.1C270.4 340.1 272.2 340.7 272.9 341.3C273.5 341.9 274.3 343.7 274.3 344.4Z"/><path d="M210.7 365.6C210.8 366.4 210.2 368.3 209.6 368.8C208.9 369.3 207 369.5 206.1 369.5C205.2 369.5 203.4 369.1 202.8 368.6C202.2 368.1 201.6 366.4 201.6 365.6C201.6 364.8 202.3 363.1 202.9 362.6C203.5 362.1 205.2 361.8 206.1 361.8C207 361.8 208.7 362.1 209.3 362.6C209.9 363.1 210.7 364.7 210.7 365.6Z"/><path d="M212 390.5C212 391.3 211.8 393 211.3 393.6C210.8 394.1 208.9 394.5 208 394.5C207.1 394.5 205.2 394.2 204.6 393.6C204.1 393.1 203.5 391.3 203.6 390.5C203.6 389.8 204.6 388.6 205.2 388C205.8 387.4 207.2 386.1 208 386C208.8 386 210.7 387 211.2 387.6C211.7 388.2 212 389.7 212 390.5Z"/><path d="M249 398.2C249.1 399.1 248.9 401.1 248.3 401.7C247.7 402.4 245.5 403.2 244.5 403.2C243.5 403.2 241.5 402.3 240.9 401.6C240.2 400.9 239.7 399.1 239.8 398.2C239.8 397.4 240.5 395.8 241.1 395.1C241.7 394.4 243.6 393.2 244.5 393.1C245.4 393.1 247.5 394.2 248.1 394.9C248.7 395.6 249 397.3 249 398.2Z"/><path d="M241.9 421.3C241.8 422.1 240.8 423.8 240.2 424.3C239.5 424.9 237.7 425.6 236.8 425.6C235.9 425.6 234.2 424.8 233.6 424.3C232.9 423.7 231.9 422.1 231.8 421.3C231.8 420.4 232.4 418.3 233 417.8C233.7 417.2 235.8 417.2 236.8 417.2C237.8 417.2 239.9 417.3 240.6 417.8C241.2 418.4 241.9 420.4 241.9 421.3Z"/><path d="M256.6 432.8C256.6 433.6 256 435.2 255.4 435.8C254.8 436.3 253 437.1 252.2 437.1C251.3 437.1 249.7 436.3 249.1 435.7C248.5 435.1 247.6 433.5 247.7 432.8C247.7 432 248.5 430.5 249.1 430C249.7 429.4 251.4 428.5 252.2 428.5C253 428.5 254.7 429.3 255.3 429.9C255.9 430.5 256.5 432 256.6 432.8Z"/><path d="M118.1 452C118.1 453 116.9 455.1 116.1 455.8C115.3 456.5 113.1 457.4 112 457.4C110.9 457.4 108.9 456.4 108 455.6C107.2 454.9 105.5 453 105.5 452C105.5 451 107.2 449 108 448.3C108.9 447.6 110.9 446.8 112 446.8C113.1 446.7 115.5 447.3 116.4 448C117.2 448.6 118.2 450.9 118.1 452Z"/><path d="M119.1 463.5C119.2 464.4 118.5 466.5 117.8 467.1C117.1 467.7 114.9 468.1 113.9 468.1C112.9 468.1 110.8 467.6 110.1 467C109.4 466.4 109 464.4 109 463.5C109 462.6 109.6 460.8 110.2 460.1C110.9 459.4 112.9 458.2 113.9 458.2C114.9 458.2 116.9 459.4 117.6 460.1C118.3 460.8 119.1 462.6 119.1 463.5Z"/><path d="M121.2 475C121.2 476 120.2 477.8 119.5 478.4C118.8 479.1 116.8 480.1 115.8 480.1C114.8 480.1 112.7 479.2 112 478.5C111.4 477.9 111 476 110.9 475C110.8 474 110.9 471.8 111.6 471.1C112.2 470.4 114.8 470 115.8 470C116.9 470.1 118.9 470.9 119.6 471.6C120.3 472.2 121.2 474.1 121.2 475Z"/><path d="M250.4 453.9C250.3 454.8 248.8 456.5 248 457.1C247.2 457.8 245.5 458.7 244.5 458.8C243.5 458.8 241.6 458 240.8 457.3C240 456.7 238.7 454.9 238.6 453.9C238.5 452.9 239.5 450.7 240.3 450C241 449.2 243.4 448.2 244.5 448.2C245.6 448.3 247.7 449.5 248.4 450.3C249.2 451 250.4 453 250.4 453.9Z"/><path d="M262 459.7C262 460.7 260.7 462.5 259.9 463.3C259.1 464 257.1 465.6 256 465.6C255 465.6 253 464 252.2 463.2C251.4 462.4 249.9 460.6 249.9 459.7C249.8 458.7 251.1 456.7 251.9 455.9C252.8 455.1 254.9 453.8 256 453.7C257.2 453.7 259.7 454.8 260.5 455.6C261.3 456.4 262.1 458.6 262 459.7Z"/><path d="M272.6 463.5C272.6 464.5 272.3 466.7 271.7 467.3C271 467.9 268.7 468.3 267.6 468.3C266.4 468.3 264.1 468.1 263.3 467.4C262.5 466.8 261.5 464.5 261.5 463.5C261.6 462.5 262.9 460.6 263.7 459.9C264.5 459.2 266.5 458.3 267.6 458.3C268.6 458.3 270.8 459.2 271.5 459.9C272.2 460.6 272.6 462.5 272.6 463.5Z"/><path d="M256.4 475C256.3 475.8 255.7 477.1 255.1 477.7C254.5 478.3 253 479.4 252.2 479.5C251.4 479.5 249.8 478.4 249.2 477.8C248.6 477.2 247.7 475.8 247.7 475C247.7 474.3 248.6 472.8 249.2 472.3C249.8 471.8 251.3 471.4 252.2 471.4C253.1 471.3 255.2 471.3 255.7 471.8C256.3 472.3 256.5 474.2 256.4 475Z"/><path d="M145.5 480.8C145.5 481.7 145.1 483.5 144.4 484.2C143.8 484.8 141.7 485.9 140.8 485.8C139.8 485.8 138.1 484.7 137.3 484C136.6 483.3 135.3 481.7 135.2 480.8C135.2 479.9 136.4 478 137.1 477.4C137.8 476.8 139.9 476 140.8 476C141.7 476.1 143.5 477.1 144.1 477.7C144.8 478.3 145.5 479.9 145.5 480.8Z"/><path d="M145.1 490.4C145 491.2 144.7 492.9 144.1 493.5C143.6 494.1 141.7 494.7 140.8 494.7C139.9 494.7 138.3 493.9 137.6 493.3C137 492.8 136 491.2 136 490.4C136 489.6 136.9 488 137.5 487.4C138.2 486.8 139.9 486.1 140.8 486.1C141.7 486.1 143.7 486.6 144.3 487.2C144.9 487.8 145.1 489.6 145.1 490.4Z"/><path d="M142.8 501.9C142.7 502.9 141.3 504.5 140.5 505.2C139.7 505.9 138 507.2 137 507.3C135.9 507.4 133.5 506.5 132.7 505.8C132 505.1 131.4 502.9 131.5 501.9C131.6 501 132.7 499.3 133.5 498.7C134.2 498.1 136 497.5 137 497.4C138 497.4 140.2 497.6 140.9 498.2C141.7 498.8 142.8 501 142.8 501.9Z"/><path d="M137.7 511.5C137.6 512.4 137.2 514.1 136.6 514.7C136 515.4 134 516.4 133.1 516.4C132.2 516.4 130.5 515.3 129.7 514.7C129 514 127.6 512.4 127.6 511.5C127.6 510.7 128.9 508.9 129.7 508.3C130.4 507.7 132.1 507 133.1 507C134.1 506.9 136.4 507.3 137 507.9C137.6 508.5 137.8 510.6 137.7 511.5Z"/><path d="M149.8 519.2C149.7 520.1 148.6 521.6 147.9 522.2C147.2 522.8 145.5 523.6 144.6 523.6C143.7 523.6 141.7 523.1 141.1 522.5C140.5 521.9 139.9 520.1 139.9 519.2C139.9 518.4 140.7 516.8 141.3 516.1C141.9 515.5 143.7 514.4 144.6 514.3C145.6 514.3 147.6 515.2 148.3 515.9C149 516.5 149.8 518.4 149.8 519.2Z"/><path d="M134.8 526.9C134.8 527.8 133.6 529.6 132.9 530.2C132.1 530.8 130.2 531.6 129.3 531.6C128.3 531.6 126.4 530.9 125.6 530.3C124.8 529.6 123.5 527.8 123.4 526.9C123.4 526 124.5 523.9 125.3 523.2C126.1 522.6 128.2 521.9 129.3 521.9C130.3 521.9 132.6 522.5 133.3 523.2C134.1 523.8 134.9 525.9 134.8 526.9Z"/><path d="M150.9 538.4C150.7 540.3 147.9 544 146.3 545.2C144.7 546.4 140.8 547.5 138.9 547.4C137 547.4 133.2 546.1 131.8 544.9C130.4 543.7 128.5 540.2 128.5 538.4C128.4 536.6 129.9 532.7 131.3 531.4C132.6 530.1 136.8 528.8 138.9 528.7C141 528.6 145.6 529.4 147.2 530.7C148.8 532 151 536.5 150.9 538.4Z"/><path d="M194.7 536.5C194.6 537.5 193.7 539.5 192.9 540.3C192.1 541.1 190 542.5 188.8 542.6C187.6 542.7 184.7 541.9 183.8 541.1C182.9 540.3 182.2 537.7 182.2 536.5C182.2 535.3 182.9 532.6 183.8 531.9C184.7 531.1 187.6 530.8 188.8 530.9C190.1 531 192.3 531.8 193.1 532.5C193.9 533.3 194.7 535.5 194.7 536.5Z"/><path d="M165.2 549.9C165.2 550.8 164.4 552.7 163.8 553.4C163.1 554.1 161 555.4 160 555.4C159 555.4 157.2 553.9 156.5 553.2C155.8 552.4 154.7 550.9 154.6 549.9C154.6 549 155.1 546.7 155.8 546.1C156.5 545.5 159 545.3 160 545.4C161 545.5 162.8 546.1 163.5 546.7C164.1 547.4 165.1 549.1 165.2 549.9Z"/><path d="M157.2 555.7C157.3 556.5 156.5 558.4 155.8 559C155.2 559.5 153.2 559.9 152.3 559.9C151.4 559.8 149.7 559.3 149 558.8C148.3 558.2 147.3 556.5 147.4 555.7C147.4 554.9 148.7 553.6 149.4 553C150.1 552.4 151.6 551.4 152.3 551.4C153.1 551.5 154.5 552.5 155.2 553.1C155.8 553.6 157.1 554.9 157.2 555.7Z"/><path d="M216.8 534.6C216.8 535.3 215.6 536.9 215 537.5C214.3 538 212.7 538.8 211.9 538.8C211 538.9 209 538.4 208.3 537.8C207.7 537.3 207.2 535.4 207.2 534.6C207.2 533.7 207.9 532 208.5 531.5C209.2 531 211 530.5 211.9 530.6C212.7 530.6 214.2 531.2 214.9 531.8C215.6 532.3 216.8 533.8 216.8 534.6Z"/><path d="M262.8 488.5C262.9 489.5 261.3 491.8 260.4 492.5C259.5 493.3 257.3 494.1 256 494.2C254.8 494.2 252.2 493.7 251.2 492.9C250.3 492.1 249 489.6 249 488.5C249 487.3 250.4 484.9 251.3 484.2C252.3 483.4 254.9 482.6 256 482.7C257.2 482.8 259.2 483.9 260.2 484.7C261.1 485.4 262.8 487.4 262.8 488.5Z"/><path d="M270.9 486.6C270.9 487.5 270.3 489.5 269.6 490.2C268.9 491 266.7 492.2 265.6 492.2C264.6 492.2 262.4 490.9 261.7 490.2C261 489.4 260.1 487.5 260.2 486.6C260.2 485.6 261.3 483.9 262.1 483.3C262.8 482.6 264.7 481.8 265.6 481.8C266.6 481.7 268.6 482.6 269.3 483.2C270 483.8 270.8 485.6 270.9 486.6Z"/><path d="M251.7 498.1C251.7 499 250.8 500.8 250.1 501.5C249.4 502.2 247.4 503.1 246.4 503.1C245.4 503.2 243.3 502.4 242.5 501.7C241.8 501 240.7 499 240.8 498.1C240.9 497.2 242.6 495.8 243.3 495.2C244.1 494.6 245.5 493.6 246.4 493.5C247.3 493.5 249.4 494.1 250.1 494.7C250.8 495.3 251.7 497.2 251.7 498.1Z"/><path d="M264.5 515.4C264.6 516.2 263.9 518 263.3 518.6C262.7 519.1 260.8 519.7 259.9 519.7C259 519.6 257.2 519 256.6 518.4C256 517.8 255.7 516.2 255.6 515.4C255.6 514.5 255.8 512.6 256.4 512.1C256.9 511.6 259 511.6 259.9 511.6C260.8 511.7 262.4 512 263 512.5C263.6 513 264.5 514.6 264.5 515.4Z"/><path d="M277.7 528.8C277.7 529.6 277.2 531.3 276.6 531.8C276 532.3 274.2 532.6 273.3 532.6C272.4 532.6 270.8 532.3 270.1 531.8C269.4 531.3 268.4 529.6 268.4 528.8C268.3 528 269.3 526.2 269.9 525.7C270.6 525.2 272.4 525 273.3 525C274.2 525 276.1 525.2 276.7 525.7C277.3 526.2 277.7 528 277.7 528.8Z"/><path d="M268.4 542.3C268.5 543 267.7 544.8 267.1 545.4C266.5 546 264.6 546.8 263.7 546.8C262.8 546.8 261.1 545.9 260.4 545.3C259.7 544.7 258.8 543.1 258.8 542.3C258.8 541.5 259.8 539.9 260.5 539.3C261.1 538.7 262.9 537.7 263.7 537.8C264.5 537.8 265.9 539 266.6 539.6C267.2 540.2 268.3 541.5 268.4 542.3Z"/><path d="M264.3 555.7C264.3 556.4 263.4 557.8 262.8 558.4C262.2 558.9 260.7 559.8 259.9 559.9C259 560 256.9 559.5 256.3 559C255.8 558.4 255.6 556.5 255.7 555.7C255.8 554.9 256.3 553.5 256.8 552.9C257.4 552.3 259.1 551.5 259.9 551.5C260.6 551.5 262.1 552.5 262.7 553.1C263.3 553.7 264.3 555 264.3 555.7Z"/><path d="M239.1 576.8C239.1 577.5 238.3 578.8 237.8 579.5C237.2 580.1 235.7 581.4 234.9 581.4C234.1 581.4 232.7 580.1 232 579.5C231.4 578.9 230 577.5 230 576.8C230 576.1 231.4 574.7 232.1 574.2C232.7 573.6 234.1 572.7 234.9 572.7C235.7 572.7 237.2 573.6 237.8 574.1C238.4 574.7 239.1 576.1 239.1 576.8Z"/><path d="M268.1 567.2C268 568.1 267.6 569.7 267 570.2C266.4 570.8 264.6 571.5 263.7 571.5C262.8 571.5 261.1 570.8 260.4 570.2C259.8 569.7 258.9 568 258.9 567.2C258.9 566.4 259.7 564.8 260.4 564.1C261 563.5 262.8 562.6 263.7 562.5C264.7 562.5 266.9 563.1 267.5 563.7C268.1 564.3 268.2 566.4 268.1 567.2Z"/><path d="M260.1 596C260 596.9 258.4 598.6 257.6 599.3C256.8 600 255 601.4 254.1 601.4C253.2 601.4 251.3 600 250.6 599.3C249.8 598.6 248.5 597 248.4 596C248.3 595.1 249.1 592.8 249.8 592.1C250.6 591.4 253 590.8 254.1 590.9C255.2 590.9 257.1 591.8 257.9 592.5C258.7 593.2 260.1 595.1 260.1 596Z"/><path d="M270.7 599.9C270.8 600.8 270.4 602.9 269.7 603.6C269 604.3 266.7 605 265.6 604.9C264.6 604.9 262.7 603.9 262 603.2C261.4 602.5 260.6 600.7 260.6 599.9C260.6 599 261.5 597.3 262.1 596.7C262.8 596 264.7 594.9 265.6 594.9C266.6 594.9 268.5 595.9 269.2 596.6C269.9 597.2 270.7 598.9 270.7 599.9Z"/><path d="M171.9 599.9C171.8 600.8 170.4 602.6 169.5 603.4C168.7 604.2 166.8 605.8 165.8 605.9C164.7 605.9 162.5 604.3 161.8 603.5C161.1 602.7 160.4 600.8 160.4 599.9C160.4 598.9 161.2 597.1 161.9 596.3C162.6 595.5 164.7 594 165.8 594C166.8 594 168.9 595.4 169.7 596.2C170.6 597 171.9 598.9 171.9 599.9Z"/><path d="M157.4 584.5C157.5 585.4 156.9 587.4 156.2 588.1C155.5 588.9 153.4 590.1 152.3 590.1C151.2 590.1 148.7 589.2 148 588.5C147.3 587.7 146.9 585.6 146.9 584.5C146.9 583.4 147.3 581.1 148 580.5C148.7 579.9 151.3 579.9 152.3 580C153.4 580 155.2 580.7 155.8 581.3C156.5 581.9 157.4 583.6 157.4 584.5Z"/><path d="M170.2 621C170.2 622.1 169.1 624.2 168.2 625C167.4 625.9 165 627.7 163.8 627.6C162.7 627.6 160.6 625.7 159.7 624.8C158.7 624 156.9 622.1 156.8 621C156.7 619.9 157.9 617.3 158.9 616.4C159.8 615.5 162.6 614.2 163.8 614.3C165.1 614.4 167.5 615.9 168.4 616.8C169.2 617.7 170.2 619.9 170.2 621Z"/><path d="M181.6 615.2C181.6 616.2 180.2 618.1 179.4 618.9C178.5 619.8 176.4 621.4 175.4 621.4C174.3 621.4 172.4 619.5 171.6 618.7C170.8 617.9 169.6 616.3 169.5 615.2C169.4 614.2 169.9 611.6 170.7 610.9C171.5 610.3 174.2 610 175.4 610C176.5 610.1 178.6 610.8 179.4 611.5C180.3 612.2 181.7 614.2 181.6 615.2Z"/><path d="M191.2 621C191.2 622.1 190.4 624.5 189.6 625.3C188.8 626 186.1 626.8 185 626.8C183.8 626.7 181.6 625.6 180.8 624.8C180.1 624.1 179.3 622 179.3 621C179.2 619.9 179.8 617.7 180.6 616.9C181.3 616.2 183.8 615.3 185 615.3C186.1 615.4 188.4 616.4 189.2 617.1C190 617.9 191.1 619.9 191.2 621Z"/><path d="M166.1 632.5C166.1 633.7 165.6 636.2 164.8 636.9C164 637.7 161.3 638.3 160 638.3C158.7 638.4 155.7 637.9 155 637.2C154.2 636.4 154.2 633.7 154.2 632.5C154.3 631.3 154.6 629 155.4 628.2C156.1 627.5 158.8 626.7 160 626.7C161.2 626.7 163.7 627.6 164.5 628.4C165.3 629.1 166 631.4 166.1 632.5Z"/><path d="M245.6 617.2C245.5 618.4 244.2 620.4 243.3 621.3C242.4 622.3 240 624 238.7 624.1C237.5 624.1 234.7 622.7 233.7 621.8C232.7 620.9 231.4 618.4 231.4 617.2C231.3 615.9 232.4 613.1 233.4 612.2C234.3 611.3 237.3 610.4 238.7 610.4C240.2 610.5 243 611.5 243.9 612.4C244.8 613.3 245.7 616 245.6 617.2Z"/><path d="M257.9 621C257.9 622.1 257.3 624.2 256.6 625C255.8 625.8 253.3 626.9 252.2 626.9C251.1 626.9 249 625.5 248.2 624.7C247.4 623.9 246.2 622 246.2 621C246.2 620 247.2 617.9 248 617.1C248.8 616.4 251 615.2 252.2 615.2C253.3 615.2 255.8 616.2 256.6 616.9C257.4 617.7 257.9 619.9 257.9 621Z"/><path d="M244.1 632.5C244.1 633.7 244.2 636.1 243.4 636.9C242.7 637.6 239.9 637.9 238.7 637.8C237.6 637.7 235.4 637 234.6 636.3C233.9 635.6 233 633.5 233 632.5C233 631.5 233.9 629.5 234.7 628.8C235.4 628 237.6 627.2 238.7 627.1C239.9 627 242.7 627.5 243.4 628.2C244.2 628.9 244.1 631.4 244.1 632.5Z"/><path d="M234.1 644C234.2 645.1 232.9 647.7 232 648.5C231.1 649.2 228.5 650 227.2 650C226 650 223.3 649.2 222.5 648.4C221.6 647.6 220.9 645.3 220.8 644C220.8 642.8 221.2 640.2 222.1 639.3C222.9 638.4 226 637.3 227.2 637.4C228.4 637.5 230.4 639.4 231.3 640.3C232.2 641.2 234 643 234.1 644Z"/><path d="M208.5 644C208.4 645.1 207.3 647.2 206.4 647.9C205.6 648.7 203.4 649.6 202.3 649.7C201.1 649.7 198.5 649.1 197.6 648.4C196.6 647.6 195.1 645.1 195.1 644C195.2 643 197.2 641 198.1 640.2C199.1 639.4 201.1 637.8 202.3 637.8C203.4 637.7 206.2 638.8 207 639.7C207.8 640.5 208.5 642.9 208.5 644Z"/><path d="M224 651.7C224 652.7 222.7 654.8 221.9 655.7C221 656.5 218.7 657.9 217.6 657.9C216.5 657.9 214.3 656.3 213.6 655.5C212.8 654.6 211.8 652.8 211.7 651.7C211.7 650.7 212.3 648.3 213.1 647.6C213.9 646.9 216.5 646.3 217.6 646.4C218.7 646.5 220.7 647.4 221.6 648.1C222.4 648.8 223.9 650.7 224 651.7Z"/><path d="M246.7 647.9C246.8 648.9 245.9 651.2 245.1 652C244.3 652.8 241.8 654.1 240.7 654.1C239.5 654 237.3 652.5 236.6 651.6C235.9 650.8 235.3 648.9 235.3 647.9C235.2 646.8 235.5 644.5 236.2 643.8C236.9 643.1 239.6 642.6 240.7 642.7C241.8 642.7 243.7 643.6 244.5 644.3C245.3 645 246.6 646.9 246.7 647.9Z"/><path d="M196.6 636.4C196.6 637.2 195 638.8 194.2 639.6C193.4 640.3 191.7 641.8 190.7 641.9C189.7 641.9 187.4 640.8 186.7 640.1C186 639.4 185.7 637.3 185.7 636.4C185.7 635.4 186.1 633.4 186.8 632.7C187.5 632 189.7 631 190.7 631.1C191.7 631.1 193.4 632.5 194.2 633.2C195 633.9 196.6 635.5 196.6 636.4Z"/><path d="M186.7 647.9C186.6 649 186.1 651.1 185.4 651.8C184.6 652.5 182.3 652.9 181.1 652.9C179.9 653 177.2 652.8 176.5 652.2C175.8 651.5 175.6 648.9 175.7 647.9C175.8 646.8 176.6 645 177.3 644.3C178 643.6 180 642.8 181.1 642.7C182.2 642.6 184.9 643.1 185.6 643.8C186.3 644.5 186.7 646.8 186.7 647.9Z"/><path d="M273 636.4C272.9 637.3 271.7 639 271 639.5C270.3 640.1 268.5 640.8 267.6 640.8C266.6 640.7 264.8 640 264.2 639.5C263.5 638.9 262.8 637.2 262.7 636.4C262.7 635.5 263.1 633.5 263.8 632.9C264.4 632.3 266.5 631.9 267.6 631.9C268.6 631.9 270.7 632.2 271.4 632.8C272.2 633.4 273 635.5 273 636.4Z"/><path d="M178.4 636.4C178.3 637.2 177.4 638.8 176.8 639.4C176.1 640.1 174.3 641.4 173.4 641.4C172.5 641.4 170.6 640.2 170 639.5C169.4 638.9 168.9 637.2 168.9 636.4C168.9 635.5 169.5 633.9 170.1 633.3C170.7 632.7 172.5 631.7 173.4 631.7C174.4 631.6 176.6 632.2 177.3 632.8C177.9 633.5 178.5 635.5 178.4 636.4Z"/><path d="M277.2 576.8C277.2 577.5 276.4 578.8 275.9 579.2C275.4 579.7 274.1 580.2 273.3 580.2C272.6 580.3 270.8 580.1 270.3 579.6C269.7 579.2 269 577.6 269 576.8C269 576.1 269.6 574.4 270.2 574C270.8 573.5 272.5 573.4 273.3 573.4C274.1 573.5 275.5 573.9 276 574.4C276.5 574.8 277.2 576.2 277.2 576.8Z"/></g>
<g id="speck2"><path d="M183 473.1C187.1 469.8 196.1 469 202.3 469.3C208.4 469.5 225.3 470.2 229.1 475C233 479.9 231.6 498.1 231.1 505.8C230.5 513.4 229.1 529.6 225.3 532.7C221.5 535.7 208.1 531.4 202.3 528.8C196.4 526.3 185.2 518.1 181.1 513.4C177 508.8 171.3 499.6 171.5 494.2C171.8 488.9 179 476.4 183 473.1Z"/><path d="M194.6 421.3C197.1 417.2 207.6 414.4 209.9 417.4C212.2 420.5 212.9 438.7 211.9 444.3C210.8 449.9 205.1 459.2 202.3 459.7C199.4 460.2 191.8 453.3 190.7 448.2C189.7 443 192 425.4 194.6 421.3Z"/></g>
<g id="ocloud2"></g>
<clipPath id="oceanclipC"><path d="M-5 -5 2.8 -1.3 8.2 29.4 15.9 54.4 20.7 67.8 25.5 90.9 30.3 113.9 31.6 125.4 39.3 126.6 41.2 137 46.6 160 53.3 183 57.2 202.3 61.6 231.1 65.8 259.9 69.7 298.3 72.9 330.9 75.4 349.8 78.3 378.6 82.1 407.4 86.9 436.2 94.6 474.6 100.8 493.8 108.1 513 115.8 532.3 123.4 551.5 131.1 570.7 138.4 589.9 146.9 609.1 156.1 628.3 163.8 645.6 170.5 660 172.5 665 -5 665Z"/></clipPath><clipPath id="oceanclipCR"><path d="M-5 -5 2.8 -1.3 8.2 29.4 15.9 54.4 20.7 67.8 25.5 90.9 30.3 113.9 31.6 125.4 39.3 126.6 41.2 137 46.6 160 53.3 183 57.2 202.3 61.6 231.1 65.8 259.9 69.7 298.3 72.9 330.9 75.4 349.8 78.3 378.6 82.1 407.4 86.9 436.2 94.6 474.6 100.8 493.8 108.1 513 115.8 532.3 123.4 551.5 131.1 570.7 138.4 589.9 146.9 609.1 156.1 628.3 163.8 645.6 170.5 660 172.5 665 -5 665Z" transform="scale(1.025 1)"/></clipPath><g id="speck2_2"><path d="M169.6 532.7C177.5 525 222.6 525 231.1 532.7C239.5 540.3 233.2 578.5 233 590.3C232.7 602 235.8 616.9 229.1 621C222.5 625.1 190.7 625.1 183 621C175.4 616.9 173.3 602 171.5 590.3C169.7 578.5 161.7 540.3 169.6 532.7Z"/><path d="M106.2 444.3C114.9 439.2 165.1 446.6 175.4 455.8C185.6 465.1 184.6 498.1 183 513.4C181.5 528.8 171.5 564.7 163.8 571.1C156.2 577.5 132.6 571.7 125.4 561.5C118.3 551.2 112.6 509.9 110.1 494.2C107.5 478.6 97.5 449.4 106.2 444.3Z"/><path d="M163.8 321.4C177.7 311.2 263.7 303.5 279.1 321.4C294.4 339.3 286.8 436.4 279.1 455.8C271.4 475.3 235.3 475 221.5 467.4C207.6 459.7 183 417.7 175.4 398.2C167.7 378.8 150 331.6 163.8 321.4Z"/><path d="M231.1 494.2C237 478.4 272.7 475 279.1 490.4C285.5 505.8 285 593.6 279.1 609.5C273.2 625.3 241.3 624.8 234.9 609.5C228.5 594.1 225.2 510.1 231.1 494.2Z"/><path d="M71.7 10.6C87 -13.5 182.3 -12.4 202.3 2.9C222.2 18.3 220.2 91.5 221.5 125.8C222.7 160.1 217 232.6 211.9 260.3C206.7 287.9 198.2 323.5 183 333.2C167.9 343 111.4 353.2 98.5 333.2C85.7 313.3 90.6 226.5 87 183.4C83.4 140.4 56.3 34.7 71.7 10.6Z"/></g>
<g id="flood3"><path d="M136 329.8C137.3 326.8 142.8 324.3 144.5 326.9C146.3 329.6 149.4 345.5 149.1 349.6C148.8 353.8 144.1 358.1 142.3 358.1C140.5 358.1 136.3 353.4 135.5 349.6C134.6 345.8 134.8 332.8 136 329.8Z"/><path d="M134.3 420.4C135.6 418.5 140.9 416.3 144.5 414.8C148.2 413.3 159.6 408.3 161.5 409.1C163.5 409.9 161.5 417.9 159.3 420.4C157 422.9 147.7 426.7 144.5 427.8C141.4 428.9 136.8 429.9 135.5 428.9C134.1 427.9 133.1 422.3 134.3 420.4Z"/><path d="M138.9 434.6C141.7 433.5 158.5 433.5 161.5 434.6C164.6 435.7 164.4 442 161.5 443.1C158.7 444.2 143 444.2 140 443.1C137 442 136 435.7 138.9 434.6Z"/><path d="M192.1 423.3C193.3 422.1 200 422.1 201.2 423.3C202.4 424.4 202.3 430.6 201.2 431.8C200.1 432.9 193.9 432.9 192.7 431.8C191.5 430.6 191 424.4 192.1 423.3Z"/><path d="M124.7 553.6C125.6 552.7 131.1 552.7 132.1 553.6C133.1 554.5 133 559.5 132.1 560.4C131.2 561.3 126.3 561.3 125.3 560.4C124.3 559.5 123.8 554.5 124.7 553.6Z"/></g>
<g id="cloud3"><path d="M-5.6 138.8C-3 130.2 11.2 135.9 14.2 137.1C17.2 138.4 18 145.8 17 148.5C16 151.1 6.1 154.3 6.8 157C7.6 159.6 18.3 165.1 22.7 168.3C27.1 171.5 37 176.4 39.7 180.8C42.4 185.1 49.1 198.3 43.1 201.2C37 204 0.9 210.6 -5.6 202.3C-12.1 194 -8.3 147.5 -5.6 138.8Z"/><path d="M104.3 143.4C108.4 141.9 137.3 142.3 141.7 143.4C146.1 144.4 139.4 149.5 137.1 151.3C134.9 153.1 128.2 156.6 124.7 157C121.1 157.3 113.2 156 110.5 154.1C107.8 152.3 100.1 144.8 104.3 143.4Z"/><path d="M68 182.5C68.8 181.3 76 180.8 79.4 181.3C82.8 181.9 91.8 185 93.5 186.4C95.3 187.9 95 191.6 92.4 192.1C89.7 192.6 76.9 191.1 73.7 189.8C70.4 188.5 67.3 183.6 68 182.5Z"/><path d="M19.9 292.9C21.4 290.2 28.2 288 31.2 289.5C34.2 291.1 39.9 301.2 42.5 304.3C45.2 307.4 50.5 309.9 51 312.8C51.6 315.6 50.3 324.1 46.5 325.8C42.7 327.5 26.2 327.9 22.7 325.8C19.1 323.7 20.2 314.3 19.9 309.9C19.5 305.6 18.4 295.7 19.9 292.9Z"/><path d="M139.3 155.3C139.2 156 138.1 157.3 137.5 157.9C136.9 158.5 135.6 159.4 134.9 159.5C134.1 159.5 132.5 158.7 132 158.2C131.4 157.6 130.7 156.1 130.7 155.3C130.7 154.5 131.4 152.8 131.9 152.3C132.5 151.8 134.1 151.7 134.9 151.7C135.6 151.8 137.1 152 137.6 152.5C138.2 153 139.3 154.6 139.3 155.3Z"/><path d="M89.5 205.1C89.4 206 88.7 207.6 88.1 208.2C87.5 208.8 85.8 209.7 85 209.8C84.2 209.8 82.5 208.9 81.9 208.2C81.3 207.6 80.2 205.9 80.2 205.1C80.2 204.3 81.4 202.7 82 202.1C82.6 201.5 84.1 200.4 85 200.4C85.9 200.3 88 200.9 88.6 201.6C89.2 202.2 89.5 204.2 89.5 205.1Z"/><path d="M99.6 307.7C99.7 308.4 98.7 310.1 98.1 310.6C97.5 311.1 95.9 311.6 95.2 311.6C94.5 311.5 93.3 310.7 92.7 310.2C92.1 309.7 90.9 308.4 90.8 307.7C90.8 307 91.7 305.3 92.3 304.8C92.9 304.2 94.5 303.6 95.2 303.7C96 303.7 97.2 304.5 97.8 305.1C98.4 305.6 99.6 306.9 99.6 307.7Z"/><path d="M63.7 342.8C63.7 343.4 63.6 344.9 63.1 345.3C62.7 345.7 61.3 346.1 60.7 346C60 346 58.9 345.5 58.4 345C58 344.6 57.5 343.4 57.5 342.8C57.5 342.2 57.9 340.9 58.3 340.5C58.7 340.1 60 339.7 60.7 339.7C61.3 339.8 62.5 340.1 62.9 340.5C63.3 341 63.6 342.2 63.7 342.8Z"/><path d="M272.8 100.3C272.9 101.3 272.1 103.6 271.4 104.3C270.7 104.9 268.4 105.2 267.5 105.1C266.5 105.1 264.7 104.5 263.9 103.8C263.2 103.2 261.9 101.3 261.9 100.3C261.8 99.3 262.7 97 263.4 96.3C264.2 95.5 266.5 94.7 267.5 94.8C268.4 94.9 270 96.4 270.7 97.1C271.4 97.8 272.7 99.4 272.8 100.3Z"/><path d="M255.8 440.3C255.8 441.1 254.6 443 253.9 443.7C253.2 444.4 251.4 445.4 250.5 445.4C249.5 445.4 247.4 444.7 246.7 444C246.1 443.3 245.7 441.2 245.8 440.3C245.9 439.3 246.5 437.7 247.2 437C247.8 436.2 249.6 434.6 250.5 434.6C251.3 434.6 253 436.3 253.7 437.1C254.4 437.8 255.7 439.4 255.8 440.3Z"/></g>
<g id="speck3"><path d="M189.9 576.2C192.9 573.6 207.1 573 212.5 573.4C218 573.8 228.8 575.7 230.7 579.1C232.6 582.5 228.7 594.7 226.7 598.9C224.7 603.1 218.8 609.5 215.4 610.2C212 611 204.6 606.8 201.2 604.6C197.8 602.3 191.4 597 189.9 593.2C188.4 589.5 186.8 578.9 189.9 576.2Z"/></g>
<g id="ocloud3"></g>
<clipPath id="oceanclipD"><path d="M-5 -5 2.8 -1.3 8.2 29.4 15.9 54.4 20.7 67.8 25.5 90.9 30.3 113.9 31.6 125.4 39.3 126.6 41.2 137 46.6 160 53.3 183 57.2 202.3 61.6 231.1 65.8 259.9 69.7 298.3 72.9 330.9 75.4 349.8 78.3 378.6 82.1 407.4 86.9 436.2 94.6 474.6 100.8 493.8 108.1 513 115.8 532.3 123.4 551.5 131.1 570.7 138.4 589.9 146.9 609.1 156.1 628.3 163.8 645.6 170.5 660 172.5 665 -5 665Z"/></clipPath><clipPath id="oceanclipDR"><path d="M-5 -5 2.8 -1.3 8.2 29.4 15.9 54.4 20.7 67.8 25.5 90.9 30.3 113.9 31.6 125.4 39.3 126.6 41.2 137 46.6 160 53.3 183 57.2 202.3 61.6 231.1 65.8 259.9 69.7 298.3 72.9 330.9 75.4 349.8 78.3 378.6 82.1 407.4 86.9 436.2 94.6 474.6 100.8 493.8 108.1 513 115.8 532.3 123.4 551.5 131.1 570.7 138.4 589.9 146.9 609.1 156.1 628.3 163.8 645.6 170.5 660 172.5 665 -5 665Z" transform="scale(1.025 1)"/></clipPath>
</defs>
<rect x="234.2" y="17.3" width="283.5" height="58.4" fill="#d9d9d9"/>
<text x="337.2" y="60.7" font-family="'Liberation Sans','DejaVu Sans',sans-serif" font-size="49.0" textLength="84.5" lengthAdjust="spacingAndGlyphs" fill="#1a1a1a" stroke="#1a1a1a" stroke-width="0.6">RGB</text>
<rect x="533.1" y="17.3" width="278.5" height="58.4" fill="#d9d9d9"/>
<text x="648.3" y="60.7" font-family="'Liberation Sans','DejaVu Sans',sans-serif" font-size="49.0" textLength="51.9" lengthAdjust="spacingAndGlyphs" fill="#1a1a1a" stroke="#1a1a1a" stroke-width="0.6">WI</text>
<rect x="973.8" y="16.0" width="279.3" height="58.2" fill="#d9d9d9"/>
<text x="1005.3" y="59.4" font-family="'Liberation Sans','DejaVu Sans',sans-serif" font-size="49.0" textLength="219.7" lengthAdjust="spacingAndGlyphs" fill="#1a1a1a" stroke="#1a1a1a" stroke-width="0.6">Histogram</text>
<rect x="1399.0" y="17.3" width="279.8" height="58.4" fill="#d9d9d9"/>
<text x="1437.9" y="60.7" font-family="'Liberation Sans','DejaVu Sans',sans-serif" font-size="49.0" textLength="199.3" lengthAdjust="spacingAndGlyphs" fill="#1a1a1a" stroke="#1a1a1a" stroke-width="0.6">Binary WI</text>
<rect x="1689.6" y="17.3" width="279.3" height="58.4" fill="#d9d9d9"/>
<text x="1782.6" y="60.7" font-family="'Liberation Sans','DejaVu Sans',sans-serif" font-size="49.0" textLength="94.1" lengthAdjust="spacingAndGlyphs" fill="#1a1a1a" stroke="#1a1a1a" stroke-width="0.6">PWB</text>
<rect x="1982.3" y="17.3" width="280.5" height="58.4" fill="#d9d9d9"/>
<text x="2060.3" y="60.7" font-family="'Liberation Sans','DejaVu Sans',sans-serif" font-size="49.0" textLength="118.0" lengthAdjust="spacingAndGlyphs" fill="#1a1a1a" stroke="#1a1a1a" stroke-width="0.6">Flood</text>
<text transform="translate(290.9 244.3) rotate(-90) scale(0.972 1)" font-family="'DejaVu Sans','Liberation Sans',sans-serif" font-size="36.8" text-anchor="start" fill="#1a1a1a" >76.23°E</text>
<text transform="translate(393.2 244.3) rotate(-90) scale(0.972 1)" font-family="'DejaVu Sans','Liberation Sans',sans-serif" font-size="36.8" text-anchor="start" fill="#1a1a1a" >76.38°E</text>
<text transform="translate(495.5 244.3) rotate(-90) scale(0.972 1)" font-family="'DejaVu Sans','Liberation Sans',sans-serif" font-size="36.8" text-anchor="start" fill="#1a1a1a" >76.53°E</text>
<text transform="translate(582.9 244.3) rotate(-90) scale(0.972 1)" font-family="'DejaVu Sans','Liberation Sans',sans-serif" font-size="36.8" text-anchor="start" fill="#1a1a1a" >76.23°E</text>
<text transform="translate(685.2 244.3) rotate(-90) scale(0.972 1)" font-family="'DejaVu Sans','Liberation Sans',sans-serif" font-size="36.8" text-anchor="start" fill="#1a1a1a" >76.38°E</text>
<text transform="translate(787.5 244.3) rotate(-90) scale(0.972 1)" font-family="'DejaVu Sans','Liberation Sans',sans-serif" font-size="36.8" text-anchor="start" fill="#1a1a1a" >76.53°E</text>
<text transform="translate(1450.9 244.3) rotate(-90) scale(0.972 1)" font-family="'DejaVu Sans','Liberation Sans',sans-serif" font-size="36.8" text-anchor="start" fill="#1a1a1a" >76.23°E</text>
<text transform="translate(1553.2 244.3) rotate(-90) scale(0.972 1)" font-family="'DejaVu Sans','Liberation Sans',sans-serif" font-size="36.8" text-anchor="start" fill="#1a1a1a" >76.38°E</text>
<text transform="translate(1655.5 244.3) rotate(-90) scale(0.972 1)" font-family="'DejaVu Sans','Liberation Sans',sans-serif" font-size="36.8" text-anchor="start" fill="#1a1a1a" >76.53°E</text>
<text transform="translate(1740.9 244.3) rotate(-90) scale(0.972 1)" font-family="'DejaVu Sans','Liberation Sans',sans-serif" font-size="36.8" text-anchor="start" fill="#1a1a1a" >76.23°E</text>
<text transform="translate(1843.2 244.3) rotate(-90) scale(0.972 1)" font-family="'DejaVu Sans','Liberation Sans',sans-serif" font-size="36.8" text-anchor="start" fill="#1a1a1a" >76.38°E</text>
<text transform="translate(1945.5 244.3) rotate(-90) scale(0.972 1)" font-family="'DejaVu Sans','Liberation Sans',sans-serif" font-size="36.8" text-anchor="start" fill="#1a1a1a" >76.53°E</text>
<text transform="translate(2031.9 244.3) rotate(-90) scale(0.972 1)" font-family="'DejaVu Sans','Liberation Sans',sans-serif" font-size="36.8" text-anchor="start" fill="#1a1a1a" >76.23°E</text>
<text transform="translate(2134.2 244.3) rotate(-90) scale(0.972 1)" font-family="'DejaVu Sans','Liberation Sans',sans-serif" font-size="36.8" text-anchor="start" fill="#1a1a1a" >76.38°E</text>
<text transform="translate(2236.5 244.3) rotate(-90) scale(0.972 1)" font-family="'DejaVu Sans','Liberation Sans',sans-serif" font-size="36.8" text-anchor="start" fill="#1a1a1a" >76.53°E</text>
<text transform="translate(231.4 309.0) scale(0.965 1)" font-family="'DejaVu Sans','Liberation Sans',sans-serif" font-size="36.8" text-anchor="end" fill="#1a1a1a" >10.1°N</text>
<text transform="translate(231.4 446.4) scale(0.965 1)" font-family="'DejaVu Sans','Liberation Sans',sans-serif" font-size="36.8" text-anchor="end" fill="#1a1a1a" >9.9°N</text>
<text transform="translate(231.4 583.8) scale(0.965 1)" font-family="'DejaVu Sans','Liberation Sans',sans-serif" font-size="36.8" text-anchor="end" fill="#1a1a1a" >9.7°N</text>
<text transform="translate(231.4 721.2) scale(0.965 1)" font-family="'DejaVu Sans','Liberation Sans',sans-serif" font-size="36.8" text-anchor="end" fill="#1a1a1a" >9.5°N</text>
<text transform="translate(231.4 858.6) scale(0.965 1)" font-family="'DejaVu Sans','Liberation Sans',sans-serif" font-size="36.8" text-anchor="end" fill="#1a1a1a" >9.3°N</text>
<text transform="translate(1395.4 309.0) scale(0.965 1)" font-family="'DejaVu Sans','Liberation Sans',sans-serif" font-size="36.8" text-anchor="end" fill="#1a1a1a" >10.1°N</text>
<text transform="translate(1395.4 446.4) scale(0.965 1)" font-family="'DejaVu Sans','Liberation Sans',sans-serif" font-size="36.8" text-anchor="end" fill="#1a1a1a" >9.9°N</text>
<text transform="translate(1395.4 583.8) scale(0.965 1)" font-family="'DejaVu Sans','Liberation Sans',sans-serif" font-size="36.8" text-anchor="end" fill="#1a1a1a" >9.7°N</text>
<text transform="translate(1395.4 721.2) scale(0.965 1)" font-family="'DejaVu Sans','Liberation Sans',sans-serif" font-size="36.8" text-anchor="end" fill="#1a1a1a" >9.5°N</text>
<text transform="translate(1395.4 858.6) scale(0.965 1)" font-family="'DejaVu Sans','Liberation Sans',sans-serif" font-size="36.8" text-anchor="end" fill="#1a1a1a" >9.3°N</text>
<text transform="translate(231.4 1062.0) scale(0.965 1)" font-family="'DejaVu Sans','Liberation Sans',sans-serif" font-size="36.8" text-anchor="end" fill="#1a1a1a" >10.1°N</text>
<text transform="translate(231.4 1199.4) scale(0.965 1)" font-family="'DejaVu Sans','Liberation Sans',sans-serif" font-size="36.8" text-anchor="end" fill="#1a1a1a" >9.9°N</text>
<text transform="translate(231.4 1336.8) scale(0.965 1)" font-family="'DejaVu Sans','Liberation Sans',sans-serif" font-size="36.8" text-anchor="end" fill="#1a1a1a" >9.7°N</text>
<text transform="translate(231.4 1474.2) scale(0.965 1)" font-family="'DejaVu Sans','Liberation Sans',sans-serif" font-size="36.8" text-anchor="end" fill="#1a1a1a" >9.5°N</text>
<text transform="translate(231.4 1611.6) scale(0.965 1)" font-family="'DejaVu Sans','Liberation Sans',sans-serif" font-size="36.8" text-anchor="end" fill="#1a1a1a" >9.3°N</text>
<text transform="translate(1395.4 1062.0) scale(0.965 1)" font-family="'DejaVu Sans','Liberation Sans',sans-serif" font-size="36.8" text-anchor="end" fill="#1a1a1a" >10.1°N</text>
<text transform="translate(1395.4 1199.4) scale(0.965 1)" font-family="'DejaVu Sans','Liberation Sans',sans-serif" font-size="36.8" text-anchor="end" fill="#1a1a1a" >9.9°N</text>
<text transform="translate(1395.4 1336.8) scale(0.965 1)" font-family="'DejaVu Sans','Liberation Sans',sans-serif" font-size="36.8" text-anchor="end" fill="#1a1a1a" >9.7°N</text>
<text transform="translate(1395.4 1474.2) scale(0.965 1)" font-family="'DejaVu Sans','Liberation Sans',sans-serif" font-size="36.8" text-anchor="end" fill="#1a1a1a" >9.5°N</text>
<text transform="translate(1395.4 1611.6) scale(0.965 1)" font-family="'DejaVu Sans','Liberation Sans',sans-serif" font-size="36.8" text-anchor="end" fill="#1a1a1a" >9.3°N</text>
<text transform="translate(231.4 1821.4) scale(0.965 1)" font-family="'DejaVu Sans','Liberation Sans',sans-serif" font-size="36.8" text-anchor="end" fill="#1a1a1a" >10.1°N</text>
<text transform="translate(231.4 1958.8) scale(0.965 1)" font-family="'DejaVu Sans','Liberation Sans',sans-serif" font-size="36.8" text-anchor="end" fill="#1a1a1a" >9.9°N</text>
<text transform="translate(231.4 2096.2) scale(0.965 1)" font-family="'DejaVu Sans','Liberation Sans',sans-serif" font-size="36.8" text-anchor="end" fill="#1a1a1a" >9.7°N</text>
<text transform="translate(231.4 2233.6) scale(0.965 1)" font-family="'DejaVu Sans','Liberation Sans',sans-serif" font-size="36.8" text-anchor="end" fill="#1a1a1a" >9.5°N</text>
<text transform="translate(231.4 2371.0) scale(0.965 1)" font-family="'DejaVu Sans','Liberation Sans',sans-serif" font-size="36.8" text-anchor="end" fill="#1a1a1a" >9.3°N</text>
<text transform="translate(1395.4 1821.4) scale(0.965 1)" font-family="'DejaVu Sans','Liberation Sans',sans-serif" font-size="36.8" text-anchor="end" fill="#1a1a1a" >10.1°N</text>
<text transform="translate(1395.4 1958.8) scale(0.965 1)" font-family="'DejaVu Sans','Liberation Sans',sans-serif" font-size="36.8" text-anchor="end" fill="#1a1a1a" >9.9°N</text>
<text transform="translate(1395.4 2096.2) scale(0.965 1)" font-family="'DejaVu Sans','Liberation Sans',sans-serif" font-size="36.8" text-anchor="end" fill="#1a1a1a" >9.7°N</text>
<text transform="translate(1395.4 2233.6) scale(0.965 1)" font-family="'DejaVu Sans','Liberation Sans',sans-serif" font-size="36.8" text-anchor="end" fill="#1a1a1a" >9.5°N</text>
<text transform="translate(1395.4 2371.0) scale(0.965 1)" font-family="'DejaVu Sans','Liberation Sans',sans-serif" font-size="36.8" text-anchor="end" fill="#1a1a1a" >9.3°N</text>
<text transform="translate(231.4 2580.7) scale(0.965 1)" font-family="'DejaVu Sans','Liberation Sans',sans-serif" font-size="36.8" text-anchor="end" fill="#1a1a1a" >10.1°N</text>
<text transform="translate(231.4 2718.1) scale(0.965 1)" font-family="'DejaVu Sans','Liberation Sans',sans-serif" font-size="36.8" text-anchor="end" fill="#1a1a1a" >9.9°N</text>
<text transform="translate(231.4 2855.5) scale(0.965 1)" font-family="'DejaVu Sans','Liberation Sans',sans-serif" font-size="36.8" text-anchor="end" fill="#1a1a1a" >9.7°N</text>
<text transform="translate(231.4 2992.9) scale(0.965 1)" font-family="'DejaVu Sans','Liberation Sans',sans-serif" font-size="36.8" text-anchor="end" fill="#1a1a1a" >9.5°N</text>
<text transform="translate(231.4 3130.3) scale(0.965 1)" font-family="'DejaVu Sans','Liberation Sans',sans-serif" font-size="36.8" text-anchor="end" fill="#1a1a1a" >9.3°N</text>
<text transform="translate(1395.4 2580.7) scale(0.965 1)" font-family="'DejaVu Sans','Liberation Sans',sans-serif" font-size="36.8" text-anchor="end" fill="#1a1a1a" >10.1°N</text>
<text transform="translate(1395.4 2718.1) scale(0.965 1)" font-family="'DejaVu Sans','Liberation Sans',sans-serif" font-size="36.8" text-anchor="end" fill="#1a1a1a" >9.9°N</text>
<text transform="translate(1395.4 2855.5) scale(0.965 1)" font-family="'DejaVu Sans','Liberation Sans',sans-serif" font-size="36.8" text-anchor="end" fill="#1a1a1a" >9.7°N</text>
<text transform="translate(1395.4 2992.9) scale(0.965 1)" font-family="'DejaVu Sans','Liberation Sans',sans-serif" font-size="36.8" text-anchor="end" fill="#1a1a1a" >9.5°N</text>
<text transform="translate(1395.4 3130.3) scale(0.965 1)" font-family="'DejaVu Sans','Liberation Sans',sans-serif" font-size="36.8" text-anchor="end" fill="#1a1a1a" >9.3°N</text>
<rect x="20.2" y="259.0" width="59.6" height="657.3" fill="#d9d9d9"/>
<text x="25.0" y="303.2" font-family="'Liberation Sans','DejaVu Sans',sans-serif" font-size="49.0" textLength="52.0" lengthAdjust="spacingAndGlyphs" fill="#1a1a1a" stroke="#1a1a1a" stroke-width="0.6">(A)</text>
<text transform="translate(68.0 848.8) rotate(-90)" font-family="'Liberation Sans','DejaVu Sans',sans-serif" font-size="49.5" textLength="479.4" lengthAdjust="spacingAndGlyphs" fill="#1a1a1a" stroke="#1a1a1a" stroke-width="0.6">S2b 1 September 2018</text>
<rect x="20.2" y="1012.4" width="59.6" height="657.6" fill="#d9d9d9"/>
<text x="26.2" y="1056.6" font-family="'Liberation Sans','DejaVu Sans',sans-serif" font-size="49.0" textLength="47.6" lengthAdjust="spacingAndGlyphs" fill="#1a1a1a" stroke="#1a1a1a" stroke-width="0.6">(B)</text>
<text transform="translate(68.0 1576.5) rotate(-90)" font-family="'Liberation Sans','DejaVu Sans',sans-serif" font-size="49.5" textLength="442.7" lengthAdjust="spacingAndGlyphs" fill="#1a1a1a" stroke="#1a1a1a" stroke-width="0.6">S2b 21 October 2018</text>
<rect x="20.2" y="1772.2" width="59.6" height="660.3" fill="#d9d9d9"/>
<text x="25.9" y="1816.4" font-family="'Liberation Sans','DejaVu Sans',sans-serif" font-size="49.0" textLength="47.6" lengthAdjust="spacingAndGlyphs" fill="#1a1a1a" stroke="#1a1a1a" stroke-width="0.6">(C)</text>
<text transform="translate(68.0 2356.0) rotate(-90)" font-family="'Liberation Sans','DejaVu Sans',sans-serif" font-size="49.5" textLength="480.9" lengthAdjust="spacingAndGlyphs" fill="#1a1a1a" stroke="#1a1a1a" stroke-width="0.6">S2a 25 November 2018</text>
<rect x="20.2" y="2531.3" width="59.6" height="658.8" fill="#d9d9d9"/>
<text x="23.5" y="2575.5" font-family="'Liberation Sans','DejaVu Sans',sans-serif" font-size="49.0" textLength="51.5" lengthAdjust="spacingAndGlyphs" fill="#1a1a1a" stroke="#1a1a1a" stroke-width="0.6">(D)</text>
<text transform="translate(68.0 3116.0) rotate(-90)" font-family="'Liberation Sans','DejaVu Sans',sans-serif" font-size="49.5" textLength="479.4" lengthAdjust="spacingAndGlyphs" fill="#1a1a1a" stroke="#1a1a1a" stroke-width="0.6">S2a 15 December 2018</text>
<rect x="980.0" y="256.9" width="275.8" height="651.9" fill="#ffffff" stroke="#b0b0b0" stroke-width="1.6"/>
<rect x="980.8" y="390.8" width="6.8" height="15" fill="#1b1b73"/>
<rect x="980.8" y="419.2" width="11.4" height="15" fill="#1b1b73"/>
<rect x="980.8" y="447.6" width="35.6" height="15" fill="#1b1b73"/>
<rect x="980.8" y="475.9" width="146.9" height="15" fill="#1b1b73"/>
<rect x="980.8" y="504.3" width="262.8" height="15" fill="#1b1b73"/>
<rect x="980.8" y="532.7" width="212.7" height="15" fill="#1b1b73"/>
<rect x="980.8" y="561.1" width="190.5" height="15" fill="#1b1b73"/>
<rect x="980.8" y="589.5" width="113.7" height="15" fill="#1b1b73"/>
<rect x="980.8" y="617.8" width="69.8" height="15" fill="#1b1b73"/>
<rect x="980.8" y="646.2" width="52.9" height="15" fill="#1b1b73"/>
<rect x="980.8" y="674.6" width="54.7" height="15" fill="#1b1b73"/>
<rect x="980.8" y="703.0" width="49.2" height="15" fill="#1b1b73"/>
<rect x="980.8" y="731.3" width="17.5" height="15" fill="#1b1b73"/>
<path d="M976.0 313.2H980.0" stroke="#555" stroke-width="1"/>
<text transform="translate(971.5 327.2) scale(0.965 1)" font-family="'DejaVu Sans','Liberation Sans',sans-serif" font-size="36.8" text-anchor="end" fill="#1a1a1a" >0.82</text>
<path d="M976.0 369.9H980.0" stroke="#555" stroke-width="1"/>
<text transform="translate(971.5 384.0) scale(0.965 1)" font-family="'DejaVu Sans','Liberation Sans',sans-serif" font-size="36.8" text-anchor="end" fill="#1a1a1a" >0.64</text>
<path d="M976.0 426.7H980.0" stroke="#555" stroke-width="1"/>
<text transform="translate(971.5 440.7) scale(0.965 1)" font-family="'DejaVu Sans','Liberation Sans',sans-serif" font-size="36.8" text-anchor="end" fill="#1a1a1a" >0.45</text>
<path d="M976.0 483.4H980.0" stroke="#555" stroke-width="1"/>
<text transform="translate(971.5 497.5) scale(0.965 1)" font-family="'DejaVu Sans','Liberation Sans',sans-serif" font-size="36.8" text-anchor="end" fill="#1a1a1a" >0.27</text>
<path d="M976.0 540.2H980.0" stroke="#555" stroke-width="1"/>
<text transform="translate(971.5 554.2) scale(0.965 1)" font-family="'DejaVu Sans','Liberation Sans',sans-serif" font-size="36.8" text-anchor="end" fill="#1a1a1a" >0.09</text>
<path d="M976.0 597.0H980.0" stroke="#555" stroke-width="1"/>
<text transform="translate(971.5 611.0) scale(0.965 1)" font-family="'DejaVu Sans','Liberation Sans',sans-serif" font-size="36.8" text-anchor="end" fill="#1a1a1a" >–0.09</text>
<path d="M976.0 653.7H980.0" stroke="#555" stroke-width="1"/>
<text transform="translate(971.5 667.7) scale(0.965 1)" font-family="'DejaVu Sans','Liberation Sans',sans-serif" font-size="36.8" text-anchor="end" fill="#1a1a1a" >–0.27</text>
<path d="M976.0 710.5H980.0" stroke="#555" stroke-width="1"/>
<text transform="translate(971.5 724.5) scale(0.965 1)" font-family="'DejaVu Sans','Liberation Sans',sans-serif" font-size="36.8" text-anchor="end" fill="#1a1a1a" >–0.45</text>
<path d="M976.0 767.2H980.0" stroke="#555" stroke-width="1"/>
<text transform="translate(971.5 781.2) scale(0.965 1)" font-family="'DejaVu Sans','Liberation Sans',sans-serif" font-size="36.8" text-anchor="end" fill="#1a1a1a" >–0.64</text>
<path d="M976.0 824.0H980.0" stroke="#555" stroke-width="1"/>
<text transform="translate(971.5 838.0) scale(0.965 1)" font-family="'DejaVu Sans','Liberation Sans',sans-serif" font-size="36.8" text-anchor="end" fill="#1a1a1a" >–0.82</text>
<path d="M976.0 880.7H980.0" stroke="#555" stroke-width="1"/>
<text transform="translate(971.5 894.7) scale(0.965 1)" font-family="'DejaVu Sans','Liberation Sans',sans-serif" font-size="36.8" text-anchor="end" fill="#1a1a1a" >–1.00</text>
<path d="M977.5 284.8H980.0" stroke="#777" stroke-width="1"/>
<path d="M977.5 341.6H980.0" stroke="#777" stroke-width="1"/>
<path d="M977.5 398.3H980.0" stroke="#777" stroke-width="1"/>
<path d="M977.5 455.1H980.0" stroke="#777" stroke-width="1"/>
<path d="M977.5 511.8H980.0" stroke="#777" stroke-width="1"/>
<path d="M977.5 568.6H980.0" stroke="#777" stroke-width="1"/>
<path d="M977.5 625.3H980.0" stroke="#777" stroke-width="1"/>
<path d="M977.5 682.1H980.0" stroke="#777" stroke-width="1"/>
<path d="M977.5 738.8H980.0" stroke="#777" stroke-width="1"/>
<path d="M977.5 795.6H980.0" stroke="#777" stroke-width="1"/>
<path d="M977.5 852.3H980.0" stroke="#777" stroke-width="1"/>
<path d="M980.0 524.5H1255.8" stroke="#555" stroke-width="1.3" stroke-dasharray="6.5 3.5"/>
<path d="M980.0 908.8V912.8" stroke="#555" stroke-width="1"/>
<text transform="translate(990.4 919.8) rotate(-90) scale(0.95 1)" font-family="'DejaVu Sans','Liberation Sans',sans-serif" font-size="36.8" text-anchor="end" fill="#1a1a1a" >0.0</text>
<path d="M1021.2 908.8V912.8" stroke="#555" stroke-width="1"/>
<text transform="translate(1031.6 919.8) rotate(-90) scale(0.95 1)" font-family="'DejaVu Sans','Liberation Sans',sans-serif" font-size="36.8" text-anchor="end" fill="#1a1a1a" >0.2</text>
<path d="M1062.4 908.8V912.8" stroke="#555" stroke-width="1"/>
<text transform="translate(1072.8 919.8) rotate(-90) scale(0.95 1)" font-family="'DejaVu Sans','Liberation Sans',sans-serif" font-size="36.8" text-anchor="end" fill="#1a1a1a" >0.4</text>
<path d="M1103.6 908.8V912.8" stroke="#555" stroke-width="1"/>
<text transform="translate(1114.0 919.8) rotate(-90) scale(0.95 1)" font-family="'DejaVu Sans','Liberation Sans',sans-serif" font-size="36.8" text-anchor="end" fill="#1a1a1a" >0.6</text>
<path d="M1144.8 908.8V912.8" stroke="#555" stroke-width="1"/>
<text transform="translate(1155.2 919.8) rotate(-90) scale(0.95 1)" font-family="'DejaVu Sans','Liberation Sans',sans-serif" font-size="36.8" text-anchor="end" fill="#1a1a1a" >0.8</text>
<path d="M1186.0 908.8V912.8" stroke="#555" stroke-width="1"/>
<text transform="translate(1196.4 919.8) rotate(-90) scale(0.95 1)" font-family="'DejaVu Sans','Liberation Sans',sans-serif" font-size="36.8" text-anchor="end" fill="#1a1a1a" >1.0</text>
<path d="M1227.2 908.8V912.8" stroke="#555" stroke-width="1"/>
<text transform="translate(1237.6 919.8) rotate(-90) scale(0.95 1)" font-family="'DejaVu Sans','Liberation Sans',sans-serif" font-size="36.8" text-anchor="end" fill="#1a1a1a" >1.2</text>
<text transform="translate(1242.3 274.4) rotate(-90)" font-family="'DejaVu Sans','Liberation Sans',sans-serif" font-size="31.6" text-anchor="end" fill="#1a1a1a" >Water</text>
<text transform="translate(1242.3 897.8) rotate(-90)" font-family="'DejaVu Sans','Liberation Sans',sans-serif" font-size="31.6" text-anchor="start" fill="#1a1a1a" >Not water</text>
<text transform="translate(860.5 586.8) rotate(-90)" font-family="'DejaVu Sans','Liberation Sans',sans-serif" font-size="40.3" text-anchor="middle" fill="#1a1a1a" >MNDWI</text>
<rect x="980.0" y="1012.6" width="275.8" height="650.8" fill="#ffffff" stroke="#b0b0b0" stroke-width="1.6"/>
<rect x="980.8" y="1089.8" width="19.9" height="15" fill="#1b1b73"/>
<rect x="980.8" y="1118.2" width="32.1" height="15" fill="#1b1b73"/>
<rect x="980.8" y="1146.5" width="29.0" height="15" fill="#1b1b73"/>
<rect x="980.8" y="1174.9" width="30.9" height="15" fill="#1b1b73"/>
<rect x="980.8" y="1203.3" width="47.3" height="15" fill="#1b1b73"/>
<rect x="980.8" y="1231.7" width="25.8" height="15" fill="#1b1b73"/>
<rect x="980.8" y="1260.0" width="24.6" height="15" fill="#1b1b73"/>
<rect x="980.8" y="1288.4" width="45.7" height="15" fill="#1b1b73"/>
<rect x="980.8" y="1316.8" width="262.2" height="15" fill="#1b1b73"/>
<rect x="980.8" y="1345.2" width="141.2" height="15" fill="#1b1b73"/>
<rect x="980.8" y="1373.5" width="93.0" height="15" fill="#1b1b73"/>
<rect x="980.8" y="1401.9" width="93.0" height="15" fill="#1b1b73"/>
<rect x="980.8" y="1430.3" width="107.8" height="15" fill="#1b1b73"/>
<rect x="980.8" y="1458.7" width="134.9" height="15" fill="#1b1b73"/>
<rect x="980.8" y="1487.0" width="87.3" height="15" fill="#1b1b73"/>
<rect x="980.8" y="1515.4" width="3.2" height="15" fill="#1b1b73"/>
<path d="M976.0 1068.9H980.0" stroke="#555" stroke-width="1"/>
<text transform="translate(971.5 1082.9) scale(0.965 1)" font-family="'DejaVu Sans','Liberation Sans',sans-serif" font-size="36.8" text-anchor="end" fill="#1a1a1a" >0.82</text>
<path d="M976.0 1125.7H980.0" stroke="#555" stroke-width="1"/>
<text transform="translate(971.5 1139.7) scale(0.965 1)" font-family="'DejaVu Sans','Liberation Sans',sans-serif" font-size="36.8" text-anchor="end" fill="#1a1a1a" >0.64</text>
<path d="M976.0 1182.4H980.0" stroke="#555" stroke-width="1"/>
<text transform="translate(971.5 1196.4) scale(0.965 1)" font-family="'DejaVu Sans','Liberation Sans',sans-serif" font-size="36.8" text-anchor="end" fill="#1a1a1a" >0.45</text>
<path d="M976.0 1239.2H980.0" stroke="#555" stroke-width="1"/>
<text transform="translate(971.5 1253.2) scale(0.965 1)" font-family="'DejaVu Sans','Liberation Sans',sans-serif" font-size="36.8" text-anchor="end" fill="#1a1a1a" >0.27</text>
<path d="M976.0 1295.9H980.0" stroke="#555" stroke-width="1"/>
<text transform="translate(971.5 1309.9) scale(0.965 1)" font-family="'DejaVu Sans','Liberation Sans',sans-serif" font-size="36.8" text-anchor="end" fill="#1a1a1a" >0.09</text>
<path d="M976.0 1352.7H980.0" stroke="#555" stroke-width="1"/>
<text transform="translate(971.5 1366.7) scale(0.965 1)" font-family="'DejaVu Sans','Liberation Sans',sans-serif" font-size="36.8" text-anchor="end" fill="#1a1a1a" >–0.09</text>
<path d="M976.0 1409.4H980.0" stroke="#555" stroke-width="1"/>
<text transform="translate(971.5 1423.4) scale(0.965 1)" font-family="'DejaVu Sans','Liberation Sans',sans-serif" font-size="36.8" text-anchor="end" fill="#1a1a1a" >–0.27</text>
<path d="M976.0 1466.2H980.0" stroke="#555" stroke-width="1"/>
<text transform="translate(971.5 1480.2) scale(0.965 1)" font-family="'DejaVu Sans','Liberation Sans',sans-serif" font-size="36.8" text-anchor="end" fill="#1a1a1a" >–0.45</text>
<path d="M976.0 1522.9H980.0" stroke="#555" stroke-width="1"/>
<text transform="translate(971.5 1536.9) scale(0.965 1)" font-family="'DejaVu Sans','Liberation Sans',sans-serif" font-size="36.8" text-anchor="end" fill="#1a1a1a" >–0.64</text>
<path d="M976.0 1579.7H980.0" stroke="#555" stroke-width="1"/>
<text transform="translate(971.5 1593.7) scale(0.965 1)" font-family="'DejaVu Sans','Liberation Sans',sans-serif" font-size="36.8" text-anchor="end" fill="#1a1a1a" >–0.82</text>
<path d="M976.0 1636.4H980.0" stroke="#555" stroke-width="1"/>
<text transform="translate(971.5 1650.4) scale(0.965 1)" font-family="'DejaVu Sans','Liberation Sans',sans-serif" font-size="36.8" text-anchor="end" fill="#1a1a1a" >–1.00</text>
<path d="M977.5 1040.5H980.0" stroke="#777" stroke-width="1"/>
<path d="M977.5 1097.3H980.0" stroke="#777" stroke-width="1"/>
<path d="M977.5 1154.0H980.0" stroke="#777" stroke-width="1"/>
<path d="M977.5 1210.8H980.0" stroke="#777" stroke-width="1"/>
<path d="M977.5 1267.5H980.0" stroke="#777" stroke-width="1"/>
<path d="M977.5 1324.3H980.0" stroke="#777" stroke-width="1"/>
<path d="M977.5 1381.0H980.0" stroke="#777" stroke-width="1"/>
<path d="M977.5 1437.8H980.0" stroke="#777" stroke-width="1"/>
<path d="M977.5 1494.5H980.0" stroke="#777" stroke-width="1"/>
<path d="M977.5 1551.3H980.0" stroke="#777" stroke-width="1"/>
<path d="M977.5 1608.0H980.0" stroke="#777" stroke-width="1"/>
<path d="M980.0 1280.2H1255.8" stroke="#555" stroke-width="1.3" stroke-dasharray="6.5 3.5"/>
<path d="M980.0 1663.4V1667.4" stroke="#555" stroke-width="1"/>
<text transform="translate(990.4 1674.4) rotate(-90) scale(0.95 1)" font-family="'DejaVu Sans','Liberation Sans',sans-serif" font-size="36.8" text-anchor="end" fill="#1a1a1a" >0.0</text>
<path d="M1019.7 1663.4V1667.4" stroke="#555" stroke-width="1"/>
<text transform="translate(1030.1 1674.4) rotate(-90) scale(0.95 1)" font-family="'DejaVu Sans','Liberation Sans',sans-serif" font-size="36.8" text-anchor="end" fill="#1a1a1a" >0.2</text>
<path d="M1059.3 1663.4V1667.4" stroke="#555" stroke-width="1"/>
<text transform="translate(1069.7 1674.4) rotate(-90) scale(0.95 1)" font-family="'DejaVu Sans','Liberation Sans',sans-serif" font-size="36.8" text-anchor="end" fill="#1a1a1a" >0.4</text>
<path d="M1099.0 1663.4V1667.4" stroke="#555" stroke-width="1"/>
<text transform="translate(1109.4 1674.4) rotate(-90) scale(0.95 1)" font-family="'DejaVu Sans','Liberation Sans',sans-serif" font-size="36.8" text-anchor="end" fill="#1a1a1a" >0.6</text>
<path d="M1138.6 1663.4V1667.4" stroke="#555" stroke-width="1"/>
<text transform="translate(1149.1 1674.4) rotate(-90) scale(0.95 1)" font-family="'DejaVu Sans','Liberation Sans',sans-serif" font-size="36.8" text-anchor="end" fill="#1a1a1a" >0.8</text>
<path d="M1178.3 1663.4V1667.4" stroke="#555" stroke-width="1"/>
<text transform="translate(1188.7 1674.4) rotate(-90) scale(0.95 1)" font-family="'DejaVu Sans','Liberation Sans',sans-serif" font-size="36.8" text-anchor="end" fill="#1a1a1a" >1.0</text>
<path d="M1218.0 1663.4V1667.4" stroke="#555" stroke-width="1"/>
<text transform="translate(1228.4 1674.4) rotate(-90) scale(0.95 1)" font-family="'DejaVu Sans','Liberation Sans',sans-serif" font-size="36.8" text-anchor="end" fill="#1a1a1a" >1.2</text>
<text transform="translate(1242.3 1027.6) rotate(-90)" font-family="'DejaVu Sans','Liberation Sans',sans-serif" font-size="31.6" text-anchor="end" fill="#1a1a1a" >Water</text>
<text transform="translate(1242.3 1652.4) rotate(-90)" font-family="'DejaVu Sans','Liberation Sans',sans-serif" font-size="31.6" text-anchor="start" fill="#1a1a1a" >Not water</text>
<text transform="translate(860.5 1342.0) rotate(-90)" font-family="'DejaVu Sans','Liberation Sans',sans-serif" font-size="40.3" text-anchor="middle" fill="#1a1a1a" >MNDWI</text>
<rect x="980.0" y="1770.2" width="275.8" height="652.4" fill="#ffffff" stroke="#b0b0b0" stroke-width="1.6"/>
<rect x="980.8" y="1819.0" width="45.1" height="15" fill="#1b1b73"/>
<rect x="980.8" y="1847.4" width="245.8" height="15" fill="#1b1b73"/>
<rect x="980.8" y="1875.8" width="263.2" height="15" fill="#1b1b73"/>
<rect x="980.8" y="1904.1" width="30.6" height="15" fill="#1b1b73"/>
<rect x="980.8" y="1932.5" width="15.1" height="15" fill="#1b1b73"/>
<rect x="980.8" y="1960.9" width="13.6" height="15" fill="#1b1b73"/>
<rect x="980.8" y="1989.2" width="13.6" height="15" fill="#1b1b73"/>
<rect x="980.8" y="2017.6" width="22.4" height="15" fill="#1b1b73"/>
<rect x="980.8" y="2046.0" width="42.5" height="15" fill="#1b1b73"/>
<rect x="980.8" y="2074.4" width="75.6" height="15" fill="#1b1b73"/>
<rect x="980.8" y="2102.8" width="87.3" height="15" fill="#1b1b73"/>
<rect x="980.8" y="2131.1" width="89.2" height="15" fill="#1b1b73"/>
<rect x="980.8" y="2159.5" width="88.2" height="15" fill="#1b1b73"/>
<rect x="980.8" y="2187.9" width="158.5" height="15" fill="#1b1b73"/>
<rect x="980.8" y="2216.2" width="256.9" height="15" fill="#1b1b73"/>
<rect x="980.8" y="2244.6" width="140.2" height="15" fill="#1b1b73"/>
<rect x="980.8" y="2273.0" width="4.7" height="15" fill="#1b1b73"/>
<rect x="980.8" y="2386.5" width="2.2" height="15" fill="#1b1b73"/>
<path d="M976.0 1826.5H980.0" stroke="#555" stroke-width="1"/>
<text transform="translate(971.5 1840.5) scale(0.965 1)" font-family="'DejaVu Sans','Liberation Sans',sans-serif" font-size="36.8" text-anchor="end" fill="#1a1a1a" >0.82</text>
<path d="M976.0 1883.2H980.0" stroke="#555" stroke-width="1"/>
<text transform="translate(971.5 1897.3) scale(0.965 1)" font-family="'DejaVu Sans','Liberation Sans',sans-serif" font-size="36.8" text-anchor="end" fill="#1a1a1a" >0.64</text>
<path d="M976.0 1940.0H980.0" stroke="#555" stroke-width="1"/>
<text transform="translate(971.5 1954.0) scale(0.965 1)" font-family="'DejaVu Sans','Liberation Sans',sans-serif" font-size="36.8" text-anchor="end" fill="#1a1a1a" >0.45</text>
<path d="M976.0 1996.8H980.0" stroke="#555" stroke-width="1"/>
<text transform="translate(971.5 2010.8) scale(0.965 1)" font-family="'DejaVu Sans','Liberation Sans',sans-serif" font-size="36.8" text-anchor="end" fill="#1a1a1a" >0.27</text>
<path d="M976.0 2053.5H980.0" stroke="#555" stroke-width="1"/>
<text transform="translate(971.5 2067.5) scale(0.965 1)" font-family="'DejaVu Sans','Liberation Sans',sans-serif" font-size="36.8" text-anchor="end" fill="#1a1a1a" >0.09</text>
<path d="M976.0 2110.2H980.0" stroke="#555" stroke-width="1"/>
<text transform="translate(971.5 2124.3) scale(0.965 1)" font-family="'DejaVu Sans','Liberation Sans',sans-serif" font-size="36.8" text-anchor="end" fill="#1a1a1a" >–0.09</text>
<path d="M976.0 2167.0H980.0" stroke="#555" stroke-width="1"/>
<text transform="translate(971.5 2181.0) scale(0.965 1)" font-family="'DejaVu Sans','Liberation Sans',sans-serif" font-size="36.8" text-anchor="end" fill="#1a1a1a" >–0.27</text>
<path d="M976.0 2223.8H980.0" stroke="#555" stroke-width="1"/>
<text transform="translate(971.5 2237.8) scale(0.965 1)" font-family="'DejaVu Sans','Liberation Sans',sans-serif" font-size="36.8" text-anchor="end" fill="#1a1a1a" >–0.45</text>
<path d="M976.0 2280.5H980.0" stroke="#555" stroke-width="1"/>
<text transform="translate(971.5 2294.5) scale(0.965 1)" font-family="'DejaVu Sans','Liberation Sans',sans-serif" font-size="36.8" text-anchor="end" fill="#1a1a1a" >–0.64</text>
<path d="M976.0 2337.2H980.0" stroke="#555" stroke-width="1"/>
<text transform="translate(971.5 2351.3) scale(0.965 1)" font-family="'DejaVu Sans','Liberation Sans',sans-serif" font-size="36.8" text-anchor="end" fill="#1a1a1a" >–0.82</text>
<path d="M976.0 2394.0H980.0" stroke="#555" stroke-width="1"/>
<text transform="translate(971.5 2408.0) scale(0.965 1)" font-family="'DejaVu Sans','Liberation Sans',sans-serif" font-size="36.8" text-anchor="end" fill="#1a1a1a" >–1.00</text>
<path d="M977.5 1798.1H980.0" stroke="#777" stroke-width="1"/>
<path d="M977.5 1854.9H980.0" stroke="#777" stroke-width="1"/>
<path d="M977.5 1911.6H980.0" stroke="#777" stroke-width="1"/>
<path d="M977.5 1968.4H980.0" stroke="#777" stroke-width="1"/>
<path d="M977.5 2025.1H980.0" stroke="#777" stroke-width="1"/>
<path d="M977.5 2081.9H980.0" stroke="#777" stroke-width="1"/>
<path d="M977.5 2138.6H980.0" stroke="#777" stroke-width="1"/>
<path d="M977.5 2195.4H980.0" stroke="#777" stroke-width="1"/>
<path d="M977.5 2252.1H980.0" stroke="#777" stroke-width="1"/>
<path d="M977.5 2308.9H980.0" stroke="#777" stroke-width="1"/>
<path d="M977.5 2365.6H980.0" stroke="#777" stroke-width="1"/>
<path d="M980.0 2037.8H1255.8" stroke="#555" stroke-width="1.3" stroke-dasharray="6.5 3.5"/>
<path d="M980.0 2422.6V2426.6" stroke="#555" stroke-width="1"/>
<text transform="translate(990.4 2433.6) rotate(-90) scale(0.95 1)" font-family="'DejaVu Sans','Liberation Sans',sans-serif" font-size="36.8" text-anchor="end" fill="#1a1a1a" >0.0</text>
<path d="M1034.8 2422.6V2426.6" stroke="#555" stroke-width="1"/>
<text transform="translate(1045.3 2433.6) rotate(-90) scale(0.95 1)" font-family="'DejaVu Sans','Liberation Sans',sans-serif" font-size="36.8" text-anchor="end" fill="#1a1a1a" >0.2</text>
<path d="M1089.7 2422.6V2426.6" stroke="#555" stroke-width="1"/>
<text transform="translate(1100.1 2433.6) rotate(-90) scale(0.95 1)" font-family="'DejaVu Sans','Liberation Sans',sans-serif" font-size="36.8" text-anchor="end" fill="#1a1a1a" >0.4</text>
<path d="M1144.5 2422.6V2426.6" stroke="#555" stroke-width="1"/>
<text transform="translate(1154.9 2433.6) rotate(-90) scale(0.95 1)" font-family="'DejaVu Sans','Liberation Sans',sans-serif" font-size="36.8" text-anchor="end" fill="#1a1a1a" >0.6</text>
<path d="M1199.4 2422.6V2426.6" stroke="#555" stroke-width="1"/>
<text transform="translate(1209.8 2433.6) rotate(-90) scale(0.95 1)" font-family="'DejaVu Sans','Liberation Sans',sans-serif" font-size="36.8" text-anchor="end" fill="#1a1a1a" >0.8</text>
<path d="M1254.2 2422.6V2426.6" stroke="#555" stroke-width="1"/>
<text transform="translate(1264.6 2433.6) rotate(-90) scale(0.95 1)" font-family="'DejaVu Sans','Liberation Sans',sans-serif" font-size="36.8" text-anchor="end" fill="#1a1a1a" >1.0</text>
<text transform="translate(1242.3 1908.9) rotate(-90)" font-family="'DejaVu Sans','Liberation Sans',sans-serif" font-size="31.6" text-anchor="end" fill="#1a1a1a" >Water</text>
<text transform="translate(1242.3 2411.6) rotate(-90)" font-family="'DejaVu Sans','Liberation Sans',sans-serif" font-size="31.6" text-anchor="start" fill="#1a1a1a" >Not water</text>
<text transform="translate(860.5 2100.4) rotate(-90)" font-family="'DejaVu Sans','Liberation Sans',sans-serif" font-size="40.3" text-anchor="middle" fill="#1a1a1a" >MNDWI</text>
<rect x="980.0" y="2529.2" width="275.8" height="652.4" fill="#ffffff" stroke="#b0b0b0" stroke-width="1.6"/>
<rect x="980.8" y="2549.6" width="8.5" height="15" fill="#1b1b73"/>
<rect x="980.8" y="2578.0" width="29.6" height="15" fill="#1b1b73"/>
<rect x="980.8" y="2606.4" width="52.6" height="15" fill="#1b1b73"/>
<rect x="980.8" y="2634.8" width="46.3" height="15" fill="#1b1b73"/>
<rect x="980.8" y="2663.1" width="42.2" height="15" fill="#1b1b73"/>
<rect x="980.8" y="2691.5" width="69.0" height="15" fill="#1b1b73"/>
<rect x="980.8" y="2719.9" width="181.8" height="15" fill="#1b1b73"/>
<rect x="980.8" y="2748.2" width="193.5" height="15" fill="#1b1b73"/>
<rect x="980.8" y="2776.6" width="24.3" height="15" fill="#1b1b73"/>
<rect x="980.8" y="2805.0" width="14.2" height="15" fill="#1b1b73"/>
<rect x="980.8" y="2833.4" width="31.2" height="15" fill="#1b1b73"/>
<rect x="980.8" y="2861.8" width="59.6" height="15" fill="#1b1b73"/>
<rect x="980.8" y="2890.1" width="128.3" height="15" fill="#1b1b73"/>
<rect x="980.8" y="2918.5" width="239.5" height="15" fill="#1b1b73"/>
<rect x="980.8" y="2946.9" width="262.2" height="15" fill="#1b1b73"/>
<rect x="980.8" y="2975.2" width="221.9" height="15" fill="#1b1b73"/>
<rect x="980.8" y="3003.6" width="187.2" height="15" fill="#1b1b73"/>
<rect x="980.8" y="3032.0" width="61.1" height="15" fill="#1b1b73"/>
<path d="M976.0 2585.5H980.0" stroke="#555" stroke-width="1"/>
<text transform="translate(971.5 2599.5) scale(0.965 1)" font-family="'DejaVu Sans','Liberation Sans',sans-serif" font-size="36.8" text-anchor="end" fill="#1a1a1a" >0.82</text>
<path d="M976.0 2642.2H980.0" stroke="#555" stroke-width="1"/>
<text transform="translate(971.5 2656.3) scale(0.965 1)" font-family="'DejaVu Sans','Liberation Sans',sans-serif" font-size="36.8" text-anchor="end" fill="#1a1a1a" >0.64</text>
<path d="M976.0 2699.0H980.0" stroke="#555" stroke-width="1"/>
<text transform="translate(971.5 2713.0) scale(0.965 1)" font-family="'DejaVu Sans','Liberation Sans',sans-serif" font-size="36.8" text-anchor="end" fill="#1a1a1a" >0.45</text>
<path d="M976.0 2755.8H980.0" stroke="#555" stroke-width="1"/>
<text transform="translate(971.5 2769.8) scale(0.965 1)" font-family="'DejaVu Sans','Liberation Sans',sans-serif" font-size="36.8" text-anchor="end" fill="#1a1a1a" >0.27</text>
<path d="M976.0 2812.5H980.0" stroke="#555" stroke-width="1"/>
<text transform="translate(971.5 2826.5) scale(0.965 1)" font-family="'DejaVu Sans','Liberation Sans',sans-serif" font-size="36.8" text-anchor="end" fill="#1a1a1a" >0.09</text>
<path d="M976.0 2869.2H980.0" stroke="#555" stroke-width="1"/>
<text transform="translate(971.5 2883.3) scale(0.965 1)" font-family="'DejaVu Sans','Liberation Sans',sans-serif" font-size="36.8" text-anchor="end" fill="#1a1a1a" >–0.09</text>
<path d="M976.0 2926.0H980.0" stroke="#555" stroke-width="1"/>
<text transform="translate(971.5 2940.0) scale(0.965 1)" font-family="'DejaVu Sans','Liberation Sans',sans-serif" font-size="36.8" text-anchor="end" fill="#1a1a1a" >–0.27</text>
<path d="M976.0 2982.8H980.0" stroke="#555" stroke-width="1"/>
<text transform="translate(971.5 2996.8) scale(0.965 1)" font-family="'DejaVu Sans','Liberation Sans',sans-serif" font-size="36.8" text-anchor="end" fill="#1a1a1a" >–0.45</text>
<path d="M976.0 3039.5H980.0" stroke="#555" stroke-width="1"/>
<text transform="translate(971.5 3053.5) scale(0.965 1)" font-family="'DejaVu Sans','Liberation Sans',sans-serif" font-size="36.8" text-anchor="end" fill="#1a1a1a" >–0.64</text>
<path d="M976.0 3096.2H980.0" stroke="#555" stroke-width="1"/>
<text transform="translate(971.5 3110.3) scale(0.965 1)" font-family="'DejaVu Sans','Liberation Sans',sans-serif" font-size="36.8" text-anchor="end" fill="#1a1a1a" >–0.82</text>
<path d="M976.0 3153.0H980.0" stroke="#555" stroke-width="1"/>
<text transform="translate(971.5 3167.0) scale(0.965 1)" font-family="'DejaVu Sans','Liberation Sans',sans-serif" font-size="36.8" text-anchor="end" fill="#1a1a1a" >–1.00</text>
<path d="M977.5 2557.1H980.0" stroke="#777" stroke-width="1"/>
<path d="M977.5 2613.9H980.0" stroke="#777" stroke-width="1"/>
<path d="M977.5 2670.6H980.0" stroke="#777" stroke-width="1"/>
<path d="M977.5 2727.4H980.0" stroke="#777" stroke-width="1"/>
<path d="M977.5 2784.1H980.0" stroke="#777" stroke-width="1"/>
<path d="M977.5 2840.9H980.0" stroke="#777" stroke-width="1"/>
<path d="M977.5 2897.6H980.0" stroke="#777" stroke-width="1"/>
<path d="M977.5 2954.4H980.0" stroke="#777" stroke-width="1"/>
<path d="M977.5 3011.1H980.0" stroke="#777" stroke-width="1"/>
<path d="M977.5 3067.9H980.0" stroke="#777" stroke-width="1"/>
<path d="M977.5 3124.6H980.0" stroke="#777" stroke-width="1"/>
<path d="M980.0 2796.8H1255.8" stroke="#555" stroke-width="1.3" stroke-dasharray="6.5 3.5"/>
<path d="M980.0 3181.6V3185.6" stroke="#555" stroke-width="1"/>
<text transform="translate(990.4 3192.6) rotate(-90) scale(0.95 1)" font-family="'DejaVu Sans','Liberation Sans',sans-serif" font-size="36.8" text-anchor="end" fill="#1a1a1a" >0.0</text>
<path d="M1040.6 3181.6V3185.6" stroke="#555" stroke-width="1"/>
<text transform="translate(1051.0 3192.6) rotate(-90) scale(0.95 1)" font-family="'DejaVu Sans','Liberation Sans',sans-serif" font-size="36.8" text-anchor="end" fill="#1a1a1a" >0.2</text>
<path d="M1101.2 3181.6V3185.6" stroke="#555" stroke-width="1"/>
<text transform="translate(1111.6 3192.6) rotate(-90) scale(0.95 1)" font-family="'DejaVu Sans','Liberation Sans',sans-serif" font-size="36.8" text-anchor="end" fill="#1a1a1a" >0.4</text>
<path d="M1161.8 3181.6V3185.6" stroke="#555" stroke-width="1"/>
<text transform="translate(1172.2 3192.6) rotate(-90) scale(0.95 1)" font-family="'DejaVu Sans','Liberation Sans',sans-serif" font-size="36.8" text-anchor="end" fill="#1a1a1a" >0.6</text>
<path d="M1222.4 3181.6V3185.6" stroke="#555" stroke-width="1"/>
<text transform="translate(1232.8 3192.6) rotate(-90) scale(0.95 1)" font-family="'DejaVu Sans','Liberation Sans',sans-serif" font-size="36.8" text-anchor="end" fill="#1a1a1a" >0.8</text>
<text transform="translate(1242.3 2545.9) rotate(-90)" font-family="'DejaVu Sans','Liberation Sans',sans-serif" font-size="31.6" text-anchor="end" fill="#1a1a1a" >Water</text>
<text transform="translate(1242.3 3170.6) rotate(-90)" font-family="'DejaVu Sans','Liberation Sans',sans-serif" font-size="31.6" text-anchor="start" fill="#1a1a1a" >Not water</text>
<text transform="translate(860.5 2859.4) rotate(-90)" font-family="'DejaVu Sans','Liberation Sans',sans-serif" font-size="40.3" text-anchor="middle" fill="#1a1a1a" >MNDWI</text>
<text x="876.5" y="3291" font-family="'DejaVu Sans','Liberation Sans',sans-serif" font-size="44.2" fill="#1a1a1a">Frequency (x 10<tspan dy="-15" font-size="30">7</tspan><tspan dy="15">)</tspan></text>
<svg x="236.0" y="259.6" width="284.0" height="656.2" viewBox="0 0 284.00 656.2" preserveAspectRatio="none" overflow="hidden"><g filter="url(#soft)">
<rect x="-5" y="-5" width="300" height="680" fill="#5e9c30"/>
<path d="M63 48.6C67.1 40.4 90.9 39.1 97.5 44.8C104.2 50.4 111.9 77.6 112.9 90.9C113.9 104.2 109.3 137 105.2 144.6C101.1 152.3 87.3 153.6 82.2 148.5C77.1 143.4 69.4 119.5 66.8 106.2C64.3 92.9 58.9 56.8 63 48.6Z" fill="#809434" filter="url(#b8)" opacity="0.7"/>
<path d="M34.2 125.4C36.7 133.1 49 165.1 53.4 183C57.7 201 64 240.2 66.8 259.9C69.6 279.6 73.5 321.5 74.5 330.9" fill="none" stroke="#70ac36" stroke-width="21.1" stroke-linecap="butt" filter="url(#b8)" opacity="0.5"/>
<use href="#inwater" fill="#18261a" filter="url(#b2)" opacity="0.8" transform="scale(1.025 1)"/>
<use href="#flood0" fill="#2c542c" filter="url(#b4)" opacity="0.45" transform="scale(1.025 1)"/>
<path d="M136 -1.3C158 -6.7 269.1 -46.4 289.6 -1.3C310.1 43.7 297.5 291.6 289.6 336.7C281.7 381.8 241.8 344.4 230.1 336.7C218.3 329 210.2 297 201.3 279.1C192.3 261.1 171 225.3 162.8 202.3C154.7 179.2 144.9 128 139.8 106.2C134.7 84.5 124.9 53.4 124.4 39C123.9 24.7 113.9 4.1 136 -1.3Z" fill="#c4e8c8" filter="url(#b16)" opacity="0.4"/>
<path d="M149.4 0.6C157.1 -0.9 172.6 -1.6 182 -1.3C191.5 -1.1 214.1 -1.6 220.5 2.5C226.9 6.6 232.6 22.5 230.1 29.4C227.5 36.3 208.9 50.5 201.3 54.4C193.6 58.2 178.1 60.3 172.4 58.2C166.8 56.2 164.9 42.9 159 39C153.1 35.2 132.9 33.3 128.3 29.4C123.7 25.6 121.6 14 124.4 10.2C127.3 6.4 141.7 2.1 149.4 0.6Z" fill="#e2f4de" filter="url(#b8)" opacity="0.75"/>
<path d="M230.1 2.5C236.2 -1.1 278.3 -4.4 285.8 2.5C293.2 9.4 289.3 48.2 285.8 54.4C282.2 60.5 265 51.9 258.9 48.6C252.7 45.3 243.5 35.6 239.7 29.4C235.8 23.3 223.9 6.1 230.1 2.5Z" fill="#c8e8aa" filter="url(#b8)" opacity="0.6"/>
<path d="M187.8 71.7C194.2 68.3 218.5 65.1 230.1 65.9C241.6 66.7 266.8 69.5 274.2 77.4C281.7 85.4 285.2 110.1 285.8 125.4C286.3 140.8 282.9 181.1 278.1 192.7C273.2 204.2 258.2 210.6 249.3 211.9C240.3 213.1 219.3 208.7 210.9 202.3C202.4 195.9 190.8 174.1 185.9 163.8C181 153.6 174.9 135.2 174.4 125.4C173.9 115.7 180.3 98 182 90.9C183.8 83.7 181.4 75 187.8 71.7Z" fill="#ccf4e2" filter="url(#b8)" opacity="0.85"/>
<path d="M143.6 67.8C146.2 65.8 158.7 67.6 162.8 71.7C166.9 75.8 173.3 92.4 174.4 98.5C175.4 104.7 173.1 116.2 170.5 117.8C168 119.3 158.7 114.2 155.2 110.1C151.6 106 145.2 92.7 143.6 87C142.1 81.4 141.1 69.9 143.6 67.8Z" fill="#d6f0e4" filter="url(#b4)" opacity="0.85"/>
<path d="M147.5 129.3C146.2 128.8 165 128.5 168.6 133.1C172.2 137.7 171 156.7 174.4 163.8C177.7 171 189.5 179.2 193.6 186.9C197.7 194.6 200.2 214.8 205.1 221.5C210 228.1 228 239.4 230.1 236.8C232.1 234.3 225.6 212.5 220.5 202.3C215.3 192 197.3 168.7 191.7 160C186 151.3 184.1 141.1 178.2 137C172.3 132.9 148.8 129.8 147.5 129.3Z" fill="#cef0e0" filter="url(#b8)" opacity="0.7"/>
<path d="M205.1 244.5C209.4 240.7 232 243.1 239.7 246.4C247.3 249.8 260.1 261.3 262.7 269.5C265.3 277.7 263.2 303.5 258.9 307.9C254.5 312.2 237 306.5 230.1 302.1C223.1 297.8 210.3 282.9 207 275.2C203.7 267.6 200.7 248.3 205.1 244.5Z" fill="#baf0de" filter="url(#b8)" opacity="0.85"/>
<path d="M258.9 183C260.9 176.6 282.2 167 285.8 173.4C289.3 179.8 287.8 224.7 285.8 231.1C283.7 237.5 274 227.9 270.4 221.5C266.8 215.1 256.8 189.5 258.9 183Z" fill="#c8f0dc" filter="url(#b8)" opacity="0.7"/>
<ellipse cx="86" cy="40.9" rx="4" ry="4" fill="#e8f4aa" filter="url(#b2)" opacity="0.85"/>
<ellipse cx="93.7" cy="58.2" rx="3.5" ry="3.5" fill="#e8f4aa" filter="url(#b2)" opacity="0.85"/>
<ellipse cx="105.2" cy="37.1" rx="3.5" ry="3.5" fill="#e8f4aa" filter="url(#b2)" opacity="0.85"/>
<ellipse cx="116.8" cy="71.7" rx="3.5" ry="3.5" fill="#e8f4aa" filter="url(#b2)" opacity="0.85"/>
<ellipse cx="124.4" cy="94.7" rx="4" ry="4" fill="#e8f4aa" filter="url(#b2)" opacity="0.85"/>
<ellipse cx="120.6" cy="106.2" rx="3.5" ry="3.5" fill="#e8f4aa" filter="url(#b2)" opacity="0.85"/>
<ellipse cx="109.1" cy="75.5" rx="3" ry="3" fill="#e8f4aa" filter="url(#b2)" opacity="0.85"/>
<ellipse cx="136" cy="144.6" rx="4" ry="4" fill="#e8f4aa" filter="url(#b2)" opacity="0.85"/>
<ellipse cx="124.4" cy="137" rx="3.5" ry="3.5" fill="#e8f4aa" filter="url(#b2)" opacity="0.85"/>
<ellipse cx="112.9" cy="163.8" rx="3" ry="3" fill="#e8f4aa" filter="url(#b2)" opacity="0.85"/>
<ellipse cx="82.2" cy="171.5" rx="4.5" ry="4.5" fill="#e8f4aa" filter="url(#b2)" opacity="0.85"/>
<ellipse cx="80.3" cy="179.2" rx="3.5" ry="3.5" fill="#e8f4aa" filter="url(#b2)" opacity="0.85"/>
<ellipse cx="63" cy="8.3" rx="3.5" ry="3.5" fill="#e8f4aa" filter="url(#b2)" opacity="0.85"/>
<ellipse cx="78.3" cy="12.1" rx="3" ry="3" fill="#e8f4aa" filter="url(#b2)" opacity="0.85"/>
<ellipse cx="128.3" cy="48.6" rx="3" ry="3" fill="#e8f4aa" filter="url(#b2)" opacity="0.85"/>
<ellipse cx="97.5" cy="106.2" rx="2.5" ry="2.5" fill="#e8f4aa" filter="url(#b2)" opacity="0.85"/>
<ellipse cx="132.1" cy="110.1" rx="3" ry="3" fill="#e8f4aa" filter="url(#b2)" opacity="0.85"/>
<ellipse cx="172.4" cy="229.1" rx="3.5" ry="3.5" fill="#e8f4aa" filter="url(#b2)" opacity="0.85"/>
<ellipse cx="239.7" cy="327.1" rx="4.5" ry="4.5" fill="#e8f4aa" filter="url(#b2)" opacity="0.85"/>
<ellipse cx="182" cy="269.5" rx="3" ry="3" fill="#e8f4aa" filter="url(#b2)" opacity="0.85"/>
<path d="M162.8 269.5C169.2 264.3 194.9 272.7 201.3 279.1C207.7 285.5 213.4 309.8 210.9 317.5C208.3 325.2 189.7 336.7 182 336.7C174.4 336.7 155.8 326.4 153.2 317.5C150.7 308.5 156.4 274.6 162.8 269.5Z" fill="#3c6832" filter="url(#b8)" opacity="0.6"/>
<path d="M124.4 349.8C131.6 339.6 166.7 336.4 182 340.2C197.4 344 230.7 367.9 239.7 378.6C248.6 389.4 256.9 414.2 249.3 420.9C241.6 427.5 198.2 429.1 182 428.5C165.9 428 136 427.5 128.3 417C120.6 406.5 117.3 360 124.4 349.8Z" fill="#42703a" filter="url(#b16)" opacity="0.6"/>
<path d="M114.8 470.8C123 462.9 162.8 462.6 182 463.1C201.3 463.6 246.1 465.4 258.9 474.6C271.7 483.9 283.2 519.5 278.1 532.3C273 545.1 238.4 566.8 220.5 570.7C202.5 574.5 157 567.5 143.6 561.1C130.3 554.7 124.4 534.7 120.6 522.7C116.8 510.6 106.6 478.7 114.8 470.8Z" fill="#3e6c3c" filter="url(#b16)" opacity="0.7"/>
<path d="M128.3 536.1C132.4 534.3 156.2 537.8 162.8 541.9C169.5 546 180.3 563 178.2 566.8C176.2 570.7 153.6 572.2 147.5 570.7C141.3 569.1 134.7 559.9 132.1 555.3C129.6 550.7 124.2 537.9 128.3 536.1Z" fill="#283c1e" filter="url(#b4)" opacity="0.8"/>
<path d="M220.5 576.4C222.3 572.8 233.5 571.4 235.8 574.5C238.1 577.6 239.5 595.9 237.7 599.5C236 603.1 224.7 604.5 222.4 601.4C220.1 598.3 218.7 580 220.5 576.4Z" fill="#243c1e" filter="url(#b4)" opacity="0.8"/>
<ellipse cx="151.3" cy="384.4" rx="13.4" ry="32.6" fill="#c4eace" filter="url(#b4)" opacity="0.7"/>
<ellipse cx="189.7" cy="394" rx="9.6" ry="7.7" fill="#c4eace" filter="url(#b4)" opacity="0.7"/>
<ellipse cx="182" cy="332.5" rx="9.6" ry="9.6" fill="#c4eace" filter="url(#b4)" opacity="0.7"/>
<ellipse cx="258.9" cy="359.4" rx="9.6" ry="17.3" fill="#c4eace" filter="url(#b4)" opacity="0.7"/>
<ellipse cx="274.2" cy="401.7" rx="7.7" ry="11.5" fill="#c4eace" filter="url(#b4)" opacity="0.7"/>
<ellipse cx="174.4" cy="528.4" rx="9.6" ry="11.5" fill="#c4eace" filter="url(#b4)" opacity="0.7"/>
<ellipse cx="189.7" cy="551.5" rx="9.6" ry="6.9" fill="#c4eace" filter="url(#b4)" opacity="0.7"/>
<ellipse cx="220.5" cy="522.7" rx="7.7" ry="9.6" fill="#c4eace" filter="url(#b4)" opacity="0.7"/>
<ellipse cx="162.8" cy="505.4" rx="5.8" ry="11.5" fill="#c4eace" filter="url(#b4)" opacity="0.7"/>
<ellipse cx="201.3" cy="580.3" rx="13.4" ry="9.6" fill="#c4eace" filter="url(#b4)" opacity="0.7"/>
<ellipse cx="216.6" cy="626.4" rx="11.5" ry="9.6" fill="#c4eace" filter="url(#b4)" opacity="0.7"/>
<ellipse cx="258.9" cy="595.6" rx="9.6" ry="11.5" fill="#c4eace" filter="url(#b4)" opacity="0.7"/>
<ellipse cx="230.1" cy="647.5" rx="17.3" ry="9.6" fill="#c4eace" filter="url(#b4)" opacity="0.7"/>
<ellipse cx="268.5" cy="636" rx="11.5" ry="11.5" fill="#c4eace" filter="url(#b4)" opacity="0.7"/>
<ellipse cx="197.4" cy="609.1" rx="7.7" ry="7.7" fill="#c4eace" filter="url(#b4)" opacity="0.7"/>
<ellipse cx="182" cy="636" rx="7.7" ry="7.7" fill="#c4eace" filter="url(#b4)" opacity="0.7"/>
<use href="#ocean" fill="#0e1410" transform="scale(1.025 1)"/>
<g clip-path="url(#oceanclipR)">
<path d="M-2.3 -1.3C3.3 -15.7 33.3 -8 39.9 -1.3C46.6 5.3 47.1 33.3 47.6 48.6C48.1 64 47.4 103.7 43.8 113.9C40.2 124.2 26.9 126.5 20.7 125.4C14.6 124.4 0.8 123.1 -2.3 106.2C-5.4 89.3 -8 13 -2.3 -1.3Z" fill="#3a5024" filter="url(#b8)" opacity="0.8"/>
<path d="M3.4 -1.3C6 7.9 18.7 50.9 22.6 67.8C26.6 84.7 29.9 113.1 33.2 125.4C36.5 137.7 44.3 149.8 47.6 160C50.9 170.2 55.6 188.9 58.2 202.3C60.7 215.6 64.7 242.7 66.8 259.9C68.9 277 73 321.5 73.9 330.9" fill="none" stroke="#2c4624" stroke-width="17.3" stroke-linecap="butt" filter="url(#b8)" opacity="0.55"/>
<path d="M-2.3 125.4C2.8 97.8 28.7 121.6 36.1 129.3C43.5 137 49.3 163.1 53.4 183C57.5 203 64.5 258.6 66.8 279.1C69.1 299.6 79.9 329 70.7 336.7C61.4 344.4 7.4 364.9 -2.3 336.7C-12 308.5 -7.4 153.1 -2.3 125.4Z" fill="#243028" filter="url(#b16)" opacity="0.8"/>
<path d="M-2.3 313.3C7.7 296.4 61.3 304.6 72.6 313.3C83.8 322 79.9 362.2 82.2 378.6C84.5 395 101.1 428 89.9 436.2C78.6 444.4 10 456.5 -2.3 440.1C-14.6 423.7 -12.3 330.2 -2.3 313.3Z" fill="#283630" filter="url(#b16)" opacity="0.8"/>
<path d="M-2.3 478.5C11 471.8 82.2 470 97.5 474.6C112.9 479.2 112.9 505.9 112.9 513C112.9 520.2 112.9 526.9 97.5 528.4C82.2 529.9 11 531.2 -2.3 524.6C-15.6 517.9 -15.6 485.1 -2.3 478.5Z" fill="#28544e" filter="url(#b16)" opacity="0.75"/>
</g>
<path d="M-13.8 476.9C-11.9 476.6 -6 476.2 0.9 474.6C7.9 473.1 29.2 467.4 38 465.4C46.8 463.4 52.7 461.5 66.8 459.7C80.9 457.9 123.2 454.1 143.6 452C164.1 449.9 201 446.7 220.5 443.9C239.9 441.2 280.4 433.1 289.6 431.4" fill="none" stroke="#38968a" stroke-width="28.8" stroke-linecap="butt" filter="url(#b8)" opacity="0.6"/>
<path d="M-13.8 476.9C-11.9 476.6 -6 476.2 0.9 474.6C7.9 473.1 29.2 467.4 38 465.4C46.8 463.4 52.7 461.5 66.8 459.7C80.9 457.9 123.2 454.1 143.6 452C164.1 449.9 201 446.7 220.5 443.9C239.9 441.2 280.4 433.1 289.6 431.4" fill="none" stroke="#54b09e" stroke-width="10.8" stroke-linecap="butt" filter="url(#b4)" opacity="0.5"/>
</g></svg>
<svg x="533.0" y="259.6" width="276.4" height="656.2" viewBox="0 0 277.00 656.2" preserveAspectRatio="none" overflow="hidden"><g filter="url(#soft)">
<rect x="-5" y="-5" width="300" height="680" fill="#7ca289"/>
<path d="M145.3 2.5C163.8 -8.7 261.9 -26.7 279.8 2.5C297.7 31.7 287.5 194.4 279.8 221.5C272.1 248.7 236.5 215.4 222.2 206.1C207.8 196.9 183 168.2 172.2 152.4C161.5 136.5 145.1 107 141.5 87C137.9 67.1 126.9 13.8 145.3 2.5Z" fill="#587080" filter="url(#b16)" opacity="0.75"/>
<path d="M133.8 229.2C155.8 216.9 260.3 176.4 279.8 206.1C299.2 235.8 296.7 417.7 279.8 452C262.9 486.3 176.1 468.7 153 463.5C130 458.4 112 435.6 106.9 413.6C101.8 391.6 111 322.9 114.6 298.3C118.2 273.8 111.8 241.5 133.8 229.2Z" fill="#546c80" filter="url(#b16)" opacity="0.8"/>
<path d="M114.6 471.2C135.6 462 257.8 446.9 279.8 459.7C301.8 472.5 294.1 552.9 279.8 567.3C265.4 581.6 193.2 572.4 172.2 567.3C151.2 562.1 130 541.6 122.3 528.8C114.6 516 93.6 480.4 114.6 471.2Z" fill="#607a82" filter="url(#b16)" opacity="0.6"/>
<use href="#flood0" fill="#42547c" filter="url(#b2)" opacity="0.65" />
<use href="#inwater" fill="#3c4a7a" filter="url(#b2)" opacity="0.6" />
<use href="#ocean" fill="#4c608a" />
<g clip-path="url(#oceanclip)">
<path d="M-8.3 -9C2.9 -24.4 67 -16.7 76.2 -9C85.4 -1.3 65.9 35.3 60.8 48.6C55.7 61.9 47 83.2 37.8 90.9C28.5 98.6 -2.2 119.6 -8.3 106.3C-14.5 92.9 -19.6 6.4 -8.3 -9Z" fill="#70908c" filter="url(#b16)" opacity="0.85"/>
<path d="M-4.5 106.3C1.1 99.6 29 96.3 37.8 102.4C46.5 108.6 60.8 143.1 60.8 152.4C60.8 161.6 46.5 171.6 37.8 171.6C29 171.6 1.1 161.1 -4.5 152.4C-10.1 143.6 -10.1 112.9 -4.5 106.3Z" fill="#384680" filter="url(#b8)" opacity="0.7"/>
<ellipse cx="30.1" cy="336.8" rx="34.6" ry="42.3" fill="#5c748c" filter="url(#b16)" opacity="0.6"/>
<ellipse cx="57" cy="621" rx="42.3" ry="23.1" fill="#627a8c" filter="url(#b16)" opacity="0.7"/>
<ellipse cx="14.7" cy="509.6" rx="30.7" ry="69.2" fill="#425486" filter="url(#b16)" opacity="0.6"/>
</g>
<path d="M-4.5 460.5C6.3 460.1 52.6 459.4 76.2 457.8C99.7 456.1 145.1 450.7 172.2 448.2C199.4 445.6 265.4 439.8 279.8 438.6" fill="none" stroke="#465880" stroke-width="26.9" stroke-linecap="butt" filter="url(#b8)" opacity="0.75"/>
<use href="#cloud0" fill="#ffffff" filter="url(#rough)"/>
</g></svg>
<rect x="533.0" y="259.6" width="276.4" height="656.2" fill="none" stroke="#666666" stroke-width="1.4"/>
<path d="M569.0 259.6v4M560.5 915.8v-4M671.8 259.6v4M663.3 915.8v-4M774.6 259.6v4M766.1 915.8v-4M533.0 296.6h4M809.4 301.1h-4M533.0 434.2h4M809.4 438.7h-4M533.0 571.8h4M809.4 576.3h-4M533.0 709.4h4M809.4 713.9h-4M533.0 847.0h4M809.4 851.5h-4" stroke="#444" stroke-width="1.1" fill="none"/>
<svg x="1401.3" y="259.6" width="275.9" height="656.2" viewBox="0 0 277.00 656.2" preserveAspectRatio="none" overflow="hidden"><g filter="url(#soft)">
<rect x="-5" y="-5" width="300" height="680" fill="#8fbc8f"/>
<clipPath id="bwiA"><path d="M-11 88C-9.5 8.6 -2.8 86.4 0.5 87C3.9 87.7 10.4 92.3 14 92.8C17.6 93.3 25.2 93.7 27.4 90.9C29.6 88 29 79.9 30.3 71.7C31.6 63.5 34.1 34.3 37 29.4C40 24.5 48 27.5 52.4 35.2C56.7 42.9 62.7 72.4 69.7 87C76.6 101.6 91.9 131.8 104.2 144.6C116.5 157.4 151.6 158.2 161.8 183C172.1 207.9 178.5 264.3 181 330.9C183.6 397.5 206.7 635.5 181 682.4C155.4 729.2 14.6 761.6 -11 682.4C-36.6 603.1 -12.5 167.4 -11 88Z"/></clipPath>
<g clip-path="url(#bwiA)">
<use href="#ocean" fill="#1b1b75"/>
<use href="#inwater" fill="#1b1b75"/>
</g>
<g clip-path="url(#oceanclip)"><path d="M-3.3 64C0 60.4 17.6 64.2 21.6 67.8C25.7 71.4 30.7 87.3 27.4 90.9C24.1 94.5 0.8 98.3 -3.3 94.7C-7.4 91.1 -6.6 67.6 -3.3 64Z" fill="#1b1b75" filter="url(#spk3)"/><path d="M2.4 17.9C3.6 16.4 11.5 18 13 19.8C14.5 21.6 15.1 29.8 14 31.3C12.8 32.9 5.9 33.1 4.4 31.3C2.8 29.5 1.3 19.4 2.4 17.9Z" fill="#1b1b75" filter="url(#spk3)"/><path d="M-0.4 142.7C1.9 135.3 14.1 136.1 17.8 138.9C21.5 141.7 25.9 156.7 27.4 163.8C28.9 171 30.6 187.3 29.3 192.7C28 198 21.6 203.9 17.8 204.2C14 204.4 3 202.8 0.5 194.6C-1.9 186.4 -2.7 150.1 -0.4 142.7Z" fill="#b9d6c4" filter="url(#spk3)"/><path d="M38.9 620.6C41 618 50.6 614.7 56.2 616.8C61.9 618.8 76.3 630.3 81.2 636C86 641.6 96.8 655.9 92.7 659C88.6 662.1 57.4 662.1 50.5 659C43.5 655.9 42.4 641.1 40.9 636C39.3 630.8 36.9 623.2 38.9 620.6Z" fill="#8fbc8f" filter="url(#spk1)"/></g>
<use href="#speck0" fill="#1b1b75" filter="url(#spk1)"/>
<g filter="url(#rough)"><use href="#flood0" fill="#1b1b75"/>
<use href="#cloud0" fill="#ffffff"/></g>
</g></svg>
<rect x="1401.3" y="259.6" width="275.9" height="656.2" fill="none" stroke="#666666" stroke-width="1.4"/>
<path d="M1437.3 259.6v4M1428.8 915.8v-4M1540.1 259.6v4M1531.6 915.8v-4M1642.9 259.6v4M1634.4 915.8v-4M1401.3 296.6h4M1677.2 301.1h-4M1401.3 434.2h4M1677.2 438.7h-4M1401.3 571.8h4M1677.2 576.3h-4M1401.3 709.4h4M1677.2 713.9h-4M1401.3 847.0h4M1677.2 851.5h-4" stroke="#444" stroke-width="1.1" fill="none"/>
<svg x="1691.4" y="259.6" width="275.6" height="656.2" viewBox="0 0 277.00 656.2" preserveAspectRatio="none" overflow="hidden"><g filter="url(#soft)">
<rect x="-5" y="-5" width="300" height="680" fill="#d6d6d6"/>
<use href="#canals" stroke="#8fa6bd" stroke-width="0.9"/>
<use href="#ocean" fill="#4783b6" stroke="#c9dcf0" stroke-width="2"/>
<use href="#inwater" fill="#4783b6"/>
</g></svg>
<rect x="1691.4" y="259.6" width="275.6" height="656.2" fill="none" stroke="#666666" stroke-width="1.4"/>
<path d="M1727.4 259.6v4M1718.9 915.8v-4M1830.2 259.6v4M1821.7 915.8v-4M1933.0 259.6v4M1924.5 915.8v-4M1691.4 296.6h4M1967.0 301.1h-4M1691.4 434.2h4M1967.0 438.7h-4M1691.4 571.8h4M1967.0 576.3h-4M1691.4 709.4h4M1967.0 713.9h-4M1691.4 847.0h4M1967.0 851.5h-4" stroke="#444" stroke-width="1.1" fill="none"/>
<svg x="1982.3" y="259.6" width="275.0" height="656.2" viewBox="0 0 277.00 656.2" preserveAspectRatio="none" overflow="hidden"><g filter="url(#soft)">
<rect x="-5" y="-5" width="300" height="680" fill="#d6d6d6"/>
<use href="#canals" stroke="#8fa6bd" stroke-width="0.9"/>
<use href="#ocean" fill="#4783b6" stroke="#c9dcf0" stroke-width="2"/>
<use href="#inwater" fill="#4783b6"/>
<use href="#speck0" fill="#c22022" filter="url(#spk1)"/>
<g filter="url(#rough)"><use href="#flood0" fill="#c22022"/>
<use href="#cloud0" fill="#ffffff"/></g>
</g></svg>
<rect x="1982.3" y="259.6" width="275.0" height="656.2" fill="none" stroke="#666666" stroke-width="1.4"/>
<path d="M2018.3 259.6v4M2009.8 915.8v-4M2121.1 259.6v4M2112.6 915.8v-4M2223.9 259.6v4M2215.4 915.8v-4M1982.3 296.6h4M2257.3 301.1h-4M1982.3 434.2h4M2257.3 438.7h-4M1982.3 571.8h4M2257.3 576.3h-4M1982.3 709.4h4M2257.3 713.9h-4M1982.3 847.0h4M2257.3 851.5h-4" stroke="#444" stroke-width="1.1" fill="none"/>
<svg x="236.0" y="1012.6" width="284.0" height="657.0" viewBox="0 0 284.00 657.0" preserveAspectRatio="none" overflow="hidden"><g filter="url(#soft)">
<rect x="-5" y="-5" width="300" height="680" fill="#5cb02c"/>
<path d="M197.4 30C202.5 27.4 228.9 23.6 239.7 26.2C250.4 28.7 271.9 42.3 278.1 49.2C284.2 56.1 288.3 75.5 285.8 78C283.2 80.6 266.3 72.3 258.9 68.4C251.4 64.6 237.7 52.3 230.1 49.2C222.4 46.1 205.6 47.9 201.3 45.4C196.9 42.8 192.3 32.6 197.4 30Z" fill="#386022" filter="url(#b8)" opacity="0.75"/>
<path d="M182 103C183.6 100.2 198.2 99 201.3 101.1C204.3 103.1 206.6 115.5 205.1 118.4C203.6 121.2 192.8 124.2 189.7 122.2C186.7 120.1 180.5 105.8 182 103Z" fill="#386424" filter="url(#b8)" opacity="0.7"/>
<path d="M212.8 110.7C214.3 108.1 224.4 110.9 226.2 114.5C228 118.1 227.8 135 226.2 137.6C224.7 140.1 216.5 137.3 214.7 133.7C212.9 130.1 211.2 113.2 212.8 110.7Z" fill="#3c6828" filter="url(#b8)" opacity="0.6"/>
<path d="M178.2 256.6C182.8 254.6 202 255.9 205.1 260.5C208.2 265.1 205.4 285.6 201.3 291.2C197.2 296.8 178.5 304.8 174.4 302.7C170.3 300.7 170 282 170.5 275.8C171 269.7 173.6 258.7 178.2 256.6Z" fill="#325424" filter="url(#b8)" opacity="0.7"/>
<path d="M174.4 306.6C178.5 303.5 201 306.8 205.1 310.4C209.2 314 209.2 330.4 205.1 333.4C201 336.5 178.5 337 174.4 333.4C170.3 329.9 170.3 309.6 174.4 306.6Z" fill="#28461e" filter="url(#b8)" opacity="0.7"/>
<path d="M205.1 60.7C212.8 54.1 249.7 52.8 258.9 56.9C268.1 61 274.2 80.7 274.2 91.5C274.2 102.2 266 130.4 258.9 137.6C251.7 144.7 228.1 149.3 220.5 145.2C212.8 141.1 203.3 118.1 201.3 106.8C199.2 95.6 197.4 67.4 205.1 60.7Z" fill="#78ce9c" filter="url(#b8)" opacity="0.55"/>
<path d="M89.9 129.9C95 126.8 118.3 124 124.4 126C130.6 128.1 138.5 141.1 136 145.2C133.4 149.3 111.9 156.3 105.2 156.8C98.6 157.3 88.1 152.7 86 149.1C84 145.5 84.7 132.9 89.9 129.9Z" fill="#82c8a0" filter="url(#b8)" opacity="0.5"/>
<path d="M120.6 409.9C126 400.2 152.1 403.8 162.8 402.3C173.6 400.7 192.3 397.9 201.3 398.4C210.2 398.9 227.5 400 230.1 406.1C232.6 412.2 224.3 437.9 220.5 444.5C216.6 451.2 205.9 452.4 201.3 456C196.6 459.6 184.6 466.3 185.9 471.4C187.2 476.5 201.1 490.9 210.9 494.4C220.6 498 253 495.2 258.9 498.3C264.8 501.4 258.1 512.9 255 517.5C252 522.1 238.4 523.1 235.8 532.9C233.3 542.6 240.4 581.3 235.8 590.5C231.2 599.7 210 604.6 201.3 602C192.5 599.4 179.2 576.9 170.5 571.3C161.8 565.6 142.1 564.9 136 559.7C129.8 554.6 124.9 539 124.4 532.9C123.9 526.7 132.4 521.3 132.1 513.6C131.9 506 124.1 489.1 122.5 475.2C121 461.4 115.2 419.7 120.6 409.9Z" fill="#243e1e" filter="url(#b4)" opacity="0.85"/>
<path d="M174.4 333.1C177.4 326.5 196.1 325.7 201.3 329.3C206.4 332.9 212.8 352.6 212.8 360C212.8 367.4 205.9 382.4 201.3 385C196.6 387.5 181.8 386.1 178.2 379.2C174.6 372.3 171.3 339.8 174.4 333.1Z" fill="#2c4c22" filter="url(#b4)" opacity="0.7"/>
<use href="#speck1" fill="#1e361c" filter="url(#b2)" opacity="0.35" transform="scale(1.025 1)"/>
<g mask="url(#southBm)">
<use href="#inwater" fill="#0e121e" filter="url(#b1)" opacity="0.97" transform="scale(1.025 1)"/>
</g>
<use href="#inwater" fill="#2c5028" filter="url(#b2)" opacity="0.45" transform="scale(1.025 1)"/>
<use href="#ocean" fill="#06060a" transform="scale(1.025 1)"/>
<path d="M-10 -8.4C8.4 -26.3 108.3 -16.1 128.3 -8.4C148.2 -0.7 139.8 33.3 139.8 49.2C139.8 65.1 131.3 95.3 128.3 110.7C125.2 126 116.8 152.2 116.8 164.4C116.8 176.7 130.8 195.9 128.3 202.9C125.7 209.8 105 217.8 97.5 216.3C90.1 214.8 78.7 198.2 72.6 191.3C66.4 184.4 57.3 171.6 51.5 164.4C45.6 157.3 36.6 142.7 28.4 137.6C20.2 132.4 -4.9 145.5 -10 126C-15.1 106.6 -28.4 9.5 -10 -8.4Z" fill="#acc8a8" filter="url(#b16)" opacity="0.9"/>
<path d="M1.5 39.6C9.7 28.3 57.9 25.7 70.7 30C83.5 34.4 94.5 57.9 97.5 72.3C100.6 86.6 99.3 126.3 93.7 137.6C88.1 148.8 66.6 159.8 55.3 156.8C44 153.7 16.4 130.1 9.2 114.5C2 98.9 -6.7 50.9 1.5 39.6Z" fill="#cedcc8" filter="url(#b16)" opacity="0.65"/>
<path d="M-10 145.2C-6.9 135 6.4 150.6 13 156.8C19.7 162.9 33.3 180.6 39.9 191.3C46.6 202.1 58.9 225.1 63 237.4C67.1 249.7 71.9 278.6 70.7 283.5C69.4 288.4 59 279 53.4 273.9C47.7 268.8 36.9 250.5 28.4 245.1C20 239.7 -4.9 246.9 -10 233.6C-15.1 220.3 -13.1 155.5 -10 145.2Z" fill="#1e1e20" filter="url(#b8)" opacity="0.9"/>
<path d="M-10 241.3C-6.2 229.2 12.4 241.9 18.8 247C25.2 252.1 33.4 267.6 38 279.7C42.6 291.7 59.8 329.6 53.4 337.3C47 345 -1.5 350.1 -10 337.3C-18.5 324.5 -13.8 253.3 -10 241.3Z" fill="#b2cccc" filter="url(#b8)" opacity="0.9"/>
<g clip-path="url(#oceanclipBR)">
<path d="M-10 313.9C-1.5 290.9 42.1 307.8 53.4 313.9C64.6 320.1 70.9 346.2 74.5 360C78.1 373.8 80.3 402.3 80.3 417.6C80.3 433 78.9 465 74.5 475.2C70.1 485.5 58.9 492.9 47.6 494.4C36.3 496 -2.3 510.8 -10 486.8C-17.7 462.7 -18.5 337 -10 313.9Z" fill="#70726c" filter="url(#b16)" opacity="0.9"/>
<path d="M1.5 333.1C6.1 326.5 33.8 323.1 39.9 329.3C46.1 335.4 49.2 369.5 47.6 379.2C46.1 388.9 34 402.3 28.4 402.3C22.8 402.3 8.9 388.4 5.4 379.2C1.8 370 -3.1 339.8 1.5 333.1Z" fill="#aab0aa" filter="url(#b8)" opacity="0.6"/>
<path d="M59.1 413.8C61.7 410.2 74.2 412 78.3 417.6C82.4 423.3 90.4 449.4 89.9 456C89.4 462.7 78.6 469.1 74.5 467.6C70.4 466 61.2 451.7 59.1 444.5C57.1 437.3 56.6 417.4 59.1 413.8Z" fill="#282a28" filter="url(#b8)" opacity="0.7"/>
</g>
<ellipse cx="153.2" cy="531.9" rx="14.4" ry="5.8" fill="#f4faf0" filter="url(#b2)" opacity="0.95" transform="rotate(15 153.2 531.9)"/>
<ellipse cx="184" cy="590.5" rx="11.5" ry="17.3" fill="#f4faf0" filter="url(#b2)" opacity="0.95" transform="rotate(-20 184 590.5)"/>
<ellipse cx="193.6" cy="609.7" rx="7.7" ry="9.6" fill="#f4faf0" filter="url(#b2)" opacity="0.95"/>
<ellipse cx="241.6" cy="381.1" rx="7.7" ry="4.2" fill="#f4faf0" filter="url(#b2)" opacity="0.95"/>
<ellipse cx="274.2" cy="384" rx="8.6" ry="5" fill="#f4faf0" filter="url(#b2)" opacity="0.95"/>
<ellipse cx="118.7" cy="402.3" rx="4.6" ry="17.3" fill="#f4faf0" filter="url(#b2)" opacity="0.95"/>
<ellipse cx="112.9" cy="333.1" rx="3.5" ry="5.8" fill="#f4faf0" filter="url(#b2)" opacity="0.95"/>
<ellipse cx="210.9" cy="638.5" rx="5.8" ry="3.8" fill="#f4faf0" filter="url(#b2)" opacity="0.95"/>
<ellipse cx="256.9" cy="440.7" rx="3.8" ry="5.8" fill="#f4faf0" filter="url(#b2)" opacity="0.95"/>
<ellipse cx="237.7" cy="344.6" rx="3.5" ry="3.1" fill="#f4faf0" filter="url(#b2)" opacity="0.95"/>
<ellipse cx="136" cy="118.4" rx="5.8" ry="6.5" fill="#ecf6dc" filter="url(#b2)" opacity="0.9"/>
<ellipse cx="149.4" cy="43.5" rx="3.8" ry="4.6" fill="#ecf6dc" filter="url(#b2)" opacity="0.9"/>
<ellipse cx="143.6" cy="91.5" rx="3.1" ry="3.1" fill="#ecf6dc" filter="url(#b2)" opacity="0.9"/>
<ellipse cx="182" cy="202.9" rx="7.7" ry="7.7" fill="#ecf6dc" filter="url(#b2)" opacity="0.9"/>
<ellipse cx="207" cy="233.6" rx="5.8" ry="5.8" fill="#ecf6dc" filter="url(#b2)" opacity="0.9"/>
<ellipse cx="237.7" cy="264.3" rx="5.8" ry="4.6" fill="#ecf6dc" filter="url(#b2)" opacity="0.9"/>
<ellipse cx="249.3" cy="275.8" rx="5" ry="4.2" fill="#ecf6dc" filter="url(#b2)" opacity="0.9"/>
<ellipse cx="109.1" cy="318.1" rx="3.8" ry="5.8" fill="#ecf6dc" filter="url(#b2)" opacity="0.9"/>
<ellipse cx="222.4" cy="187.5" rx="3.1" ry="2.7" fill="#ecf6dc" filter="url(#b2)" opacity="0.9"/>
<path d="M159 628.1C159 628.1 289.6 656.7 289.6 656.7C289.6 656.7 289.6 671.1 289.6 671.1C289.6 671.1 159 671.1 159 671.1C159 671.1 159 628.1 159 628.1Z" fill="#020204"/>
</g></svg>
<svg x="531.3" y="1012.6" width="275.9" height="657.0" viewBox="0 0 277.00 657.0" preserveAspectRatio="none" overflow="hidden"><g filter="url(#soft)">
<rect x="-5" y="-5" width="300" height="680" fill="#7aa480"/>
<path d="M172.2 49.2C185 33.9 265.4 21.1 279.8 49.2C294.1 77.4 286.4 234.9 279.8 260.5C273.1 286.1 242.6 254.1 229.8 241.3C217 228.5 191.4 190.1 183.7 164.5C176.1 138.9 159.4 64.6 172.2 49.2Z" fill="#688c80" filter="url(#b16)" opacity="0.6"/>
<use href="#speck1" fill="#283270" filter="url(#b2)" opacity="0.55" />
<use href="#flood1" fill="#242c6e" filter="url(#b2)" opacity="0.7" />
<g mask="url(#southBm)">
<use href="#inwater" fill="#22286c" filter="url(#b2)" opacity="0.9" />
</g>
<use href="#inwater" fill="#465a7c" filter="url(#b2)" opacity="0.5" />
<use href="#ocean" fill="#688686" />
<g clip-path="url(#oceanclipB)">
<path d="M-8.3 471.8C2.9 447.7 59.8 461.6 76.2 464.1C92.6 466.7 101.8 466.9 114.6 491C127.4 515.1 188.6 624.2 172.2 644.7C155.8 665.2 15.7 667.7 -8.3 644.7C-32.4 621.6 -19.6 495.9 -8.3 471.8Z" fill="#343e7a" filter="url(#b16)" opacity="0.95"/>
<path d="M-8.3 164.5C-4.2 154.7 15.2 164.5 22.4 172.2C29.6 179.8 43.4 211.3 45.4 222.1C47.5 232.9 44.9 249.8 37.8 252.8C30.6 255.9 -2.2 256.9 -8.3 245.2C-14.5 233.4 -12.4 174.2 -8.3 164.5Z" fill="#323c76" filter="url(#b8)" opacity="0.85"/>
<path d="M-8.3 260.5C-2.2 235.9 28.5 258 37.8 268.2C47 278.4 60.8 312.8 60.8 337.4C60.8 361.9 47 437.2 37.8 452.6C28.5 468 -2.2 478.2 -8.3 452.6C-14.5 427 -14.5 285.1 -8.3 260.5Z" fill="#587084" filter="url(#b16)" opacity="0.7"/>
</g>
<use href="#nodataB" fill="#6e888c" />
<g filter="url(#rough)">
<use href="#cloud1" fill="#ffffff" />
<use href="#ocloud1" fill="#ffffff" />
</g>
</g></svg>
<rect x="531.3" y="1012.6" width="275.9" height="657.0" fill="none" stroke="#666666" stroke-width="1.4"/>
<path d="M567.3 1012.6v4M558.8 1669.6v-4M670.1 1012.6v4M661.6 1669.6v-4M772.9 1012.6v4M764.4 1669.6v-4M531.3 1049.6h4M807.2 1054.1h-4M531.3 1187.2h4M807.2 1191.7h-4M531.3 1324.8h4M807.2 1329.3h-4M531.3 1462.4h4M807.2 1466.9h-4M531.3 1600.0h4M807.2 1604.5h-4" stroke="#444" stroke-width="1.1" fill="none"/>
<svg x="1401.5" y="1012.6" width="275.9" height="657.0" viewBox="0 0 277.00 657.0" preserveAspectRatio="none" overflow="hidden"><g filter="url(#soft)">
<rect x="-5" y="-5" width="300" height="680" fill="#8fbc8f"/>
<g filter="url(#rough)"><use href="#bocB" fill="#1b1b75"/><use href="#bocB2" fill="#1b1b75"/></g>
<g clip-path="url(#oceanclipB)"><path d="M-3.3 417.6C0.8 408.9 20 423.3 27.4 421.5C34.8 419.7 45.2 407.8 52.4 404.2C59.5 400.6 76.3 389.7 81.2 394.6C86 399.4 93.5 428.4 88.9 440.7C84.3 453 58.9 480.6 46.6 486.8C34.3 492.9 3.3 496 -3.3 486.8C-10 477.5 -7.4 426.3 -3.3 417.6Z" fill="#1b1b75" filter="url(#spk3)"/><path d="M-3.3 126C0.8 115.8 20 137.6 27.4 145.2C34.8 152.9 48.3 172.1 52.4 183.6C56.5 195.2 58.9 220.9 58.1 231.7C57.4 242.4 53.3 263 46.6 264.3C40 265.6 14.9 246.9 8.2 241.3C1.5 235.6 -1.8 237.4 -3.3 222.1C-4.9 206.7 -7.4 136.3 -3.3 126Z" fill="#1b1b75" filter="url(#spk3)"/></g>
<g mask="url(#southBm)"><use href="#inwater" fill="#1b1b75" filter="url(#rough)"/></g>
<use href="#speck1" fill="#1b1b75" filter="url(#spk1)"/>
<g filter="url(#rough)"><use href="#flood1" fill="#1b1b75"/>
<use href="#speck1_2" fill="#1b1b75" filter="url(#spk2)"/>
<use href="#ocloud1" fill="#ffffff"/>
<use href="#nodataB" fill="#8fbc8f"/>
<use href="#cloud1" fill="#ffffff"/></g>
</g></svg>
<rect x="1401.5" y="1012.6" width="275.9" height="657.0" fill="none" stroke="#666666" stroke-width="1.4"/>
<path d="M1437.5 1012.6v4M1429.0 1669.6v-4M1540.3 1012.6v4M1531.8 1669.6v-4M1643.1 1012.6v4M1634.6 1669.6v-4M1401.5 1049.6h4M1677.4 1054.1h-4M1401.5 1187.2h4M1677.4 1191.7h-4M1401.5 1324.8h4M1677.4 1329.3h-4M1401.5 1462.4h4M1677.4 1466.9h-4M1401.5 1600.0h4M1677.4 1604.5h-4" stroke="#444" stroke-width="1.1" fill="none"/>
<svg x="1691.8" y="1012.6" width="275.6" height="657.0" viewBox="0 0 277.00 657.0" preserveAspectRatio="none" overflow="hidden"><g filter="url(#soft)">
<rect x="-5" y="-5" width="300" height="680" fill="#d6d6d6"/>
<use href="#canals" stroke="#8fa6bd" stroke-width="0.9"/>
<use href="#ocean" fill="#4783b6" stroke="#c9dcf0" stroke-width="2"/>
<use href="#inwater" fill="#4783b6"/>
</g></svg>
<rect x="1691.8" y="1012.6" width="275.6" height="657.0" fill="none" stroke="#666666" stroke-width="1.4"/>
<path d="M1727.8 1012.6v4M1719.3 1669.6v-4M1830.6 1012.6v4M1822.1 1669.6v-4M1933.4 1012.6v4M1924.9 1669.6v-4M1691.8 1049.6h4M1967.4 1054.1h-4M1691.8 1187.2h4M1967.4 1191.7h-4M1691.8 1324.8h4M1967.4 1329.3h-4M1691.8 1462.4h4M1967.4 1466.9h-4M1691.8 1600.0h4M1967.4 1604.5h-4" stroke="#444" stroke-width="1.1" fill="none"/>
<svg x="1982.2" y="1012.6" width="275.2" height="657.0" viewBox="0 0 277.00 657.0" preserveAspectRatio="none" overflow="hidden"><g filter="url(#soft)">
<rect x="-5" y="-5" width="300" height="680" fill="#d6d6d6"/>
<use href="#canals" stroke="#8fa6bd" stroke-width="0.9"/>
<use href="#ocean" fill="#4783b6" stroke="#c9dcf0" stroke-width="2"/>
<use href="#inwater" fill="#4783b6"/>
<use href="#speck1" fill="#c22022" filter="url(#spk1)"/>
<g filter="url(#rough)"><use href="#flood1" fill="#c22022"/>
<use href="#speck1_2" fill="#c22022" filter="url(#spk2)"/>
<use href="#ocloud1" fill="#ffffff"/>
<use href="#cloud1" fill="#ffffff"/></g>
</g></svg>
<rect x="1982.2" y="1012.6" width="275.2" height="657.0" fill="none" stroke="#666666" stroke-width="1.4"/>
<path d="M2018.2 1012.6v4M2009.7 1669.6v-4M2121.0 1012.6v4M2112.5 1669.6v-4M2223.8 1012.6v4M2215.3 1669.6v-4M1982.2 1049.6h4M2257.4 1054.1h-4M1982.2 1187.2h4M2257.4 1191.7h-4M1982.2 1324.8h4M2257.4 1329.3h-4M1982.2 1462.4h4M2257.4 1466.9h-4M1982.2 1600.0h4M2257.4 1604.5h-4" stroke="#444" stroke-width="1.1" fill="none"/>
<svg x="236.0" y="1772.0" width="284.0" height="656.8" viewBox="0 0 284.00 656.8" preserveAspectRatio="none" overflow="hidden"><g filter="url(#soft)">
<rect x="-5" y="-5" width="300" height="680" fill="#4e8c26"/>
<path d="M104.3 1C127.3 -18.2 270.7 -43.8 296.3 1C321.9 45.8 311.7 302.6 296.3 337.2C281 371.7 204.1 285.9 181.1 260.3C158 234.7 133.7 179.6 123.5 145.1C113.2 110.5 81.2 20.2 104.3 1Z" fill="#468024" filter="url(#b16)" opacity="0.6"/>
<path d="M158 394.8C162.6 381.5 194.9 385.8 204.1 390.9C213.4 396.1 223.1 417.3 227.2 433.2C231.3 449.1 237.9 497.2 234.9 510C231.8 522.8 212.8 531.8 204.1 529.2C195.4 526.7 175.7 508.8 169.6 490.8C163.4 472.9 153.4 408.1 158 394.8Z" fill="#24401a" filter="url(#b8)" opacity="0.85"/>
<path d="M196.5 590.7C200 582.5 229.2 576.9 234.9 583C240.5 589.2 242.3 628.6 238.7 636.8C235.1 645 213.6 650.6 208 644.5C202.3 638.3 192.9 598.9 196.5 590.7Z" fill="#28461c" filter="url(#b8)" opacity="0.7"/>
<use href="#speck2" fill="#284c1e" filter="url(#b4)" opacity="0.5" transform="scale(1.025 1)"/>
<use href="#inwater" fill="#0a1018" filter="url(#b1)" opacity="0.95" transform="scale(1.025 1)"/>
<use href="#ocean" fill="#060a18" transform="scale(1.025 1)"/>
<path d="M8.2 1C13.3 21.2 37.7 113.1 46.6 152.8C55.6 192.5 68.5 261.3 75.4 298.7C82.4 336.1 92.1 402.5 98.5 433.2C104.9 463.9 112.4 499 123.5 529.2C134.5 559.5 173.4 642.4 181.1 659.9" fill="none" stroke="#78a032" stroke-width="6.1" stroke-linecap="butt" filter="url(#b2)" opacity="0.6"/>
<g transform="scale(1.025 1)"><path d="M20 0H290V660H175L120 540L90 440L70 300L50 180L30 90Z" fill="#eef4e4" filter="url(#spk4)" opacity="0.9"/></g>
<use href="#cloud2" fill="#f0f6e8" filter="url(#b1)" opacity="0.95" transform="scale(1.025 1)"/>
</g></svg>
<svg x="531.5" y="1772.0" width="275.1" height="656.8" viewBox="0 0 277.00 656.8" preserveAspectRatio="none" overflow="hidden"><g filter="url(#soft)">
<rect x="-5" y="-5" width="300" height="680" fill="#7aa286"/>
<use href="#speck2" fill="#324074" filter="url(#b2)" opacity="0.5" />
<use href="#speck2_2" fill="#607e82" filter="url(#b8)" opacity="0.3" />
<use href="#flood2" fill="#283070" filter="url(#b2)" opacity="0.8" />
<use href="#inwater" fill="#282e70" filter="url(#b1)" opacity="0.95" />
<use href="#ocean" fill="#282e74" />
<g clip-path="url(#oceanclipC)">
<path d="M62.8 1C64.9 20.2 72.5 105.4 78.2 145.1C83.8 184.8 97.9 257.8 105.1 298.7C112.2 339.7 122.7 416.6 132 452.4C141.2 488.3 160.9 539 174.2 567.7C187.5 596.3 224.2 654.2 231.8 667.5" fill="none" stroke="#465686" stroke-width="23.1" stroke-linecap="butt" filter="url(#b8)" opacity="0.6"/>
</g>
<use href="#cloud2" fill="#ffffff" />
</g></svg>
<rect x="531.5" y="1772.0" width="275.1" height="656.8" fill="none" stroke="#666666" stroke-width="1.4"/>
<path d="M567.5 1772.0v4M559.0 2428.8v-4M670.3 1772.0v4M661.8 2428.8v-4M773.1 1772.0v4M764.6 2428.8v-4M531.5 1809.0h4M806.6 1813.5h-4M531.5 1946.6h4M806.6 1951.1h-4M531.5 2084.2h4M806.6 2088.7h-4M531.5 2221.8h4M806.6 2226.3h-4M531.5 2359.4h4M806.6 2363.9h-4" stroke="#444" stroke-width="1.1" fill="none"/>
<svg x="1400.6" y="1772.0" width="276.4" height="656.8" viewBox="0 0 277.00 656.8" preserveAspectRatio="none" overflow="hidden"><g filter="url(#soft)">
<rect x="-5" y="-5" width="300" height="680" fill="#8fbc8f"/>
<use href="#ocean" fill="#1b1b75"/>
<use href="#inwater" fill="#1b1b75"/>
<use href="#speck2" fill="#1b1b75" filter="url(#spk1)"/>
<g filter="url(#rough)"><use href="#flood2" fill="#1b1b75"/>
<use href="#speck2_2" fill="#1b1b75" filter="url(#spk2)" opacity="0.8"/>
<use href="#cloud2" fill="#ffffff"/></g>
</g></svg>
<rect x="1400.6" y="1772.0" width="276.4" height="656.8" fill="none" stroke="#666666" stroke-width="1.4"/>
<path d="M1436.6 1772.0v4M1428.1 2428.8v-4M1539.4 1772.0v4M1530.9 2428.8v-4M1642.2 1772.0v4M1633.7 2428.8v-4M1400.6 1809.0h4M1677.0 1813.5h-4M1400.6 1946.6h4M1677.0 1951.1h-4M1400.6 2084.2h4M1677.0 2088.7h-4M1400.6 2221.8h4M1677.0 2226.3h-4M1400.6 2359.4h4M1677.0 2363.9h-4" stroke="#444" stroke-width="1.1" fill="none"/>
<svg x="1689.3" y="1772.0" width="275.9" height="656.8" viewBox="0 0 277.00 656.8" preserveAspectRatio="none" overflow="hidden"><g filter="url(#soft)">
<rect x="-5" y="-5" width="300" height="680" fill="#d6d6d6"/>
<use href="#canals" stroke="#8fa6bd" stroke-width="0.9"/>
<use href="#ocean" fill="#4783b6" stroke="#c9dcf0" stroke-width="2"/>
<use href="#inwater" fill="#4783b6"/>
</g></svg>
<rect x="1689.3" y="1772.0" width="275.9" height="656.8" fill="none" stroke="#666666" stroke-width="1.4"/>
<path d="M1725.3 1772.0v4M1716.8 2428.8v-4M1828.1 1772.0v4M1819.6 2428.8v-4M1930.9 1772.0v4M1922.4 2428.8v-4M1689.3 1809.0h4M1965.2 1813.5h-4M1689.3 1946.6h4M1965.2 1951.1h-4M1689.3 2084.2h4M1965.2 2088.7h-4M1689.3 2221.8h4M1965.2 2226.3h-4M1689.3 2359.4h4M1965.2 2363.9h-4" stroke="#444" stroke-width="1.1" fill="none"/>
<svg x="1979.4" y="1772.0" width="275.6" height="656.8" viewBox="0 0 277.00 656.8" preserveAspectRatio="none" overflow="hidden"><g filter="url(#soft)">
<rect x="-5" y="-5" width="300" height="680" fill="#d6d6d6"/>
<use href="#canals" stroke="#8fa6bd" stroke-width="0.9"/>
<use href="#ocean" fill="#4783b6" stroke="#c9dcf0" stroke-width="2"/>
<use href="#inwater" fill="#4783b6"/>
<use href="#speck2" fill="#c22022" filter="url(#spk1)"/>
<g filter="url(#rough)"><use href="#flood2" fill="#c22022"/>
<use href="#speck2_2" fill="#c22022" filter="url(#spk2)" opacity="0.75"/>
<use href="#cloud2" fill="#ffffff"/></g>
</g></svg>
<rect x="1979.4" y="1772.0" width="275.6" height="656.8" fill="none" stroke="#666666" stroke-width="1.4"/>
<path d="M2015.4 1772.0v4M2006.9 2428.8v-4M2118.2 1772.0v4M2109.7 2428.8v-4M2221.0 1772.0v4M2212.5 2428.8v-4M1979.4 1809.0h4M2255.0 1813.5h-4M1979.4 1946.6h4M2255.0 1951.1h-4M1979.4 2084.2h4M2255.0 2088.7h-4M1979.4 2221.8h4M2255.0 2226.3h-4M1979.4 2359.4h4M2255.0 2363.9h-4" stroke="#444" stroke-width="1.1" fill="none"/>
<svg x="236.0" y="2531.3" width="284.0" height="657.5" viewBox="0 0 284.00 657.5" preserveAspectRatio="none" overflow="hidden"><g filter="url(#soft)">
<rect x="-5" y="-5" width="300" height="680" fill="#56922a"/>
<path d="M73.5 67.8C83.8 55 152.4 43.5 181.1 48.6C209.8 53.7 274.3 83.2 288.7 106.3C303 129.3 303 210.2 288.7 221.5C274.3 232.8 205.7 201 181.1 190.8C156.5 180.5 118.6 161.1 104.3 144.7C89.9 128.3 63.3 80.6 73.5 67.8Z" fill="#70a048" filter="url(#b16)" opacity="0.6"/>
<path d="M181.1 0.6C191.3 -8.4 281 -10.9 296.3 0.6C311.7 12.1 306.6 78.1 296.3 87C286.1 96 234.9 79.4 219.5 67.8C204.1 56.3 170.8 9.6 181.1 0.6Z" fill="#607832" filter="url(#b16)" opacity="0.6"/>
<path d="M204.1 336.8C213.4 325 284 307.3 296.3 317.5C308.6 327.8 305.6 401.8 296.3 413.6C287.1 425.4 239.5 416.2 227.2 405.9C214.9 395.7 194.9 348.5 204.1 336.8Z" fill="#607832" filter="url(#b16)" opacity="0.6"/>
<path d="M111.9 432.8C119.1 422.6 160.3 414.9 169.6 425.1C178.8 435.4 183.6 493.2 181.1 509.6C178.5 526 159.1 549.1 150.4 548C141.6 547 120.9 517.3 115.8 501.9C110.7 486.6 104.8 443 111.9 432.8Z" fill="#68d640" filter="url(#b8)" opacity="0.8"/>
<path d="M204.1 413.6C209.3 406.4 249.7 400.8 257.9 405.9C266.1 411 270.7 444.8 265.6 452C260.5 459.2 227.7 464.8 219.5 459.7C211.3 454.6 199 420.8 204.1 413.6Z" fill="#8cc878" filter="url(#b8)" opacity="0.7"/>
<path d="M173.4 452C179.5 444.3 226.7 453.3 234.9 463.5C243.1 473.8 241 521.2 234.9 528.8C228.7 536.5 197 531.4 188.8 521.2C180.6 510.9 167.3 459.7 173.4 452Z" fill="#466e28" filter="url(#b8)" opacity="0.6"/>
<path d="M196.5 613.4C200.6 608.2 229.7 601.6 234.9 605.7C240 609.8 239 639 234.9 644.1C230.8 649.2 209.3 648.2 204.1 644.1C199 640 192.4 618.5 196.5 613.4Z" fill="#3c6424" filter="url(#b4)" opacity="0.7"/>
<use href="#inwater" fill="#142224" filter="url(#b1)" opacity="0.95" transform="scale(1.025 1)"/>
<use href="#ocean" fill="#0a1822" transform="scale(1.025 1)"/>
<g clip-path="url(#oceanclipDR)">
<path d="M-11 163.9C-3.3 127 34.3 143.4 46.6 156.2C58.9 169 76.1 230.7 81.2 259.9C86.3 289.1 87.1 352.1 85 375.2C83 398.2 78.6 425.1 65.8 432.8C53 440.5 -0.8 468.7 -11 432.8C-21.2 396.9 -18.7 200.8 -11 163.9Z" fill="#3a6262" filter="url(#b16)" opacity="0.7"/>
<path d="M-11 432.8C1.8 405.1 68.1 434.1 85 452C101.9 469.9 118.3 539.6 115.8 567.3C113.2 594.9 82.7 647.2 65.8 659.5C48.9 671.8 -0.8 689.7 -11 659.5C-21.2 629.2 -23.8 460.5 -11 432.8Z" fill="#1a2c32" filter="url(#b16)" opacity="0.7"/>
</g>
<path d="M8.2 0.6C13.3 20.8 37.7 112.7 46.6 152.4C55.6 192.1 68.5 260.9 75.4 298.3C82.4 335.7 92.1 402.1 98.5 432.8C104.9 463.5 112.4 498.6 123.5 528.8C134.5 559.1 173.4 642 181.1 659.5" fill="none" stroke="#82a03c" stroke-width="5.4" stroke-linecap="butt" filter="url(#b2)" opacity="0.5"/>
</g></svg>
<svg x="531.5" y="2531.3" width="275.5" height="657.5" viewBox="0 0 277.00 657.5" preserveAspectRatio="none" overflow="hidden"><g filter="url(#soft)">
<rect x="-5" y="-5" width="300" height="680" fill="#84a88a"/>
<path d="M78.2 0.6C100.2 -10.9 254.6 -23.7 281.8 0.6C308.9 24.9 293.6 162.9 281.8 183.1C270 203.3 215.4 165.2 193.4 152.4C171.4 139.5 132 107.3 116.6 87C101.2 66.8 56.1 12.1 78.2 0.6Z" fill="#7a9c8c" filter="url(#b16)" opacity="0.7"/>
<path d="M116.6 375.2C132 362.4 209.8 379 231.8 394.4C253.9 409.7 281.8 457.1 281.8 490.4C281.8 523.7 248.7 628.7 231.8 644.1C214.9 659.5 170.4 626.2 155 605.7C139.6 585.2 121.7 521.2 116.6 490.4C111.5 459.7 101.2 388 116.6 375.2Z" fill="#708e88" filter="url(#b16)" opacity="0.6"/>
<use href="#speck3" fill="#465a7c" filter="url(#b2)" opacity="0.6" />
<use href="#inwater" fill="#364074" filter="url(#b1)" opacity="0.9" />
<use href="#ocean" fill="#343c78" />
<g clip-path="url(#oceanclipD)">
<path d="M-6.3 221.5C-0.2 193.8 28.5 190.8 39.8 206.1C51 221.5 73 306.5 78.2 336.8C83.3 367 83.3 414.9 78.2 432.8C73 450.7 51 473.8 39.8 471.2C28.5 468.7 -0.2 446.9 -6.3 413.6C-12.5 380.3 -12.5 249.2 -6.3 221.5Z" fill="#566a8e" filter="url(#b16)" opacity="0.8"/>
<path d="M-6.3 509.6C4.9 483.5 59.2 463.5 78.2 471.2C97.1 478.9 123 541.1 135.8 567.3C148.6 593.4 193.2 653.8 174.2 667.1C155.3 680.5 17.7 688.1 -6.3 667.1C-30.4 646.1 -17.6 535.8 -6.3 509.6Z" fill="#4a5c88" filter="url(#b16)" opacity="0.8"/>
<path d="M1.3 444.3C9 450.5 44.6 482.7 59 490.4C73.3 498.1 102.2 500.4 108.9 501.9" fill="none" stroke="#282c70" stroke-width="26.9" stroke-linecap="butt" filter="url(#b8)" opacity="0.7"/>
</g>
<use href="#cloud3" fill="#ffffff" />
</g></svg>
<rect x="531.5" y="2531.3" width="275.5" height="657.5" fill="none" stroke="#666666" stroke-width="1.4"/>
<path d="M567.5 2531.3v4M559.0 3188.8v-4M670.3 2531.3v4M661.8 3188.8v-4M773.1 2531.3v4M764.6 3188.8v-4M531.5 2568.3h4M807.0 2572.8h-4M531.5 2705.9h4M807.0 2710.4h-4M531.5 2843.5h4M807.0 2848.0h-4M531.5 2981.1h4M807.0 2985.6h-4M531.5 3118.7h4M807.0 3123.2h-4" stroke="#444" stroke-width="1.1" fill="none"/>
<svg x="1401.5" y="2531.3" width="275.7" height="657.5" viewBox="0 0 277.00 657.5" preserveAspectRatio="none" overflow="hidden"><g filter="url(#soft)">
<rect x="-5" y="-5" width="300" height="680" fill="#8fbc8f"/>
<use href="#ocean" fill="#1b1b75"/>
<use href="#inwater" fill="#1b1b75"/>
<use href="#speck3" fill="#1b1b75" filter="url(#spk1)"/>
<g filter="url(#rough)"><use href="#flood3" fill="#1b1b75"/>
<use href="#cloud3" fill="#ffffff"/></g>
</g></svg>
<rect x="1401.5" y="2531.3" width="275.7" height="657.5" fill="none" stroke="#666666" stroke-width="1.4"/>
<path d="M1437.5 2531.3v4M1429.0 3188.8v-4M1540.3 2531.3v4M1531.8 3188.8v-4M1643.1 2531.3v4M1634.6 3188.8v-4M1401.5 2568.3h4M1677.2 2572.8h-4M1401.5 2705.9h4M1677.2 2710.4h-4M1401.5 2843.5h4M1677.2 2848.0h-4M1401.5 2981.1h4M1677.2 2985.6h-4M1401.5 3118.7h4M1677.2 3123.2h-4" stroke="#444" stroke-width="1.1" fill="none"/>
<svg x="1691.4" y="2531.3" width="275.8" height="657.5" viewBox="0 0 277.00 657.5" preserveAspectRatio="none" overflow="hidden"><g filter="url(#soft)">
<rect x="-5" y="-5" width="300" height="680" fill="#d6d6d6"/>
<use href="#canals" stroke="#8fa6bd" stroke-width="0.9"/>
<use href="#ocean" fill="#4783b6" stroke="#c9dcf0" stroke-width="2"/>
<use href="#inwater" fill="#4783b6"/>
</g></svg>
<rect x="1691.4" y="2531.3" width="275.8" height="657.5" fill="none" stroke="#666666" stroke-width="1.4"/>
<path d="M1727.4 2531.3v4M1718.9 3188.8v-4M1830.2 2531.3v4M1821.7 3188.8v-4M1933.0 2531.3v4M1924.5 3188.8v-4M1691.4 2568.3h4M1967.2 2572.8h-4M1691.4 2705.9h4M1967.2 2710.4h-4M1691.4 2843.5h4M1967.2 2848.0h-4M1691.4 2981.1h4M1967.2 2985.6h-4M1691.4 3118.7h4M1967.2 3123.2h-4" stroke="#444" stroke-width="1.1" fill="none"/>
<svg x="1982.2" y="2531.3" width="275.2" height="657.5" viewBox="0 0 277.00 657.5" preserveAspectRatio="none" overflow="hidden"><g filter="url(#soft)">
<rect x="-5" y="-5" width="300" height="680" fill="#d6d6d6"/>
<use href="#canals" stroke="#8fa6bd" stroke-width="0.9"/>
<use href="#ocean" fill="#4783b6" stroke="#c9dcf0" stroke-width="2"/>
<use href="#inwater" fill="#4783b6"/>
<use href="#speck3" fill="#c22022" filter="url(#spk1)"/>
<g filter="url(#rough)"><use href="#flood3" fill="#c22022"/>
<use href="#cloud3" fill="#ffffff"/></g>
</g></svg>
<rect x="1982.2" y="2531.3" width="275.2" height="657.5" fill="none" stroke="#666666" stroke-width="1.4"/>
<path d="M2018.2 2531.3v4M2009.7 3188.8v-4M2121.0 2531.3v4M2112.5 3188.8v-4M2223.8 2531.3v4M2215.3 3188.8v-4M1982.2 2568.3h4M2257.4 2572.8h-4M1982.2 2705.9h4M2257.4 2710.4h-4M1982.2 2843.5h4M2257.4 2848.0h-4M1982.2 2981.1h4M2257.4 2985.6h-4M1982.2 3118.7h4M2257.4 3123.2h-4" stroke="#444" stroke-width="1.1" fill="none"/>
<rect x="530.7" y="3207.5" width="276.8" height="34.5" fill="url(#wigrad)" stroke="#777" stroke-width="1"/>
<path d="M553.8 3242.0V3246.0" stroke="#555" stroke-width="1"/>
<text transform="translate(568.5 3250.0) rotate(-90)" font-family="'DejaVu Sans','Liberation Sans',sans-serif" font-size="40.2" text-anchor="end" fill="#1a1a1a" >Not Water</text>
<path d="M670.5 3242.0V3246.0" stroke="#555" stroke-width="1"/>
<text transform="translate(685.2 3250.0) rotate(-90)" font-family="'DejaVu Sans','Liberation Sans',sans-serif" font-size="40.2" text-anchor="end" fill="#1a1a1a" >0.14</text>
<path d="M780.7 3242.0V3246.0" stroke="#555" stroke-width="1"/>
<text transform="translate(795.4 3250.0) rotate(-90)" font-family="'DejaVu Sans','Liberation Sans',sans-serif" font-size="40.2" text-anchor="end" fill="#1a1a1a" >Water</text>
<rect x="1400.6" y="3207.5" width="138.1" height="34.5" fill="#8fbc8f"/>
<rect x="1538.7" y="3207.5" width="138.7" height="34.5" fill="#191970"/>
<rect x="1400.6" y="3207.5" width="276.8" height="34.5" fill="none" stroke="#777" stroke-width="1"/>
<rect x="1690.5" y="3207.5" width="138.1" height="34.5" fill="#d7d7d7"/>
<rect x="1828.6" y="3207.5" width="138.7" height="34.5" fill="#4682b4"/>
<rect x="1690.5" y="3207.5" width="276.8" height="34.5" fill="none" stroke="#777" stroke-width="1"/>
<rect x="1981.0" y="3207.5" width="92.3" height="34.5" fill="#d7d7d7"/>
<rect x="2073.3" y="3207.5" width="91.7" height="34.5" fill="#4682b4"/>
<rect x="2165.0" y="3207.5" width="92.8" height="34.5" fill="#b92224"/>
<rect x="1981.0" y="3207.5" width="276.8" height="34.5" fill="none" stroke="#777" stroke-width="1"/>
<path d="M1470.5 3242.0V3246.0" stroke="#555" stroke-width="1"/>
<text transform="translate(1484.2 3250.5) rotate(-90)" font-family="'DejaVu Sans','Liberation Sans',sans-serif" font-size="40.2" text-anchor="end" fill="#1a1a1a" >Land</text>
<path d="M1607.5 3242.0V3246.0" stroke="#555" stroke-width="1"/>
<text transform="translate(1621.2 3250.5) rotate(-90)" font-family="'DejaVu Sans','Liberation Sans',sans-serif" font-size="40.2" text-anchor="end" fill="#1a1a1a" >Water</text>
<path d="M1761.0 3242.0V3246.0" stroke="#555" stroke-width="1"/>
<text transform="translate(1774.7 3250.5) rotate(-90)" font-family="'DejaVu Sans','Liberation Sans',sans-serif" font-size="40.2" text-anchor="end" fill="#1a1a1a" >Land</text>
<path d="M1897.4 3242.0V3246.0" stroke="#555" stroke-width="1"/>
<text transform="translate(1911.1 3250.5) rotate(-90)" font-family="'DejaVu Sans','Liberation Sans',sans-serif" font-size="40.2" text-anchor="end" fill="#1a1a1a" >Water</text>
<path d="M2022.9 3242.0V3246.0" stroke="#555" stroke-width="1"/>
<text transform="translate(2036.6 3250.5) rotate(-90)" font-family="'DejaVu Sans','Liberation Sans',sans-serif" font-size="40.2" text-anchor="end" fill="#1a1a1a" >Land</text>
<path d="M2117.4 3242.0V3246.0" stroke="#555" stroke-width="1"/>
<text transform="translate(2131.1 3250.5) rotate(-90)" font-family="'DejaVu Sans','Liberation Sans',sans-serif" font-size="40.2" text-anchor="end" fill="#1a1a1a" >Water</text>
<path d="M2216.5 3242.0V3246.0" stroke="#555" stroke-width="1"/>
<text transform="translate(2230.2 3250.5) rotate(-90)" font-family="'DejaVu Sans','Liberation Sans',sans-serif" font-size="40.2" text-anchor="end" fill="#1a1a1a" >Flood</text>
</svg>
</body></html>
